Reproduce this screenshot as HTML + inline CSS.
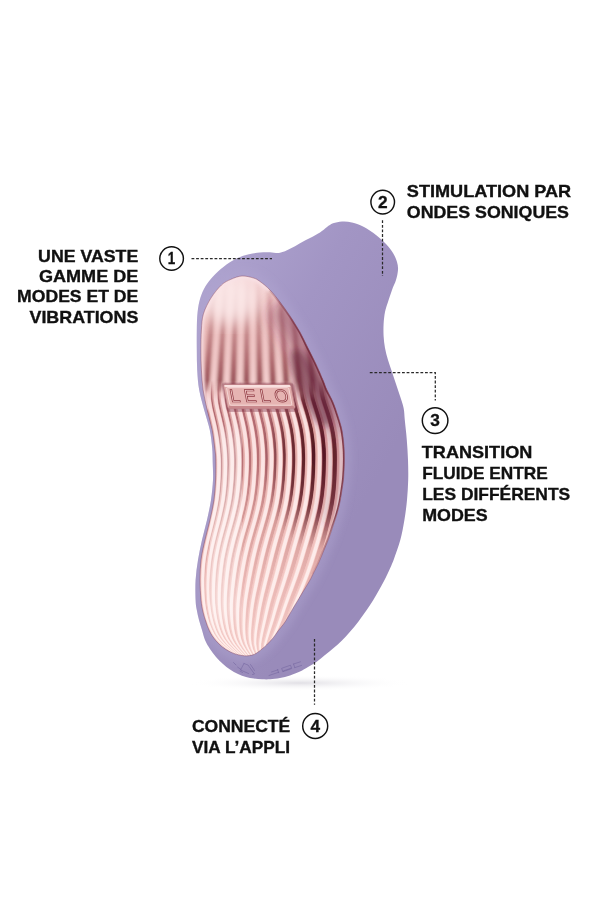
<!DOCTYPE html>
<html><head><meta charset="utf-8"><title>infographic</title>
<style>
html,body{margin:0;padding:0;background:#fff;}
body{width:600px;height:900px;overflow:hidden;font-family:"Liberation Sans",sans-serif;}
svg{display:block;will-change:transform}
svg text{font-family:"Liberation Sans",sans-serif;font-weight:bold;fill:#111;}
</style></head><body>
<svg width="600" height="900" viewBox="0 0 600 900">
<defs>
<linearGradient id="pg" x1="195" y1="300" x2="410" y2="420" gradientUnits="userSpaceOnUse">
<stop offset="0" stop-color="#ada2ce"/><stop offset="0.4" stop-color="#a295c4"/><stop offset="1" stop-color="#998bba"/>
</linearGradient>
<linearGradient id="pinkv" x1="0" y1="277" x2="0" y2="656" gradientUnits="userSpaceOnUse">
<stop offset="0" stop-color="#f5d6d8"/><stop offset="0.06" stop-color="#eec0be"/><stop offset="0.25" stop-color="#e1acaa"/><stop offset="0.45" stop-color="#edbcb8"/><stop offset="0.7" stop-color="#f6cec9"/><stop offset="1" stop-color="#fadcd7"/>
</linearGradient>
<linearGradient id="gdark" x1="0" y1="277" x2="0" y2="656" gradientUnits="userSpaceOnUse">
<stop offset="0.02" stop-color="#b97f92" stop-opacity="0"/><stop offset="0.1" stop-color="#a05a74" stop-opacity="0.8"/><stop offset="0.3" stop-color="#a85c66" stop-opacity="0.9"/><stop offset="0.5" stop-color="#b46a70" stop-opacity="0.9"/><stop offset="0.66" stop-color="#d29492" stop-opacity="0.8"/><stop offset="0.82" stop-color="#e4acaa" stop-opacity="0.7"/><stop offset="1" stop-color="#eebfbc" stop-opacity="0.6"/>
</linearGradient>
<linearGradient id="gmid" x1="0" y1="277" x2="0" y2="656" gradientUnits="userSpaceOnUse">
<stop offset="0" stop-color="#c58fa0" stop-opacity="0"/><stop offset="0.15" stop-color="#c58a9a" stop-opacity="0.5"/><stop offset="0.4" stop-color="#d69694" stop-opacity="0.6"/><stop offset="0.7" stop-color="#eebab8" stop-opacity="0.7"/><stop offset="1" stop-color="#f4cac8" stop-opacity="0.6"/>
</linearGradient>
<linearGradient id="glite" x1="0" y1="277" x2="0" y2="656" gradientUnits="userSpaceOnUse">
<stop offset="0" stop-color="#f6dde2" stop-opacity="0.2"/><stop offset="0.2" stop-color="#f2ccd2" stop-opacity="0.6"/><stop offset="0.36" stop-color="#fbe2e2" stop-opacity="0.95"/><stop offset="0.7" stop-color="#fdebea" stop-opacity="1"/><stop offset="1" stop-color="#fff0ee" stop-opacity="1"/>
</linearGradient>
<radialGradient id="dkov" cx="0.5" cy="0.5" r="0.5"><stop offset="0" stop-color="#6e2a40" stop-opacity="0.42"/><stop offset="0.5" stop-color="#6e2a40" stop-opacity="0.2"/><stop offset="1" stop-color="#6e2a40" stop-opacity="0"/></radialGradient>
<radialGradient id="ltov" cx="0.5" cy="0.5" r="0.5"><stop offset="0" stop-color="#fff" stop-opacity="0.35"/><stop offset="1" stop-color="#fff" stop-opacity="0"/></radialGradient>
<radialGradient id="gdeep" gradientUnits="userSpaceOnUse" cx="318" cy="455" r="95" gradientTransform="translate(318 455) scale(0.62 1) translate(-318 -455)"><stop offset="0" stop-color="#4a1018" stop-opacity="0.95"/><stop offset="0.55" stop-color="#5a1a22" stop-opacity="0.75"/><stop offset="1" stop-color="#6a2630" stop-opacity="0"/></radialGradient>
<linearGradient id="rimg" x1="0" y1="280" x2="0" y2="570" gradientUnits="userSpaceOnUse"><stop offset="0" stop-color="#6d2436" stop-opacity="0"/><stop offset="0.2" stop-color="#6d2436" stop-opacity="0.8"/><stop offset="0.8" stop-color="#6d2436" stop-opacity="0.8"/><stop offset="1" stop-color="#6d2436" stop-opacity="0.1"/></linearGradient>
<radialGradient id="shadow" cx="0.5" cy="0.5" r="0.5"><stop offset="0" stop-color="#d4d2da" stop-opacity="0.7"/><stop offset="1" stop-color="#ffffff" stop-opacity="0"/></radialGradient>
<g id="rg">
<g fill="url(#gdark)"><path d="M214.1,274.0 L213.7,279.0 L213.3,284.0 L212.9,289.0 L212.5,294.0 L212.1,299.0 L211.7,304.0 L211.3,309.0 L210.9,314.0 L210.5,319.0 L210.1,324.0 L209.7,329.0 L209.3,334.0 L208.9,339.0 L208.5,344.0 L208.1,349.0 L207.7,354.0 L207.3,359.0 L206.9,364.0 L206.5,369.0 L206.2,374.0 L205.8,379.0 L205.4,384.0 L205.0,389.0 L204.8,394.0 L205.0,399.0 L205.6,404.0 L206.6,409.0 L207.7,414.0 L209.0,419.0 L210.1,424.0 L211.2,429.0 L212.2,434.0 L212.9,439.0 L213.6,444.0 L214.2,449.0 L214.7,454.0 L215.0,459.0 L215.2,464.0 L215.2,469.0 L215.1,474.0 L215.0,479.0 L214.7,484.0 L214.4,489.0 L213.9,494.0 L213.3,499.0 L212.6,504.0 L211.7,509.0 L210.7,514.0 L209.6,519.0 L208.5,524.0 L207.2,529.0 L206.0,534.0 L204.9,539.0 L203.7,544.0 L202.7,549.0 L201.8,554.0 L201.0,559.0 L200.4,564.0 L200.1,569.0 L199.9,574.0 L199.8,579.0 L199.8,584.0 L200.0,589.0 L200.3,594.0 L200.7,599.0 L201.3,604.0 L202.2,609.0 L203.3,614.0 L204.8,619.0 L206.5,624.0 L208.6,629.0 L211.4,634.0 L215.1,639.0 L220.0,644.0 L226.3,649.0 L233.1,654.0 L239.5,659.0 L239.7,659.0 L233.3,654.0 L226.6,649.0 L220.4,644.0 L215.4,639.0 L211.8,634.0 L209.1,629.0 L207.0,624.0 L205.3,619.0 L203.9,614.0 L202.7,609.0 L201.9,604.0 L201.3,599.0 L200.8,594.0 L200.6,589.0 L200.4,584.0 L200.4,579.0 L200.5,574.0 L200.7,569.0 L201.1,564.0 L201.7,559.0 L202.4,554.0 L203.4,549.0 L204.4,544.0 L205.5,539.0 L206.7,534.0 L207.9,529.0 L209.2,524.0 L210.3,519.0 L211.4,514.0 L212.4,509.0 L213.3,504.0 L214.1,499.0 L214.7,494.0 L215.1,489.0 L215.5,484.0 L215.7,479.0 L215.9,474.0 L216.0,469.0 L216.0,464.0 L215.8,459.0 L215.5,454.0 L215.0,449.0 L214.4,444.0 L213.8,439.0 L213.0,434.0 L212.1,429.0 L211.0,424.0 L209.8,419.0 L208.6,414.0 L207.4,409.0 L206.5,404.0 L205.8,399.0 L205.7,394.0 L205.8,389.0 L206.2,384.0 L206.6,379.0 L206.9,374.0 L207.3,369.0 L207.7,364.0 L208.1,359.0 L208.5,354.0 L208.9,349.0 L209.3,344.0 L209.7,339.0 L210.1,334.0 L210.5,329.0 L210.9,324.0 L211.2,319.0 L211.6,314.0 L212.0,309.0 L212.4,304.0 L212.8,299.0 L213.2,294.0 L213.6,289.0 L214.0,284.0 L214.4,279.0 L214.8,274.0Z"/>
<path d="M218.9,274.0 L218.6,279.0 L218.2,284.0 L217.9,289.0 L217.5,294.0 L217.2,299.0 L216.9,304.0 L216.5,309.0 L216.2,314.0 L215.8,319.0 L215.5,324.0 L215.1,329.0 L214.8,334.0 L214.4,339.0 L214.1,344.0 L213.7,349.0 L213.4,354.0 L213.0,359.0 L212.7,364.0 L212.3,369.0 L212.0,374.0 L211.6,379.0 L211.3,384.0 L211.0,389.0 L210.9,394.0 L211.1,399.0 L211.8,404.0 L212.7,409.0 L213.9,414.0 L215.1,419.0 L216.3,424.0 L217.3,429.0 L218.2,434.0 L219.0,439.0 L219.6,444.0 L220.2,449.0 L220.6,454.0 L220.9,459.0 L221.0,464.0 L220.9,469.0 L220.8,474.0 L220.6,479.0 L220.3,484.0 L219.9,489.0 L219.5,494.0 L218.8,499.0 L218.0,504.0 L217.1,509.0 L216.0,514.0 L214.9,519.0 L213.7,524.0 L212.4,529.0 L211.1,534.0 L209.9,539.0 L208.8,544.0 L207.7,549.0 L206.8,554.0 L205.9,559.0 L205.3,564.0 L204.9,569.0 L204.6,574.0 L204.4,579.0 L204.4,584.0 L204.5,589.0 L204.6,594.0 L205.0,599.0 L205.5,604.0 L206.2,609.0 L207.2,614.0 L208.5,619.0 L210.0,624.0 L212.0,629.0 L214.5,634.0 L217.9,639.0 L222.5,644.0 L228.4,649.0 L234.8,654.0 L240.9,659.0 L241.3,659.0 L235.2,654.0 L228.9,649.0 L223.1,644.0 L218.5,639.0 L215.2,634.0 L212.8,629.0 L210.9,624.0 L209.4,619.0 L208.1,614.0 L207.2,609.0 L206.4,604.0 L205.9,599.0 L205.7,594.0 L205.5,589.0 L205.4,584.0 L205.5,579.0 L205.7,574.0 L206.0,569.0 L206.5,564.0 L207.1,559.0 L207.9,554.0 L208.9,549.0 L209.9,544.0 L211.1,539.0 L212.3,534.0 L213.6,529.0 L214.9,524.0 L216.1,519.0 L217.2,514.0 L218.3,509.0 L219.3,504.0 L220.1,499.0 L220.7,494.0 L221.2,489.0 L221.6,484.0 L221.9,479.0 L222.1,474.0 L222.3,469.0 L222.3,464.0 L222.2,459.0 L221.9,454.0 L221.5,449.0 L221.0,444.0 L220.3,439.0 L219.6,434.0 L218.7,429.0 L217.6,424.0 L216.5,419.0 L215.3,414.0 L214.1,409.0 L213.1,404.0 L212.5,399.0 L212.2,394.0 L212.4,389.0 L212.6,384.0 L213.0,379.0 L213.3,374.0 L213.6,369.0 L214.0,364.0 L214.3,359.0 L214.6,354.0 L215.0,349.0 L215.3,344.0 L215.7,339.0 L216.0,334.0 L216.3,329.0 L216.7,324.0 L217.0,319.0 L217.3,314.0 L217.7,309.0 L218.0,304.0 L218.3,299.0 L218.7,294.0 L219.0,289.0 L219.4,284.0 L219.7,279.0 L220.0,274.0Z"/>
<path d="M224.3,274.0 L224.0,279.0 L223.7,284.0 L223.4,289.0 L223.1,294.0 L222.8,299.0 L222.5,304.0 L222.2,309.0 L222.0,314.0 L221.7,319.0 L221.4,324.0 L221.1,329.0 L220.8,334.0 L220.5,339.0 L220.2,344.0 L219.9,349.0 L219.6,354.0 L219.3,359.0 L219.0,364.0 L218.8,369.0 L218.5,374.0 L218.2,379.0 L217.9,384.0 L217.6,389.0 L217.6,394.0 L217.9,399.0 L218.5,404.0 L219.5,409.0 L220.7,414.0 L221.9,419.0 L223.0,424.0 L224.1,429.0 L225.0,434.0 L225.7,439.0 L226.3,444.0 L226.8,449.0 L227.2,454.0 L227.4,459.0 L227.5,464.0 L227.4,469.0 L227.3,474.0 L227.0,479.0 L226.7,484.0 L226.3,489.0 L225.7,494.0 L225.1,499.0 L224.2,504.0 L223.2,509.0 L222.1,514.0 L220.9,519.0 L219.7,524.0 L218.3,529.0 L217.0,534.0 L215.8,539.0 L214.6,544.0 L213.5,549.0 L212.5,554.0 L211.6,559.0 L211.0,564.0 L210.5,569.0 L210.1,574.0 L209.8,579.0 L209.7,584.0 L209.6,589.0 L209.7,594.0 L209.9,599.0 L210.3,604.0 L210.9,609.0 L211.7,614.0 L212.8,619.0 L214.1,624.0 L215.9,629.0 L218.1,634.0 L221.2,639.0 L225.4,644.0 L230.8,649.0 L236.8,654.0 L242.6,659.0 L242.9,659.0 L237.3,654.0 L231.4,649.0 L226.0,644.0 L221.9,639.0 L218.9,634.0 L216.8,629.0 L215.1,624.0 L213.8,619.0 L212.8,614.0 L212.0,609.0 L211.4,604.0 L211.0,599.0 L210.9,594.0 L210.9,589.0 L210.9,584.0 L211.1,579.0 L211.4,574.0 L211.8,569.0 L212.3,564.0 L213.0,559.0 L213.8,554.0 L214.8,549.0 L215.9,544.0 L217.1,539.0 L218.4,534.0 L219.7,529.0 L221.1,524.0 L222.3,519.0 L223.5,514.0 L224.6,509.0 L225.6,504.0 L226.5,499.0 L227.2,494.0 L227.7,489.0 L228.2,484.0 L228.5,479.0 L228.7,474.0 L228.9,469.0 L229.0,464.0 L228.9,459.0 L228.7,454.0 L228.3,449.0 L227.8,444.0 L227.2,439.0 L226.5,434.0 L225.6,429.0 L224.6,424.0 L223.5,419.0 L222.3,414.0 L221.1,409.0 L220.1,404.0 L219.4,399.0 L219.1,394.0 L219.2,389.0 L219.4,384.0 L219.7,379.0 L219.9,374.0 L220.2,369.0 L220.5,364.0 L220.8,359.0 L221.1,354.0 L221.3,349.0 L221.6,344.0 L221.9,339.0 L222.2,334.0 L222.5,329.0 L222.7,324.0 L223.0,319.0 L223.3,314.0 L223.6,309.0 L223.8,304.0 L224.1,299.0 L224.4,294.0 L224.7,289.0 L225.0,284.0 L225.2,279.0 L225.5,274.0Z"/>
<path d="M229.9,274.0 L229.6,279.0 L229.4,284.0 L229.2,289.0 L228.9,294.0 L228.7,299.0 L228.5,304.0 L228.2,309.0 L228.0,314.0 L227.8,319.0 L227.5,324.0 L227.3,329.0 L227.1,334.0 L226.8,339.0 L226.6,344.0 L226.4,349.0 L226.1,354.0 L225.9,359.0 L225.7,364.0 L225.4,369.0 L225.2,374.0 L225.0,379.0 L224.7,384.0 L224.6,389.0 L224.6,394.0 L224.9,399.0 L225.6,404.0 L226.6,409.0 L227.8,414.0 L229.0,419.0 L230.2,424.0 L231.2,429.0 L232.0,434.0 L232.7,439.0 L233.3,444.0 L233.8,449.0 L234.1,454.0 L234.3,459.0 L234.3,464.0 L234.2,469.0 L234.0,474.0 L233.8,479.0 L233.4,484.0 L232.9,489.0 L232.4,494.0 L231.7,499.0 L230.8,504.0 L229.8,509.0 L228.6,514.0 L227.4,519.0 L226.1,524.0 L224.7,529.0 L223.3,534.0 L222.0,539.0 L220.8,544.0 L219.7,549.0 L218.7,554.0 L217.8,559.0 L217.0,564.0 L216.5,569.0 L216.0,574.0 L215.6,579.0 L215.4,584.0 L215.2,589.0 L215.2,594.0 L215.2,599.0 L215.4,604.0 L215.9,609.0 L216.5,614.0 L217.4,619.0 L218.6,624.0 L220.0,629.0 L222.0,634.0 L224.7,639.0 L228.5,644.0 L233.4,649.0 L238.9,654.0 L244.3,659.0 L244.8,659.0 L239.5,654.0 L234.1,649.0 L229.2,644.0 L225.6,639.0 L222.9,634.0 L221.1,629.0 L219.7,624.0 L218.6,619.0 L217.8,614.0 L217.1,609.0 L216.7,604.0 L216.5,599.0 L216.5,594.0 L216.6,589.0 L216.8,584.0 L217.1,579.0 L217.5,574.0 L218.0,569.0 L218.6,564.0 L219.3,559.0 L220.2,554.0 L221.2,549.0 L222.4,544.0 L223.6,539.0 L224.9,534.0 L226.3,529.0 L227.7,524.0 L229.0,519.0 L230.2,514.0 L231.4,509.0 L232.4,504.0 L233.3,499.0 L234.0,494.0 L234.6,489.0 L235.1,484.0 L235.5,479.0 L235.7,474.0 L235.9,469.0 L236.0,464.0 L236.0,459.0 L235.8,454.0 L235.5,449.0 L235.0,444.0 L234.5,439.0 L233.8,434.0 L232.9,429.0 L231.9,424.0 L230.8,419.0 L229.6,414.0 L228.4,409.0 L227.4,404.0 L226.6,399.0 L226.3,394.0 L226.3,389.0 L226.4,384.0 L226.6,379.0 L226.9,374.0 L227.1,369.0 L227.3,364.0 L227.5,359.0 L227.7,354.0 L228.0,349.0 L228.2,344.0 L228.4,339.0 L228.6,334.0 L228.8,329.0 L229.0,324.0 L229.3,319.0 L229.5,314.0 L229.7,309.0 L229.9,304.0 L230.1,299.0 L230.4,294.0 L230.6,289.0 L230.8,284.0 L231.0,279.0 L231.2,274.0Z"/>
<path d="M235.7,274.0 L235.5,279.0 L235.3,284.0 L235.1,289.0 L235.0,294.0 L234.8,299.0 L234.6,304.0 L234.5,309.0 L234.3,314.0 L234.1,319.0 L233.9,324.0 L233.8,329.0 L233.6,334.0 L233.4,339.0 L233.3,344.0 L233.1,349.0 L232.9,354.0 L232.7,359.0 L232.6,364.0 L232.4,369.0 L232.2,374.0 L232.1,379.0 L231.9,384.0 L231.8,389.0 L231.8,394.0 L232.2,399.0 L233.0,404.0 L234.0,409.0 L235.2,414.0 L236.4,419.0 L237.6,424.0 L238.6,429.0 L239.4,434.0 L240.1,439.0 L240.6,444.0 L241.1,449.0 L241.4,454.0 L241.5,459.0 L241.5,464.0 L241.4,469.0 L241.2,474.0 L240.9,479.0 L240.5,484.0 L240.0,489.0 L239.4,494.0 L238.7,499.0 L237.8,504.0 L236.7,509.0 L235.5,514.0 L234.3,519.0 L232.9,524.0 L231.5,529.0 L230.1,534.0 L228.8,539.0 L227.5,544.0 L226.4,549.0 L225.3,554.0 L224.3,559.0 L223.6,564.0 L222.9,569.0 L222.4,574.0 L221.9,579.0 L221.5,584.0 L221.2,589.0 L221.0,594.0 L220.9,599.0 L221.0,604.0 L221.2,609.0 L221.7,614.0 L222.4,619.0 L223.3,624.0 L224.5,629.0 L226.1,634.0 L228.5,639.0 L231.8,644.0 L236.2,649.0 L241.3,654.0 L246.2,659.0 L246.7,659.0 L241.9,654.0 L237.0,649.0 L232.7,644.0 L229.5,639.0 L227.2,634.0 L225.7,629.0 L224.6,624.0 L223.7,619.0 L223.1,614.0 L222.7,609.0 L222.4,604.0 L222.4,599.0 L222.6,594.0 L222.8,589.0 L223.1,584.0 L223.5,579.0 L224.1,574.0 L224.6,569.0 L225.3,564.0 L226.1,559.0 L227.1,554.0 L228.1,549.0 L229.3,544.0 L230.6,539.0 L231.9,534.0 L233.3,529.0 L234.7,524.0 L236.1,519.0 L237.4,514.0 L238.5,509.0 L239.6,504.0 L240.5,499.0 L241.3,494.0 L241.9,489.0 L242.4,484.0 L242.8,479.0 L243.1,474.0 L243.3,469.0 L243.4,464.0 L243.4,459.0 L243.3,454.0 L243.0,449.0 L242.6,444.0 L242.0,439.0 L241.4,434.0 L240.5,429.0 L239.5,424.0 L238.4,419.0 L237.2,414.0 L236.0,409.0 L234.9,404.0 L234.1,399.0 L233.7,394.0 L233.7,389.0 L233.8,384.0 L233.9,379.0 L234.1,374.0 L234.2,369.0 L234.4,364.0 L234.5,359.0 L234.7,354.0 L234.8,349.0 L235.0,344.0 L235.2,339.0 L235.3,334.0 L235.5,329.0 L235.6,324.0 L235.8,319.0 L235.9,314.0 L236.1,309.0 L236.2,304.0 L236.4,299.0 L236.6,294.0 L236.7,289.0 L236.9,284.0 L237.0,279.0 L237.2,274.0Z"/>
<path d="M241.7,274.0 L241.6,279.0 L241.5,284.0 L241.4,289.0 L241.2,294.0 L241.1,299.0 L241.0,304.0 L240.9,309.0 L240.8,314.0 L240.7,319.0 L240.6,324.0 L240.5,329.0 L240.4,334.0 L240.3,339.0 L240.2,344.0 L240.0,349.0 L239.9,354.0 L239.8,359.0 L239.7,364.0 L239.6,369.0 L239.5,374.0 L239.4,379.0 L239.3,384.0 L239.2,389.0 L239.3,394.0 L239.8,399.0 L240.6,404.0 L241.7,409.0 L242.9,414.0 L244.1,419.0 L245.3,424.0 L246.3,429.0 L247.1,434.0 L247.8,439.0 L248.3,444.0 L248.7,449.0 L249.0,454.0 L249.1,459.0 L249.1,464.0 L248.9,469.0 L248.7,474.0 L248.4,479.0 L248.0,484.0 L247.4,489.0 L246.8,494.0 L246.1,499.0 L245.1,504.0 L244.1,509.0 L242.8,514.0 L241.5,519.0 L240.2,524.0 L238.8,529.0 L237.3,534.0 L235.9,539.0 L234.7,544.0 L233.5,549.0 L232.4,554.0 L231.4,559.0 L230.5,564.0 L229.8,569.0 L229.1,574.0 L228.5,579.0 L228.0,584.0 L227.6,589.0 L227.2,594.0 L227.0,599.0 L226.9,604.0 L227.0,609.0 L227.3,614.0 L227.7,619.0 L228.4,624.0 L229.3,629.0 L230.6,634.0 L232.5,639.0 L235.3,644.0 L239.2,649.0 L243.7,654.0 L248.3,659.0 L248.8,659.0 L244.4,654.0 L240.1,649.0 L236.3,644.0 L233.6,639.0 L231.8,634.0 L230.6,629.0 L229.8,624.0 L229.2,619.0 L228.8,614.0 L228.6,609.0 L228.6,604.0 L228.7,599.0 L229.0,594.0 L229.4,589.0 L229.9,584.0 L230.4,579.0 L231.1,574.0 L231.7,569.0 L232.5,564.0 L233.4,559.0 L234.4,554.0 L235.5,549.0 L236.7,544.0 L238.0,539.0 L239.4,534.0 L240.8,529.0 L242.2,524.0 L243.6,519.0 L244.9,514.0 L246.1,509.0 L247.2,504.0 L248.2,499.0 L248.9,494.0 L249.5,489.0 L250.1,484.0 L250.5,479.0 L250.8,474.0 L251.0,469.0 L251.2,464.0 L251.2,459.0 L251.1,454.0 L250.8,449.0 L250.4,444.0 L249.9,439.0 L249.3,434.0 L248.5,429.0 L247.5,424.0 L246.3,419.0 L245.1,414.0 L243.9,409.0 L242.8,404.0 L241.9,399.0 L241.5,394.0 L241.3,389.0 L241.4,384.0 L241.5,379.0 L241.5,374.0 L241.6,369.0 L241.7,364.0 L241.8,359.0 L241.9,354.0 L242.0,349.0 L242.1,344.0 L242.2,339.0 L242.3,334.0 L242.4,329.0 L242.5,324.0 L242.5,319.0 L242.6,314.0 L242.7,309.0 L242.8,304.0 L242.9,299.0 L243.0,294.0 L243.1,289.0 L243.2,284.0 L243.3,279.0 L243.4,274.0Z"/>
<path d="M247.9,274.0 L247.9,279.0 L247.8,284.0 L247.8,289.0 L247.7,294.0 L247.7,299.0 L247.7,304.0 L247.6,309.0 L247.6,314.0 L247.5,319.0 L247.5,324.0 L247.4,329.0 L247.4,334.0 L247.4,339.0 L247.3,344.0 L247.3,349.0 L247.2,354.0 L247.2,359.0 L247.1,364.0 L247.1,369.0 L247.1,374.0 L247.0,379.0 L247.0,384.0 L247.0,389.0 L247.2,394.0 L247.7,399.0 L248.6,404.0 L249.7,409.0 L250.9,414.0 L252.2,419.0 L253.3,424.0 L254.3,429.0 L255.1,434.0 L255.8,439.0 L256.3,444.0 L256.7,449.0 L256.9,454.0 L257.0,459.0 L257.0,464.0 L256.8,469.0 L256.5,474.0 L256.2,479.0 L255.8,484.0 L255.3,489.0 L254.6,494.0 L253.9,499.0 L252.9,504.0 L251.8,509.0 L250.6,514.0 L249.3,519.0 L247.9,524.0 L246.4,529.0 L245.0,534.0 L243.6,539.0 L242.3,544.0 L241.0,549.0 L239.9,554.0 L238.9,559.0 L237.9,564.0 L237.1,569.0 L236.3,574.0 L235.6,579.0 L235.0,584.0 L234.4,589.0 L233.9,594.0 L233.5,599.0 L233.2,604.0 L233.1,609.0 L233.2,614.0 L233.4,619.0 L233.8,624.0 L234.3,629.0 L235.3,634.0 L236.8,639.0 L239.1,644.0 L242.4,649.0 L246.3,654.0 L250.4,659.0 L251.1,659.0 L247.1,654.0 L243.4,649.0 L240.2,644.0 L238.1,639.0 L236.7,634.0 L235.9,629.0 L235.4,624.0 L235.1,619.0 L234.9,614.0 L234.9,609.0 L235.1,604.0 L235.4,599.0 L235.9,594.0 L236.5,589.0 L237.1,584.0 L237.8,579.0 L238.5,574.0 L239.3,569.0 L240.2,564.0 L241.1,559.0 L242.2,554.0 L243.3,549.0 L244.6,544.0 L245.9,539.0 L247.3,534.0 L248.7,529.0 L250.2,524.0 L251.6,519.0 L252.9,514.0 L254.1,509.0 L255.2,504.0 L256.2,499.0 L257.0,494.0 L257.6,489.0 L258.1,484.0 L258.6,479.0 L258.9,474.0 L259.1,469.0 L259.3,464.0 L259.4,459.0 L259.3,454.0 L259.0,449.0 L258.7,444.0 L258.2,439.0 L257.5,434.0 L256.7,429.0 L255.7,424.0 L254.6,419.0 L253.3,414.0 L252.1,409.0 L250.9,404.0 L250.0,399.0 L249.5,394.0 L249.3,389.0 L249.3,384.0 L249.3,379.0 L249.3,374.0 L249.3,369.0 L249.4,364.0 L249.4,359.0 L249.4,354.0 L249.4,349.0 L249.4,344.0 L249.5,339.0 L249.5,334.0 L249.5,329.0 L249.5,324.0 L249.6,319.0 L249.6,314.0 L249.6,309.0 L249.6,304.0 L249.7,299.0 L249.7,294.0 L249.7,289.0 L249.7,284.0 L249.7,279.0 L249.8,274.0Z"/>
<path d="M254.4,274.0 L254.4,279.0 L254.4,284.0 L254.5,289.0 L254.5,294.0 L254.5,299.0 L254.5,304.0 L254.6,309.0 L254.6,314.0 L254.6,319.0 L254.6,324.0 L254.7,329.0 L254.7,334.0 L254.7,339.0 L254.7,344.0 L254.8,349.0 L254.8,354.0 L254.8,359.0 L254.8,364.0 L254.9,369.0 L254.9,374.0 L254.9,379.0 L254.9,384.0 L255.0,389.0 L255.3,394.0 L255.9,399.0 L256.8,404.0 L258.0,409.0 L259.3,414.0 L260.5,419.0 L261.7,424.0 L262.7,429.0 L263.5,434.0 L264.1,439.0 L264.6,444.0 L265.0,449.0 L265.2,454.0 L265.3,459.0 L265.2,464.0 L265.0,469.0 L264.8,474.0 L264.4,479.0 L264.0,484.0 L263.5,489.0 L262.8,494.0 L262.0,499.0 L261.1,504.0 L260.0,509.0 L258.7,514.0 L257.4,519.0 L256.0,524.0 L254.5,529.0 L253.1,534.0 L251.7,539.0 L250.3,544.0 L249.1,549.0 L247.9,554.0 L246.8,559.0 L245.8,564.0 L244.9,569.0 L244.0,574.0 L243.1,579.0 L242.4,584.0 L241.6,589.0 L240.9,594.0 L240.3,599.0 L239.9,604.0 L239.5,609.0 L239.4,614.0 L239.4,619.0 L239.5,624.0 L239.7,629.0 L240.3,634.0 L241.3,639.0 L243.1,644.0 L245.8,649.0 L249.1,654.0 L252.7,659.0 L253.4,659.0 L250.0,654.0 L246.8,649.0 L244.4,644.0 L242.8,639.0 L241.9,634.0 L241.4,629.0 L241.3,624.0 L241.3,619.0 L241.4,614.0 L241.6,609.0 L242.0,604.0 L242.5,599.0 L243.2,594.0 L243.9,589.0 L244.7,584.0 L245.5,579.0 L246.4,574.0 L247.3,569.0 L248.3,564.0 L249.3,559.0 L250.4,554.0 L251.6,549.0 L252.9,544.0 L254.2,539.0 L255.7,534.0 L257.1,529.0 L258.6,524.0 L260.0,519.0 L261.3,514.0 L262.5,509.0 L263.7,504.0 L264.6,499.0 L265.4,494.0 L266.0,489.0 L266.6,484.0 L267.0,479.0 L267.4,474.0 L267.6,469.0 L267.8,464.0 L267.9,459.0 L267.8,454.0 L267.6,449.0 L267.2,444.0 L266.7,439.0 L266.1,434.0 L265.3,429.0 L264.3,424.0 L263.1,419.0 L261.9,414.0 L260.6,409.0 L259.4,404.0 L258.4,399.0 L257.8,394.0 L257.5,389.0 L257.4,384.0 L257.4,379.0 L257.3,374.0 L257.3,369.0 L257.3,364.0 L257.2,359.0 L257.2,354.0 L257.1,349.0 L257.1,344.0 L257.0,339.0 L257.0,334.0 L256.9,329.0 L256.9,324.0 L256.8,319.0 L256.8,314.0 L256.7,309.0 L256.7,304.0 L256.6,299.0 L256.6,294.0 L256.6,289.0 L256.5,284.0 L256.5,279.0 L256.4,274.0Z"/>
<path d="M261.1,274.0 L261.2,279.0 L261.3,284.0 L261.4,289.0 L261.5,294.0 L261.6,299.0 L261.7,304.0 L261.7,309.0 L261.8,314.0 L261.9,319.0 L262.0,324.0 L262.1,329.0 L262.2,334.0 L262.3,339.0 L262.4,344.0 L262.5,349.0 L262.6,354.0 L262.7,359.0 L262.8,364.0 L262.9,369.0 L263.0,374.0 L263.1,379.0 L263.2,384.0 L263.3,389.0 L263.6,394.0 L264.3,399.0 L265.3,404.0 L266.6,409.0 L267.9,414.0 L269.1,419.0 L270.3,424.0 L271.3,429.0 L272.1,434.0 L272.8,439.0 L273.2,444.0 L273.6,449.0 L273.8,454.0 L273.9,459.0 L273.8,464.0 L273.6,469.0 L273.3,474.0 L273.0,479.0 L272.6,484.0 L272.0,489.0 L271.4,494.0 L270.6,499.0 L269.6,504.0 L268.5,509.0 L267.3,514.0 L266.0,519.0 L264.5,524.0 L263.1,529.0 L261.6,534.0 L260.2,539.0 L258.8,544.0 L257.6,549.0 L256.3,554.0 L255.2,559.0 L254.1,564.0 L253.1,569.0 L252.1,574.0 L251.1,579.0 L250.2,584.0 L249.2,589.0 L248.4,594.0 L247.6,599.0 L246.9,604.0 L246.4,609.0 L246.0,614.0 L245.7,619.0 L245.5,624.0 L245.4,629.0 L245.6,634.0 L246.1,639.0 L247.3,644.0 L249.3,649.0 L252.1,654.0 L255.1,659.0 L255.9,659.0 L253.1,654.0 L250.5,649.0 L248.7,644.0 L247.8,639.0 L247.4,634.0 L247.3,629.0 L247.5,624.0 L247.8,619.0 L248.2,614.0 L248.7,609.0 L249.3,604.0 L250.0,599.0 L250.9,594.0 L251.8,589.0 L252.8,584.0 L253.7,579.0 L254.8,574.0 L255.8,569.0 L256.9,564.0 L258.0,559.0 L259.1,554.0 L260.4,549.0 L261.7,544.0 L263.1,539.0 L264.5,534.0 L266.0,529.0 L267.4,524.0 L268.8,519.0 L270.1,514.0 L271.4,509.0 L272.5,504.0 L273.4,499.0 L274.2,494.0 L274.9,489.0 L275.4,484.0 L275.9,479.0 L276.2,474.0 L276.4,469.0 L276.6,464.0 L276.7,459.0 L276.7,454.0 L276.5,449.0 L276.1,444.0 L275.6,439.0 L275.0,434.0 L274.2,429.0 L273.2,424.0 L272.0,419.0 L270.7,414.0 L269.4,409.0 L268.1,404.0 L267.1,399.0 L266.4,394.0 L266.1,389.0 L265.9,384.0 L265.8,379.0 L265.7,374.0 L265.5,369.0 L265.4,364.0 L265.3,359.0 L265.2,354.0 L265.1,349.0 L264.9,344.0 L264.8,339.0 L264.7,334.0 L264.6,329.0 L264.5,324.0 L264.4,319.0 L264.2,314.0 L264.1,309.0 L264.0,304.0 L263.9,299.0 L263.8,294.0 L263.6,289.0 L263.5,284.0 L263.4,279.0 L263.3,274.0Z"/>
<path d="M268.0,274.0 L268.2,279.0 L268.3,284.0 L268.5,289.0 L268.7,294.0 L268.8,299.0 L269.0,304.0 L269.2,309.0 L269.3,314.0 L269.5,319.0 L269.7,324.0 L269.8,329.0 L270.0,334.0 L270.2,339.0 L270.3,344.0 L270.5,349.0 L270.7,354.0 L270.8,359.0 L271.0,364.0 L271.2,369.0 L271.4,374.0 L271.5,379.0 L271.7,384.0 L271.9,389.0 L272.3,394.0 L273.0,399.0 L274.1,404.0 L275.4,409.0 L276.8,414.0 L278.1,419.0 L279.3,424.0 L280.3,429.0 L281.1,434.0 L281.7,439.0 L282.2,444.0 L282.5,449.0 L282.7,454.0 L282.8,459.0 L282.7,464.0 L282.5,469.0 L282.3,474.0 L281.9,479.0 L281.5,484.0 L281.0,489.0 L280.3,494.0 L279.5,499.0 L278.6,504.0 L277.5,509.0 L276.3,514.0 L274.9,519.0 L273.5,524.0 L272.1,529.0 L270.6,534.0 L269.2,539.0 L267.8,544.0 L266.5,549.0 L265.2,554.0 L264.0,559.0 L262.8,564.0 L261.7,569.0 L260.6,574.0 L259.5,579.0 L258.4,584.0 L257.3,589.0 L256.2,594.0 L255.2,599.0 L254.3,604.0 L253.6,609.0 L252.9,614.0 L252.4,619.0 L251.9,624.0 L251.4,629.0 L251.2,634.0 L251.2,639.0 L251.8,644.0 L253.1,649.0 L255.2,654.0 L257.7,659.0 L258.5,659.0 L256.3,654.0 L254.4,649.0 L253.3,644.0 L253.0,639.0 L253.1,634.0 L253.5,629.0 L254.1,624.0 L254.7,619.0 L255.4,614.0 L256.1,609.0 L256.9,604.0 L257.9,599.0 L259.0,594.0 L260.1,589.0 L261.2,584.0 L262.4,579.0 L263.6,574.0 L264.7,569.0 L265.9,564.0 L267.1,559.0 L268.3,554.0 L269.6,549.0 L271.0,544.0 L272.4,539.0 L273.8,534.0 L275.2,529.0 L276.7,524.0 L278.1,519.0 L279.4,514.0 L280.6,509.0 L281.7,504.0 L282.7,499.0 L283.4,494.0 L284.1,489.0 L284.6,484.0 L285.1,479.0 L285.4,474.0 L285.6,469.0 L285.8,464.0 L285.9,459.0 L285.9,454.0 L285.7,449.0 L285.3,444.0 L284.9,439.0 L284.2,434.0 L283.4,429.0 L282.4,424.0 L281.2,419.0 L279.9,414.0 L278.5,409.0 L277.2,404.0 L276.1,399.0 L275.3,394.0 L274.9,389.0 L274.7,384.0 L274.5,379.0 L274.3,374.0 L274.1,369.0 L273.9,364.0 L273.7,359.0 L273.5,354.0 L273.3,349.0 L273.1,344.0 L272.9,339.0 L272.7,334.0 L272.5,329.0 L272.3,324.0 L272.1,319.0 L271.9,314.0 L271.7,309.0 L271.6,304.0 L271.4,299.0 L271.2,294.0 L271.0,289.0 L270.8,284.0 L270.6,279.0 L270.4,274.0Z"/>
<path d="M275.1,274.0 L275.4,279.0 L275.6,284.0 L275.9,289.0 L276.1,294.0 L276.3,299.0 L276.6,304.0 L276.8,309.0 L277.1,314.0 L277.3,319.0 L277.6,324.0 L277.8,329.0 L278.0,334.0 L278.3,339.0 L278.5,344.0 L278.8,349.0 L279.0,354.0 L279.3,359.0 L279.5,364.0 L279.7,369.0 L280.0,374.0 L280.2,379.0 L280.5,384.0 L280.8,389.0 L281.3,394.0 L282.1,399.0 L283.2,404.0 L284.6,409.0 L286.0,414.0 L287.3,419.0 L288.5,424.0 L289.6,429.0 L290.4,434.0 L291.0,439.0 L291.5,444.0 L291.8,449.0 L292.0,454.0 L292.1,459.0 L292.0,464.0 L291.8,469.0 L291.5,474.0 L291.2,479.0 L290.8,484.0 L290.3,489.0 L289.6,494.0 L288.9,499.0 L288.0,504.0 L286.9,509.0 L285.6,514.0 L284.3,519.0 L282.9,524.0 L281.5,529.0 L280.1,534.0 L278.6,539.0 L277.2,544.0 L275.9,549.0 L274.5,554.0 L273.3,559.0 L272.0,564.0 L270.8,569.0 L269.5,574.0 L268.2,579.0 L267.0,584.0 L265.7,589.0 L264.4,594.0 L263.2,599.0 L262.1,604.0 L261.1,609.0 L260.2,614.0 L259.4,619.0 L258.5,624.0 L257.7,629.0 L257.0,634.0 L256.5,639.0 L256.4,644.0 L257.0,649.0 L258.4,654.0 L260.3,659.0 L261.3,659.0 L259.6,654.0 L258.5,649.0 L258.1,644.0 L258.5,639.0 L259.2,634.0 L260.0,629.0 L261.0,624.0 L262.0,619.0 L262.9,614.0 L263.9,609.0 L265.0,604.0 L266.2,599.0 L267.5,594.0 L268.8,589.0 L270.2,584.0 L271.5,579.0 L272.8,574.0 L274.1,569.0 L275.4,564.0 L276.7,559.0 L278.0,554.0 L279.3,549.0 L280.7,544.0 L282.1,539.0 L283.5,534.0 L285.0,529.0 L286.4,524.0 L287.8,519.0 L289.1,514.0 L290.3,509.0 L291.4,504.0 L292.3,499.0 L293.1,494.0 L293.7,489.0 L294.2,484.0 L294.6,479.0 L294.9,474.0 L295.2,469.0 L295.4,464.0 L295.5,459.0 L295.4,454.0 L295.2,449.0 L294.9,444.0 L294.4,439.0 L293.8,434.0 L293.0,429.0 L291.9,424.0 L290.7,419.0 L289.3,414.0 L287.9,409.0 L286.5,404.0 L285.3,399.0 L284.5,394.0 L284.0,389.0 L283.7,384.0 L283.4,379.0 L283.1,374.0 L282.9,369.0 L282.6,364.0 L282.3,359.0 L282.1,354.0 L281.8,349.0 L281.5,344.0 L281.2,339.0 L281.0,334.0 L280.7,329.0 L280.4,324.0 L280.2,319.0 L279.9,314.0 L279.6,309.0 L279.4,304.0 L279.1,299.0 L278.8,294.0 L278.5,289.0 L278.3,284.0 L278.0,279.0 L277.7,274.0Z"/>
<path d="M282.5,274.0 L282.8,279.0 L283.1,284.0 L283.5,289.0 L283.8,294.0 L284.1,299.0 L284.4,304.0 L284.7,309.0 L285.1,314.0 L285.4,319.0 L285.7,324.0 L286.0,329.0 L286.3,334.0 L286.7,339.0 L287.0,344.0 L287.3,349.0 L287.6,354.0 L287.9,359.0 L288.3,364.0 L288.6,369.0 L288.9,374.0 L289.2,379.0 L289.5,384.0 L289.9,389.0 L290.5,394.0 L291.4,399.0 L292.6,404.0 L294.0,409.0 L295.5,414.0 L296.9,419.0 L298.1,424.0 L299.2,429.0 L300.0,434.0 L300.7,439.0 L301.1,444.0 L301.5,449.0 L301.6,454.0 L301.7,459.0 L301.6,464.0 L301.4,469.0 L301.2,474.0 L300.9,479.0 L300.5,484.0 L300.0,489.0 L299.4,494.0 L298.6,499.0 L297.7,504.0 L296.7,509.0 L295.4,514.0 L294.1,519.0 L292.8,524.0 L291.4,529.0 L290.0,534.0 L288.5,539.0 L287.1,544.0 L285.7,549.0 L284.3,554.0 L283.0,559.0 L281.6,564.0 L280.3,569.0 L278.9,574.0 L277.5,579.0 L276.0,584.0 L274.5,589.0 L273.1,594.0 L271.7,599.0 L270.3,604.0 L269.1,609.0 L267.9,614.0 L266.7,619.0 L265.5,624.0 L264.3,629.0 L263.2,634.0 L262.1,639.0 L261.3,644.0 L261.1,649.0 L261.8,654.0 L263.1,659.0 L264.2,659.0 L263.1,654.0 L262.7,649.0 L263.2,644.0 L264.3,639.0 L265.5,634.0 L266.9,629.0 L268.2,624.0 L269.6,619.0 L270.8,614.0 L272.1,609.0 L273.5,604.0 L274.9,599.0 L276.4,594.0 L278.0,589.0 L279.5,584.0 L281.0,579.0 L282.5,574.0 L283.9,569.0 L285.3,564.0 L286.7,559.0 L288.1,554.0 L289.5,549.0 L290.9,544.0 L292.3,539.0 L293.8,534.0 L295.2,529.0 L296.5,524.0 L297.9,519.0 L299.2,514.0 L300.4,509.0 L301.5,504.0 L302.3,499.0 L303.1,494.0 L303.7,489.0 L304.2,484.0 L304.6,479.0 L304.9,474.0 L305.1,469.0 L305.3,464.0 L305.4,459.0 L305.3,454.0 L305.1,449.0 L304.8,444.0 L304.3,439.0 L303.7,434.0 L302.9,429.0 L301.8,424.0 L300.5,419.0 L299.1,414.0 L297.6,409.0 L296.2,404.0 L294.9,399.0 L294.0,394.0 L293.4,389.0 L293.0,384.0 L292.6,379.0 L292.3,374.0 L291.9,369.0 L291.6,364.0 L291.2,359.0 L290.9,354.0 L290.5,349.0 L290.2,344.0 L289.8,339.0 L289.5,334.0 L289.1,329.0 L288.8,324.0 L288.4,319.0 L288.1,314.0 L287.7,309.0 L287.4,304.0 L287.0,299.0 L286.7,294.0 L286.3,289.0 L286.0,284.0 L285.6,279.0 L285.3,274.0Z"/>
<path d="M290.1,274.0 L290.5,279.0 L290.9,284.0 L291.3,289.0 L291.7,294.0 L292.1,299.0 L292.5,304.0 L292.9,309.0 L293.3,314.0 L293.7,319.0 L294.1,324.0 L294.5,329.0 L294.9,334.0 L295.3,339.0 L295.7,344.0 L296.1,349.0 L296.5,354.0 L296.9,359.0 L297.3,364.0 L297.7,369.0 L298.1,374.0 L298.5,379.0 L298.9,384.0 L299.3,389.0 L300.0,394.0 L300.9,399.0 L302.3,404.0 L303.8,409.0 L305.3,414.0 L306.7,419.0 L308.0,424.0 L309.1,429.0 L310.0,434.0 L310.6,439.0 L311.1,444.0 L311.4,449.0 L311.6,454.0 L311.6,459.0 L311.6,464.0 L311.4,469.0 L311.2,474.0 L310.9,479.0 L310.5,484.0 L310.0,489.0 L309.4,494.0 L308.7,499.0 L307.9,504.0 L306.8,509.0 L305.7,514.0 L304.4,519.0 L303.0,524.0 L301.7,529.0 L300.3,534.0 L298.9,539.0 L297.4,544.0 L296.0,549.0 L294.6,554.0 L293.1,559.0 L291.7,564.0 L290.2,569.0 L288.7,574.0 L287.1,579.0 L285.5,584.0 L283.8,589.0 L282.1,594.0 L280.5,599.0 L278.9,604.0 L277.4,609.0 L275.9,614.0 L274.4,619.0 L272.9,624.0 L271.2,629.0 L269.6,634.0 L268.0,639.0 L266.4,644.0 L265.5,649.0 L265.4,654.0 L266.1,659.0 L267.2,659.0 L266.8,654.0 L267.2,649.0 L268.5,644.0 L270.3,639.0 L272.2,634.0 L274.0,629.0 L275.8,624.0 L277.5,619.0 L279.1,614.0 L280.7,609.0 L282.3,604.0 L284.0,599.0 L285.7,594.0 L287.5,589.0 L289.3,584.0 L291.0,579.0 L292.6,574.0 L294.2,569.0 L295.7,564.0 L297.2,559.0 L298.7,554.0 L300.1,549.0 L301.6,544.0 L303.0,539.0 L304.4,534.0 L305.8,529.0 L307.1,524.0 L308.5,519.0 L309.8,514.0 L310.9,509.0 L311.9,504.0 L312.8,499.0 L313.5,494.0 L314.1,489.0 L314.6,484.0 L314.9,479.0 L315.2,474.0 L315.4,469.0 L315.5,464.0 L315.6,459.0 L315.6,454.0 L315.4,449.0 L315.1,444.0 L314.6,439.0 L313.9,434.0 L313.1,429.0 L311.9,424.0 L310.6,419.0 L309.2,414.0 L307.7,409.0 L306.1,404.0 L304.8,399.0 L303.8,394.0 L303.1,389.0 L302.6,384.0 L302.2,379.0 L301.7,374.0 L301.3,369.0 L300.9,364.0 L300.4,359.0 L300.0,354.0 L299.6,349.0 L299.1,344.0 L298.7,339.0 L298.3,334.0 L297.8,329.0 L297.4,324.0 L297.0,319.0 L296.5,314.0 L296.1,309.0 L295.7,304.0 L295.3,299.0 L294.8,294.0 L294.4,289.0 L294.0,284.0 L293.5,279.0 L293.1,274.0Z"/>
<path d="M297.9,274.0 L298.4,279.0 L298.8,284.0 L299.3,289.0 L299.8,294.0 L300.3,299.0 L300.8,304.0 L301.3,309.0 L301.7,314.0 L302.2,319.0 L302.7,324.0 L303.2,329.0 L303.7,334.0 L304.1,339.0 L304.6,344.0 L305.1,349.0 L305.6,354.0 L306.1,359.0 L306.6,364.0 L307.0,369.0 L307.5,374.0 L308.0,379.0 L308.5,384.0 L309.0,389.0 L309.8,394.0 L310.8,399.0 L312.2,404.0 L313.8,409.0 L315.4,414.0 L316.9,419.0 L318.2,424.0 L319.3,429.0 L320.2,434.0 L320.9,439.0 L321.4,444.0 L321.7,449.0 L321.9,454.0 L321.9,459.0 L321.9,464.0 L321.7,469.0 L321.5,474.0 L321.3,479.0 L321.0,484.0 L320.5,489.0 L319.9,494.0 L319.2,499.0 L318.4,504.0 L317.4,509.0 L316.3,514.0 L315.0,519.0 L313.7,524.0 L312.4,529.0 L311.1,534.0 L309.7,539.0 L308.2,544.0 L306.7,549.0 L305.3,554.0 L303.8,559.0 L302.2,564.0 L300.6,569.0 L298.9,574.0 L297.2,579.0 L295.3,584.0 L293.5,589.0 L291.5,594.0 L289.7,599.0 L287.8,604.0 L286.0,609.0 L284.3,614.0 L282.4,619.0 L280.5,624.0 L278.4,629.0 L276.3,634.0 L274.1,639.0 L271.8,644.0 L270.0,649.0 L269.1,654.0 L269.1,659.0 L270.4,659.0 L270.7,654.0 L271.9,649.0 L274.0,644.0 L276.6,639.0 L279.1,634.0 L281.5,629.0 L283.7,624.0 L285.8,619.0 L287.8,614.0 L289.6,609.0 L291.6,604.0 L293.5,599.0 L295.5,594.0 L297.5,589.0 L299.5,584.0 L301.4,579.0 L303.2,574.0 L304.9,569.0 L306.6,564.0 L308.2,559.0 L309.7,554.0 L311.2,549.0 L312.7,544.0 L314.2,539.0 L315.6,534.0 L316.9,529.0 L318.2,524.0 L319.5,519.0 L320.7,514.0 L321.8,509.0 L322.8,504.0 L323.6,499.0 L324.3,494.0 L324.8,489.0 L325.3,484.0 L325.6,479.0 L325.9,474.0 L326.0,469.0 L326.2,464.0 L326.2,459.0 L326.2,454.0 L326.0,449.0 L325.6,444.0 L325.1,439.0 L324.5,434.0 L323.6,429.0 L322.4,424.0 L321.1,419.0 L319.6,414.0 L318.0,409.0 L316.4,404.0 L314.9,399.0 L313.8,394.0 L313.1,389.0 L312.5,384.0 L312.0,379.0 L311.4,374.0 L310.9,369.0 L310.4,364.0 L309.9,359.0 L309.4,354.0 L308.9,349.0 L308.3,344.0 L307.8,339.0 L307.3,334.0 L306.8,329.0 L306.3,324.0 L305.8,319.0 L305.3,314.0 L304.7,309.0 L304.2,304.0 L303.7,299.0 L303.2,294.0 L302.7,289.0 L302.2,284.0 L301.6,279.0 L301.1,274.0Z"/>
<path d="M305.9,274.0 L306.5,279.0 L307.0,284.0 L307.6,289.0 L308.2,294.0 L308.7,299.0 L309.3,304.0 L309.9,309.0 L310.4,314.0 L311.0,319.0 L311.6,324.0 L312.1,329.0 L312.7,334.0 L313.3,339.0 L313.8,344.0 L314.4,349.0 L315.0,354.0 L315.5,359.0 L316.1,364.0 L316.7,369.0 L317.2,374.0 L317.8,379.0 L318.4,384.0 L319.0,389.0 L319.8,394.0 L321.0,399.0 L322.5,404.0 L324.2,409.0 L325.8,414.0 L327.3,419.0 L328.7,424.0 L329.9,429.0 L330.8,434.0 L331.5,439.0 L332.0,444.0 L332.3,449.0 L332.5,454.0 L332.6,459.0 L332.5,464.0 L332.4,469.0 L332.3,474.0 L332.1,479.0 L331.7,484.0 L331.3,489.0 L330.8,494.0 L330.1,499.0 L329.4,504.0 L328.4,509.0 L327.3,514.0 L326.1,519.0 L324.8,524.0 L323.6,529.0 L322.3,534.0 L320.9,539.0 L319.5,544.0 L317.9,549.0 L316.4,554.0 L314.8,559.0 L313.2,564.0 L311.4,569.0 L309.6,574.0 L307.7,579.0 L305.6,584.0 L303.5,589.0 L301.4,594.0 L299.2,599.0 L297.1,604.0 L295.0,609.0 L293.0,614.0 L290.8,619.0 L288.5,624.0 L286.0,629.0 L283.3,634.0 L280.4,639.0 L277.4,644.0 L274.7,649.0 L273.0,654.0 L272.3,659.0 L273.7,659.0 L274.7,654.0 L276.7,649.0 L279.8,644.0 L283.2,639.0 L286.3,634.0 L289.2,629.0 L291.9,624.0 L294.5,619.0 L296.8,614.0 L299.0,609.0 L301.2,604.0 L303.4,599.0 L305.7,594.0 L307.9,589.0 L310.1,584.0 L312.2,579.0 L314.2,574.0 L316.1,569.0 L317.9,564.0 L319.6,559.0 L321.3,554.0 L322.8,549.0 L324.3,544.0 L325.8,539.0 L327.2,534.0 L328.4,529.0 L329.7,524.0 L330.9,519.0 L332.1,514.0 L333.2,509.0 L334.1,504.0 L334.9,499.0 L335.5,494.0 L336.0,489.0 L336.4,484.0 L336.7,479.0 L336.9,474.0 L337.0,469.0 L337.1,464.0 L337.2,459.0 L337.1,454.0 L336.9,449.0 L336.6,444.0 L336.1,439.0 L335.4,434.0 L334.4,429.0 L333.2,424.0 L331.9,419.0 L330.3,414.0 L328.6,409.0 L326.9,404.0 L325.4,399.0 L324.2,394.0 L323.3,389.0 L322.6,384.0 L322.0,379.0 L321.4,374.0 L320.8,369.0 L320.2,364.0 L319.6,359.0 L319.0,354.0 L318.4,349.0 L317.8,344.0 L317.2,339.0 L316.6,334.0 L316.0,329.0 L315.4,324.0 L314.8,319.0 L314.2,314.0 L313.6,309.0 L313.0,304.0 L312.4,299.0 L311.8,294.0 L311.2,289.0 L310.6,284.0 L310.0,279.0 L309.4,274.0Z"/></g>
<g fill="url(#gdeep)"><path d="M214.1,274.0 L213.7,279.0 L213.3,284.0 L212.9,289.0 L212.5,294.0 L212.1,299.0 L211.7,304.0 L211.3,309.0 L210.9,314.0 L210.5,319.0 L210.1,324.0 L209.7,329.0 L209.3,334.0 L208.9,339.0 L208.5,344.0 L208.1,349.0 L207.7,354.0 L207.3,359.0 L206.9,364.0 L206.5,369.0 L206.2,374.0 L205.8,379.0 L205.4,384.0 L205.0,389.0 L204.8,394.0 L205.0,399.0 L205.6,404.0 L206.6,409.0 L207.7,414.0 L209.0,419.0 L210.1,424.0 L211.2,429.0 L212.2,434.0 L212.9,439.0 L213.6,444.0 L214.2,449.0 L214.7,454.0 L215.0,459.0 L215.2,464.0 L215.2,469.0 L215.1,474.0 L215.0,479.0 L214.7,484.0 L214.4,489.0 L213.9,494.0 L213.3,499.0 L212.6,504.0 L211.7,509.0 L210.7,514.0 L209.6,519.0 L208.5,524.0 L207.2,529.0 L206.0,534.0 L204.9,539.0 L203.7,544.0 L202.7,549.0 L201.8,554.0 L201.0,559.0 L200.4,564.0 L200.1,569.0 L199.9,574.0 L199.8,579.0 L199.8,584.0 L200.0,589.0 L200.3,594.0 L200.7,599.0 L201.3,604.0 L202.2,609.0 L203.3,614.0 L204.8,619.0 L206.5,624.0 L208.6,629.0 L211.4,634.0 L215.1,639.0 L220.0,644.0 L226.3,649.0 L233.1,654.0 L239.5,659.0 L239.6,659.0 L233.2,654.0 L226.5,649.0 L220.3,644.0 L215.3,639.0 L211.7,634.0 L209.0,629.0 L206.9,624.0 L205.1,619.0 L203.7,614.0 L202.6,609.0 L201.7,604.0 L201.1,599.0 L200.7,594.0 L200.4,589.0 L200.3,584.0 L200.2,579.0 L200.3,574.0 L200.6,569.0 L200.9,564.0 L201.5,559.0 L202.3,554.0 L203.2,549.0 L204.3,544.0 L205.4,539.0 L206.6,534.0 L207.8,529.0 L209.0,524.0 L210.1,519.0 L211.2,514.0 L212.2,509.0 L213.1,504.0 L213.9,499.0 L214.5,494.0 L214.9,489.0 L215.3,484.0 L215.6,479.0 L215.7,474.0 L215.8,469.0 L215.8,464.0 L215.6,459.0 L215.3,454.0 L214.9,449.0 L214.2,444.0 L213.6,439.0 L212.8,434.0 L211.9,429.0 L210.8,424.0 L209.6,419.0 L208.4,414.0 L207.2,409.0 L206.3,404.0 L205.7,399.0 L205.5,394.0 L205.6,389.0 L206.0,384.0 L206.4,379.0 L206.8,374.0 L207.2,369.0 L207.5,364.0 L207.9,359.0 L208.3,354.0 L208.7,349.0 L209.1,344.0 L209.5,339.0 L209.9,334.0 L210.3,329.0 L210.7,324.0 L211.1,319.0 L211.5,314.0 L211.9,309.0 L212.3,304.0 L212.7,299.0 L213.0,294.0 L213.4,289.0 L213.8,284.0 L214.2,279.0 L214.6,274.0Z"/>
<path d="M219.1,274.0 L218.8,279.0 L218.5,284.0 L218.1,289.0 L217.8,294.0 L217.4,299.0 L217.1,304.0 L216.7,309.0 L216.4,314.0 L216.0,319.0 L215.7,324.0 L215.3,329.0 L215.0,334.0 L214.7,339.0 L214.3,344.0 L214.0,349.0 L213.6,354.0 L213.3,359.0 L212.9,364.0 L212.6,369.0 L212.2,374.0 L211.9,379.0 L211.6,384.0 L211.3,389.0 L211.1,394.0 L211.4,399.0 L212.0,404.0 L213.0,409.0 L214.1,414.0 L215.3,419.0 L216.5,424.0 L217.6,429.0 L218.5,434.0 L219.2,439.0 L219.9,444.0 L220.4,449.0 L220.9,454.0 L221.1,459.0 L221.2,464.0 L221.2,469.0 L221.1,474.0 L220.9,479.0 L220.6,484.0 L220.2,489.0 L219.7,494.0 L219.1,499.0 L218.3,504.0 L217.3,509.0 L216.3,514.0 L215.1,519.0 L213.9,524.0 L212.6,529.0 L211.4,534.0 L210.1,539.0 L209.0,544.0 L207.9,549.0 L207.0,554.0 L206.2,559.0 L205.6,564.0 L205.1,569.0 L204.8,574.0 L204.6,579.0 L204.6,584.0 L204.7,589.0 L204.8,594.0 L205.2,599.0 L205.7,604.0 L206.4,609.0 L207.4,614.0 L208.7,619.0 L210.2,624.0 L212.1,629.0 L214.6,634.0 L218.0,639.0 L222.6,644.0 L228.5,649.0 L234.9,654.0 L241.0,659.0 L241.2,659.0 L235.1,654.0 L228.8,649.0 L223.0,644.0 L218.4,639.0 L215.1,634.0 L212.6,629.0 L210.7,624.0 L209.2,619.0 L208.0,614.0 L207.0,609.0 L206.3,604.0 L205.8,599.0 L205.5,594.0 L205.4,589.0 L205.3,584.0 L205.4,579.0 L205.6,574.0 L205.9,569.0 L206.3,564.0 L206.9,559.0 L207.7,554.0 L208.7,549.0 L209.8,544.0 L210.9,539.0 L212.2,534.0 L213.4,529.0 L214.7,524.0 L215.9,519.0 L217.1,514.0 L218.1,509.0 L219.1,504.0 L219.9,499.0 L220.5,494.0 L221.0,489.0 L221.4,484.0 L221.7,479.0 L221.9,474.0 L222.1,469.0 L222.1,464.0 L222.0,459.0 L221.7,454.0 L221.3,449.0 L220.8,444.0 L220.1,439.0 L219.4,434.0 L218.5,429.0 L217.4,424.0 L216.3,419.0 L215.1,414.0 L213.9,409.0 L212.9,404.0 L212.3,399.0 L212.0,394.0 L212.2,389.0 L212.4,384.0 L212.8,379.0 L213.1,374.0 L213.5,369.0 L213.8,364.0 L214.1,359.0 L214.5,354.0 L214.8,349.0 L215.1,344.0 L215.5,339.0 L215.8,334.0 L216.2,329.0 L216.5,324.0 L216.8,319.0 L217.2,314.0 L217.5,309.0 L217.8,304.0 L218.2,299.0 L218.5,294.0 L218.9,289.0 L219.2,284.0 L219.5,279.0 L219.9,274.0Z"/>
<path d="M224.5,274.0 L224.2,279.0 L223.9,284.0 L223.6,289.0 L223.3,294.0 L223.1,299.0 L222.8,304.0 L222.5,309.0 L222.2,314.0 L221.9,319.0 L221.6,324.0 L221.3,329.0 L221.0,334.0 L220.7,339.0 L220.5,344.0 L220.2,349.0 L219.9,354.0 L219.6,359.0 L219.3,364.0 L219.0,369.0 L218.7,374.0 L218.4,379.0 L218.2,384.0 L217.9,389.0 L217.8,394.0 L218.1,399.0 L218.8,404.0 L219.8,409.0 L221.0,414.0 L222.2,419.0 L223.3,424.0 L224.4,429.0 L225.2,434.0 L225.9,439.0 L226.6,444.0 L227.1,449.0 L227.5,454.0 L227.7,459.0 L227.7,464.0 L227.7,469.0 L227.5,474.0 L227.3,479.0 L227.0,484.0 L226.5,489.0 L226.0,494.0 L225.3,499.0 L224.5,504.0 L223.5,509.0 L222.4,514.0 L221.2,519.0 L219.9,524.0 L218.6,529.0 L217.3,534.0 L216.0,539.0 L214.8,544.0 L213.7,549.0 L212.7,554.0 L211.9,559.0 L211.2,564.0 L210.7,569.0 L210.3,574.0 L210.0,579.0 L209.9,584.0 L209.9,589.0 L209.9,594.0 L210.1,599.0 L210.5,604.0 L211.1,609.0 L211.9,614.0 L213.0,619.0 L214.3,624.0 L216.0,629.0 L218.2,634.0 L221.3,639.0 L225.5,644.0 L230.9,649.0 L236.9,654.0 L242.6,659.0 L242.9,659.0 L237.2,654.0 L231.3,649.0 L226.0,644.0 L221.8,639.0 L218.8,634.0 L216.6,629.0 L215.0,624.0 L213.7,619.0 L212.6,614.0 L211.8,609.0 L211.2,604.0 L210.9,599.0 L210.7,594.0 L210.7,589.0 L210.7,584.0 L210.9,579.0 L211.2,574.0 L211.6,569.0 L212.1,564.0 L212.8,559.0 L213.6,554.0 L214.6,549.0 L215.7,544.0 L216.9,539.0 L218.2,534.0 L219.5,529.0 L220.9,524.0 L222.1,519.0 L223.3,514.0 L224.4,509.0 L225.5,504.0 L226.3,499.0 L227.0,494.0 L227.5,489.0 L228.0,484.0 L228.3,479.0 L228.5,474.0 L228.7,469.0 L228.8,464.0 L228.7,459.0 L228.5,454.0 L228.1,449.0 L227.6,444.0 L227.0,439.0 L226.3,434.0 L225.4,429.0 L224.4,424.0 L223.2,419.0 L222.0,414.0 L220.9,409.0 L219.9,404.0 L219.2,399.0 L218.9,394.0 L219.0,389.0 L219.2,384.0 L219.5,379.0 L219.7,374.0 L220.0,369.0 L220.3,364.0 L220.6,359.0 L220.9,354.0 L221.1,349.0 L221.4,344.0 L221.7,339.0 L222.0,334.0 L222.3,329.0 L222.5,324.0 L222.8,319.0 L223.1,314.0 L223.4,309.0 L223.7,304.0 L223.9,299.0 L224.2,294.0 L224.5,289.0 L224.8,284.0 L225.1,279.0 L225.3,274.0Z"/>
<path d="M230.1,274.0 L229.9,279.0 L229.6,284.0 L229.4,289.0 L229.2,294.0 L228.9,299.0 L228.7,304.0 L228.5,309.0 L228.2,314.0 L228.0,319.0 L227.8,324.0 L227.6,329.0 L227.3,334.0 L227.1,339.0 L226.9,344.0 L226.6,349.0 L226.4,354.0 L226.2,359.0 L225.9,364.0 L225.7,369.0 L225.5,374.0 L225.3,379.0 L225.0,384.0 L224.8,389.0 L224.8,394.0 L225.2,399.0 L225.9,404.0 L226.9,409.0 L228.1,414.0 L229.3,419.0 L230.4,424.0 L231.5,429.0 L232.3,434.0 L233.0,439.0 L233.6,444.0 L234.1,449.0 L234.4,454.0 L234.6,459.0 L234.6,464.0 L234.5,469.0 L234.3,474.0 L234.1,479.0 L233.7,484.0 L233.2,489.0 L232.7,494.0 L231.9,499.0 L231.1,504.0 L230.0,509.0 L228.9,514.0 L227.6,519.0 L226.3,524.0 L225.0,529.0 L223.6,534.0 L222.3,539.0 L221.1,544.0 L219.9,549.0 L218.9,554.0 L218.0,559.0 L217.3,564.0 L216.7,569.0 L216.3,574.0 L215.9,579.0 L215.6,584.0 L215.5,589.0 L215.4,594.0 L215.4,599.0 L215.6,604.0 L216.1,609.0 L216.7,614.0 L217.6,619.0 L218.7,624.0 L220.2,629.0 L222.1,634.0 L224.8,639.0 L228.6,644.0 L233.5,649.0 L239.0,654.0 L244.4,659.0 L244.7,659.0 L239.4,654.0 L234.0,649.0 L229.1,644.0 L225.4,639.0 L222.8,634.0 L220.9,629.0 L219.5,624.0 L218.5,619.0 L217.6,614.0 L217.0,609.0 L216.6,604.0 L216.4,599.0 L216.3,594.0 L216.4,589.0 L216.6,584.0 L216.9,579.0 L217.3,574.0 L217.8,569.0 L218.4,564.0 L219.1,559.0 L220.0,554.0 L221.1,549.0 L222.2,544.0 L223.4,539.0 L224.7,534.0 L226.1,529.0 L227.5,524.0 L228.8,519.0 L230.0,514.0 L231.2,509.0 L232.2,504.0 L233.1,499.0 L233.8,494.0 L234.4,489.0 L234.9,484.0 L235.3,479.0 L235.5,474.0 L235.7,469.0 L235.8,464.0 L235.8,459.0 L235.6,454.0 L235.3,449.0 L234.8,444.0 L234.2,439.0 L233.6,434.0 L232.7,429.0 L231.7,424.0 L230.5,419.0 L229.3,414.0 L228.2,409.0 L227.1,404.0 L226.4,399.0 L226.1,394.0 L226.1,389.0 L226.2,384.0 L226.4,379.0 L226.7,374.0 L226.9,369.0 L227.1,364.0 L227.3,359.0 L227.5,354.0 L227.8,349.0 L228.0,344.0 L228.2,339.0 L228.4,334.0 L228.6,329.0 L228.9,324.0 L229.1,319.0 L229.3,314.0 L229.5,309.0 L229.7,304.0 L230.0,299.0 L230.2,294.0 L230.4,289.0 L230.6,284.0 L230.8,279.0 L231.1,274.0Z"/>
<path d="M235.9,274.0 L235.7,279.0 L235.6,284.0 L235.4,289.0 L235.2,294.0 L235.0,299.0 L234.9,304.0 L234.7,309.0 L234.5,314.0 L234.4,319.0 L234.2,324.0 L234.0,329.0 L233.9,334.0 L233.7,339.0 L233.5,344.0 L233.4,349.0 L233.2,354.0 L233.0,359.0 L232.8,364.0 L232.7,369.0 L232.5,374.0 L232.3,379.0 L232.2,384.0 L232.1,389.0 L232.1,394.0 L232.5,399.0 L233.3,404.0 L234.3,409.0 L235.5,414.0 L236.7,419.0 L237.9,424.0 L238.9,429.0 L239.7,434.0 L240.4,439.0 L240.9,444.0 L241.4,449.0 L241.7,454.0 L241.8,459.0 L241.8,464.0 L241.7,469.0 L241.5,474.0 L241.2,479.0 L240.8,484.0 L240.3,489.0 L239.7,494.0 L239.0,499.0 L238.1,504.0 L237.0,509.0 L235.8,514.0 L234.5,519.0 L233.2,524.0 L231.8,529.0 L230.4,534.0 L229.0,539.0 L227.8,544.0 L226.6,549.0 L225.6,554.0 L224.6,559.0 L223.8,564.0 L223.2,569.0 L222.6,574.0 L222.1,579.0 L221.8,584.0 L221.5,589.0 L221.2,594.0 L221.1,599.0 L221.2,604.0 L221.5,609.0 L221.9,614.0 L222.6,619.0 L223.5,624.0 L224.7,629.0 L226.3,634.0 L228.6,639.0 L231.9,644.0 L236.3,649.0 L241.3,654.0 L246.3,659.0 L246.7,659.0 L241.8,654.0 L236.9,649.0 L232.6,644.0 L229.3,639.0 L227.1,634.0 L225.5,629.0 L224.4,624.0 L223.6,619.0 L222.9,614.0 L222.5,609.0 L222.3,604.0 L222.2,599.0 L222.4,594.0 L222.6,589.0 L222.9,584.0 L223.4,579.0 L223.9,574.0 L224.4,569.0 L225.1,564.0 L225.9,559.0 L226.9,554.0 L227.9,549.0 L229.1,544.0 L230.4,539.0 L231.7,534.0 L233.1,529.0 L234.5,524.0 L235.9,519.0 L237.1,514.0 L238.3,509.0 L239.4,504.0 L240.3,499.0 L241.1,494.0 L241.7,489.0 L242.2,484.0 L242.6,479.0 L242.9,474.0 L243.1,469.0 L243.2,464.0 L243.2,459.0 L243.1,454.0 L242.8,449.0 L242.3,444.0 L241.8,439.0 L241.1,434.0 L240.3,429.0 L239.3,424.0 L238.1,419.0 L236.9,414.0 L235.8,409.0 L234.7,404.0 L233.9,399.0 L233.5,394.0 L233.4,389.0 L233.5,384.0 L233.7,379.0 L233.8,374.0 L234.0,369.0 L234.2,364.0 L234.3,359.0 L234.5,354.0 L234.6,349.0 L234.8,344.0 L235.0,339.0 L235.1,334.0 L235.3,329.0 L235.4,324.0 L235.6,319.0 L235.7,314.0 L235.9,309.0 L236.1,304.0 L236.2,299.0 L236.4,294.0 L236.5,289.0 L236.7,284.0 L236.8,279.0 L237.0,274.0Z"/>
<path d="M241.9,274.0 L241.8,279.0 L241.7,284.0 L241.6,289.0 L241.5,294.0 L241.4,299.0 L241.3,304.0 L241.2,309.0 L241.1,314.0 L241.0,319.0 L240.9,324.0 L240.8,329.0 L240.7,334.0 L240.5,339.0 L240.4,344.0 L240.3,349.0 L240.2,354.0 L240.1,359.0 L240.0,364.0 L239.9,369.0 L239.8,374.0 L239.7,379.0 L239.6,384.0 L239.5,389.0 L239.7,394.0 L240.1,399.0 L240.9,404.0 L242.0,409.0 L243.3,414.0 L244.5,419.0 L245.6,424.0 L246.6,429.0 L247.4,434.0 L248.1,439.0 L248.6,444.0 L249.0,449.0 L249.3,454.0 L249.4,459.0 L249.4,464.0 L249.2,469.0 L249.0,474.0 L248.7,479.0 L248.3,484.0 L247.8,489.0 L247.1,494.0 L246.4,499.0 L245.4,504.0 L244.4,509.0 L243.1,514.0 L241.8,519.0 L240.5,524.0 L239.1,529.0 L237.6,534.0 L236.2,539.0 L235.0,544.0 L233.8,549.0 L232.7,554.0 L231.7,559.0 L230.8,564.0 L230.1,569.0 L229.4,574.0 L228.8,579.0 L228.3,584.0 L227.9,589.0 L227.5,594.0 L227.2,599.0 L227.1,604.0 L227.2,609.0 L227.5,614.0 L227.9,619.0 L228.6,624.0 L229.5,629.0 L230.8,634.0 L232.7,639.0 L235.5,644.0 L239.3,649.0 L243.8,654.0 L248.3,659.0 L248.8,659.0 L244.3,654.0 L240.0,649.0 L236.2,644.0 L233.5,639.0 L231.7,634.0 L230.5,629.0 L229.7,624.0 L229.1,619.0 L228.7,614.0 L228.4,609.0 L228.4,604.0 L228.5,599.0 L228.8,594.0 L229.2,589.0 L229.7,584.0 L230.2,579.0 L230.8,574.0 L231.5,569.0 L232.3,564.0 L233.2,559.0 L234.2,554.0 L235.3,549.0 L236.5,544.0 L237.8,539.0 L239.1,534.0 L240.6,529.0 L242.0,524.0 L243.4,519.0 L244.7,514.0 L245.9,509.0 L247.0,504.0 L247.9,499.0 L248.7,494.0 L249.3,489.0 L249.8,484.0 L250.3,479.0 L250.6,474.0 L250.8,469.0 L251.0,464.0 L251.0,459.0 L250.9,454.0 L250.6,449.0 L250.2,444.0 L249.7,439.0 L249.0,434.0 L248.2,429.0 L247.2,424.0 L246.1,419.0 L244.9,414.0 L243.7,409.0 L242.5,404.0 L241.7,399.0 L241.2,394.0 L241.1,389.0 L241.1,384.0 L241.2,379.0 L241.3,374.0 L241.4,369.0 L241.5,364.0 L241.6,359.0 L241.7,354.0 L241.8,349.0 L241.9,344.0 L242.0,339.0 L242.1,334.0 L242.2,329.0 L242.2,324.0 L242.3,319.0 L242.4,314.0 L242.5,309.0 L242.6,304.0 L242.7,299.0 L242.8,294.0 L242.9,289.0 L243.0,284.0 L243.1,279.0 L243.2,274.0Z"/>
<path d="M248.2,274.0 L248.1,279.0 L248.1,284.0 L248.1,289.0 L248.0,294.0 L248.0,299.0 L247.9,304.0 L247.9,309.0 L247.9,314.0 L247.8,319.0 L247.8,324.0 L247.7,329.0 L247.7,334.0 L247.7,339.0 L247.6,344.0 L247.6,349.0 L247.5,354.0 L247.5,359.0 L247.5,364.0 L247.4,369.0 L247.4,374.0 L247.3,379.0 L247.3,384.0 L247.3,389.0 L247.5,394.0 L248.0,399.0 L248.9,404.0 L250.0,409.0 L251.3,414.0 L252.5,419.0 L253.7,424.0 L254.7,429.0 L255.5,434.0 L256.1,439.0 L256.6,444.0 L257.0,449.0 L257.2,454.0 L257.3,459.0 L257.3,464.0 L257.1,469.0 L256.9,474.0 L256.5,479.0 L256.1,484.0 L255.6,489.0 L254.9,494.0 L254.2,499.0 L253.2,504.0 L252.1,509.0 L250.9,514.0 L249.6,519.0 L248.2,524.0 L246.7,529.0 L245.3,534.0 L243.9,539.0 L242.6,544.0 L241.4,549.0 L240.2,554.0 L239.2,559.0 L238.2,564.0 L237.4,569.0 L236.6,574.0 L235.9,579.0 L235.3,584.0 L234.7,589.0 L234.2,594.0 L233.7,599.0 L233.4,604.0 L233.3,609.0 L233.4,614.0 L233.6,619.0 L234.0,624.0 L234.6,629.0 L235.5,634.0 L237.0,639.0 L239.3,644.0 L242.5,649.0 L246.5,654.0 L250.5,659.0 L251.0,659.0 L247.1,654.0 L243.3,649.0 L240.1,644.0 L237.9,639.0 L236.6,634.0 L235.7,629.0 L235.2,624.0 L234.9,619.0 L234.7,614.0 L234.7,609.0 L234.9,604.0 L235.2,599.0 L235.7,594.0 L236.2,589.0 L236.9,584.0 L237.5,579.0 L238.3,574.0 L239.1,569.0 L239.9,564.0 L240.9,559.0 L241.9,554.0 L243.1,549.0 L244.3,544.0 L245.6,539.0 L247.0,534.0 L248.5,529.0 L249.9,524.0 L251.3,519.0 L252.7,514.0 L253.9,509.0 L255.0,504.0 L255.9,499.0 L256.7,494.0 L257.4,489.0 L257.9,484.0 L258.3,479.0 L258.6,474.0 L258.9,469.0 L259.1,464.0 L259.1,459.0 L259.0,454.0 L258.8,449.0 L258.4,444.0 L257.9,439.0 L257.3,434.0 L256.5,429.0 L255.5,424.0 L254.3,419.0 L253.1,414.0 L251.8,409.0 L250.7,404.0 L249.8,399.0 L249.2,394.0 L249.1,389.0 L249.0,384.0 L249.0,379.0 L249.1,374.0 L249.1,369.0 L249.1,364.0 L249.1,359.0 L249.2,354.0 L249.2,349.0 L249.2,344.0 L249.2,339.0 L249.3,334.0 L249.3,329.0 L249.3,324.0 L249.4,319.0 L249.4,314.0 L249.4,309.0 L249.4,304.0 L249.5,299.0 L249.5,294.0 L249.5,289.0 L249.5,284.0 L249.6,279.0 L249.6,274.0Z"/>
<path d="M254.7,274.0 L254.7,279.0 L254.7,284.0 L254.7,289.0 L254.8,294.0 L254.8,299.0 L254.8,304.0 L254.8,309.0 L254.9,314.0 L254.9,319.0 L254.9,324.0 L255.0,329.0 L255.0,334.0 L255.0,339.0 L255.0,344.0 L255.1,349.0 L255.1,354.0 L255.1,359.0 L255.2,364.0 L255.2,369.0 L255.2,374.0 L255.2,379.0 L255.3,384.0 L255.3,389.0 L255.6,394.0 L256.2,399.0 L257.1,404.0 L258.3,409.0 L259.6,414.0 L260.8,419.0 L262.0,424.0 L263.0,429.0 L263.8,434.0 L264.4,439.0 L264.9,444.0 L265.3,449.0 L265.5,454.0 L265.6,459.0 L265.5,464.0 L265.3,469.0 L265.1,474.0 L264.8,479.0 L264.3,484.0 L263.8,489.0 L263.1,494.0 L262.4,499.0 L261.4,504.0 L260.3,509.0 L259.1,514.0 L257.7,519.0 L256.3,524.0 L254.9,529.0 L253.4,534.0 L252.0,539.0 L250.7,544.0 L249.4,549.0 L248.2,554.0 L247.1,559.0 L246.1,564.0 L245.2,569.0 L244.3,574.0 L243.5,579.0 L242.7,584.0 L241.9,589.0 L241.2,594.0 L240.6,599.0 L240.1,604.0 L239.8,609.0 L239.7,614.0 L239.6,619.0 L239.7,624.0 L240.0,629.0 L240.5,634.0 L241.5,639.0 L243.3,644.0 L245.9,649.0 L249.2,654.0 L252.8,659.0 L253.4,659.0 L249.9,654.0 L246.7,649.0 L244.2,644.0 L242.6,639.0 L241.7,634.0 L241.3,629.0 L241.1,624.0 L241.1,619.0 L241.2,614.0 L241.4,609.0 L241.8,604.0 L242.3,599.0 L243.0,594.0 L243.7,589.0 L244.5,584.0 L245.3,579.0 L246.2,574.0 L247.1,569.0 L248.0,564.0 L249.1,559.0 L250.2,554.0 L251.4,549.0 L252.6,544.0 L254.0,539.0 L255.4,534.0 L256.9,529.0 L258.3,524.0 L259.7,519.0 L261.1,514.0 L262.3,509.0 L263.4,504.0 L264.4,499.0 L265.1,494.0 L265.8,489.0 L266.3,484.0 L266.8,479.0 L267.1,474.0 L267.3,469.0 L267.5,464.0 L267.6,459.0 L267.5,454.0 L267.3,449.0 L267.0,444.0 L266.5,439.0 L265.8,434.0 L265.0,429.0 L264.0,424.0 L262.9,419.0 L261.6,414.0 L260.3,409.0 L259.1,404.0 L258.2,399.0 L257.6,394.0 L257.3,389.0 L257.2,384.0 L257.1,379.0 L257.1,374.0 L257.1,369.0 L257.0,364.0 L257.0,359.0 L256.9,354.0 L256.9,349.0 L256.8,344.0 L256.8,339.0 L256.7,334.0 L256.7,329.0 L256.7,324.0 L256.6,319.0 L256.6,314.0 L256.5,309.0 L256.5,304.0 L256.4,299.0 L256.4,294.0 L256.3,289.0 L256.3,284.0 L256.3,279.0 L256.2,274.0Z"/>
<path d="M261.4,274.0 L261.4,279.0 L261.5,284.0 L261.6,289.0 L261.7,294.0 L261.8,299.0 L261.9,304.0 L262.0,309.0 L262.1,314.0 L262.2,319.0 L262.3,324.0 L262.4,329.0 L262.5,334.0 L262.6,339.0 L262.7,344.0 L262.8,349.0 L262.9,354.0 L263.0,359.0 L263.1,364.0 L263.2,369.0 L263.3,374.0 L263.4,379.0 L263.5,384.0 L263.7,389.0 L264.0,394.0 L264.6,399.0 L265.7,404.0 L266.9,409.0 L268.2,414.0 L269.5,419.0 L270.7,424.0 L271.7,429.0 L272.5,434.0 L273.1,439.0 L273.6,444.0 L273.9,449.0 L274.2,454.0 L274.2,459.0 L274.1,464.0 L273.9,469.0 L273.7,474.0 L273.4,479.0 L272.9,484.0 L272.4,489.0 L271.7,494.0 L270.9,499.0 L270.0,504.0 L268.9,509.0 L267.6,514.0 L266.3,519.0 L264.9,524.0 L263.4,529.0 L262.0,534.0 L260.6,539.0 L259.2,544.0 L257.9,549.0 L256.7,554.0 L255.5,559.0 L254.4,564.0 L253.4,569.0 L252.4,574.0 L251.4,579.0 L250.5,584.0 L249.6,589.0 L248.7,594.0 L247.9,599.0 L247.2,604.0 L246.7,609.0 L246.3,614.0 L246.0,619.0 L245.7,624.0 L245.7,629.0 L245.8,634.0 L246.3,639.0 L247.5,644.0 L249.5,649.0 L252.2,654.0 L255.2,659.0 L255.8,659.0 L253.0,654.0 L250.4,649.0 L248.6,644.0 L247.6,639.0 L247.2,634.0 L247.2,629.0 L247.3,624.0 L247.6,619.0 L248.0,614.0 L248.4,609.0 L249.0,604.0 L249.8,599.0 L250.6,594.0 L251.6,589.0 L252.5,584.0 L253.5,579.0 L254.5,574.0 L255.5,569.0 L256.6,564.0 L257.7,559.0 L258.9,554.0 L260.1,549.0 L261.4,544.0 L262.8,539.0 L264.2,534.0 L265.7,529.0 L267.1,524.0 L268.5,519.0 L269.9,514.0 L271.1,509.0 L272.2,504.0 L273.2,499.0 L274.0,494.0 L274.6,489.0 L275.1,484.0 L275.6,479.0 L275.9,474.0 L276.2,469.0 L276.4,464.0 L276.4,459.0 L276.4,454.0 L276.2,449.0 L275.8,444.0 L275.4,439.0 L274.7,434.0 L273.9,429.0 L272.9,424.0 L271.7,419.0 L270.5,414.0 L269.1,409.0 L267.9,404.0 L266.8,399.0 L266.2,394.0 L265.8,389.0 L265.6,384.0 L265.5,379.0 L265.4,374.0 L265.3,369.0 L265.2,364.0 L265.1,359.0 L264.9,354.0 L264.8,349.0 L264.7,344.0 L264.6,339.0 L264.5,334.0 L264.4,329.0 L264.2,324.0 L264.1,319.0 L264.0,314.0 L263.9,309.0 L263.8,304.0 L263.7,299.0 L263.5,294.0 L263.4,289.0 L263.3,284.0 L263.2,279.0 L263.1,274.0Z"/>
<path d="M268.3,274.0 L268.4,279.0 L268.6,284.0 L268.8,289.0 L269.0,294.0 L269.1,299.0 L269.3,304.0 L269.5,309.0 L269.6,314.0 L269.8,319.0 L270.0,324.0 L270.2,329.0 L270.3,334.0 L270.5,339.0 L270.7,344.0 L270.8,349.0 L271.0,354.0 L271.2,359.0 L271.4,364.0 L271.5,369.0 L271.7,374.0 L271.9,379.0 L272.0,384.0 L272.3,389.0 L272.7,394.0 L273.4,399.0 L274.5,404.0 L275.8,409.0 L277.1,414.0 L278.4,419.0 L279.6,424.0 L280.7,429.0 L281.5,434.0 L282.1,439.0 L282.6,444.0 L282.9,449.0 L283.1,454.0 L283.2,459.0 L283.1,464.0 L282.9,469.0 L282.6,474.0 L282.3,479.0 L281.9,484.0 L281.3,489.0 L280.7,494.0 L279.9,499.0 L279.0,504.0 L277.9,509.0 L276.6,514.0 L275.3,519.0 L273.9,524.0 L272.4,529.0 L271.0,534.0 L269.6,539.0 L268.2,544.0 L266.9,549.0 L265.6,554.0 L264.3,559.0 L263.2,564.0 L262.0,569.0 L260.9,574.0 L259.8,579.0 L258.7,584.0 L257.6,589.0 L256.5,594.0 L255.5,599.0 L254.6,604.0 L253.9,609.0 L253.2,614.0 L252.7,619.0 L252.1,624.0 L251.7,629.0 L251.4,634.0 L251.4,639.0 L251.9,644.0 L253.2,649.0 L255.3,654.0 L257.8,659.0 L258.5,659.0 L256.2,654.0 L254.3,649.0 L253.2,644.0 L252.8,639.0 L253.0,634.0 L253.3,629.0 L253.9,624.0 L254.5,619.0 L255.2,614.0 L255.9,609.0 L256.7,604.0 L257.7,599.0 L258.7,594.0 L259.8,589.0 L261.0,584.0 L262.1,579.0 L263.3,574.0 L264.4,569.0 L265.6,564.0 L266.8,559.0 L268.1,554.0 L269.3,549.0 L270.7,544.0 L272.1,539.0 L273.5,534.0 L275.0,529.0 L276.4,524.0 L277.8,519.0 L279.1,514.0 L280.4,509.0 L281.5,504.0 L282.4,499.0 L283.2,494.0 L283.8,489.0 L284.3,484.0 L284.8,479.0 L285.1,474.0 L285.3,469.0 L285.5,464.0 L285.6,459.0 L285.6,454.0 L285.4,449.0 L285.1,444.0 L284.6,439.0 L284.0,434.0 L283.2,429.0 L282.1,424.0 L280.9,419.0 L279.6,414.0 L278.2,409.0 L276.9,404.0 L275.8,399.0 L275.1,394.0 L274.6,389.0 L274.4,384.0 L274.2,379.0 L274.0,374.0 L273.8,369.0 L273.6,364.0 L273.4,359.0 L273.2,354.0 L273.0,349.0 L272.9,344.0 L272.7,339.0 L272.5,334.0 L272.3,329.0 L272.1,324.0 L271.9,319.0 L271.7,314.0 L271.5,309.0 L271.3,304.0 L271.1,299.0 L270.9,294.0 L270.8,289.0 L270.6,284.0 L270.4,279.0 L270.2,274.0Z"/>
<path d="M275.4,274.0 L275.7,279.0 L275.9,284.0 L276.2,289.0 L276.4,294.0 L276.7,299.0 L276.9,304.0 L277.1,309.0 L277.4,314.0 L277.6,319.0 L277.9,324.0 L278.1,329.0 L278.4,334.0 L278.6,339.0 L278.9,344.0 L279.1,349.0 L279.4,354.0 L279.6,359.0 L279.8,364.0 L280.1,369.0 L280.3,374.0 L280.6,379.0 L280.8,384.0 L281.1,389.0 L281.6,394.0 L282.4,399.0 L283.6,404.0 L285.0,409.0 L286.4,414.0 L287.7,419.0 L288.9,424.0 L290.0,429.0 L290.8,434.0 L291.4,439.0 L291.9,444.0 L292.2,449.0 L292.4,454.0 L292.4,459.0 L292.4,464.0 L292.2,469.0 L291.9,474.0 L291.6,479.0 L291.2,484.0 L290.7,489.0 L290.0,494.0 L289.3,499.0 L288.3,504.0 L287.3,509.0 L286.0,514.0 L284.7,519.0 L283.3,524.0 L281.9,529.0 L280.5,534.0 L279.0,539.0 L277.6,544.0 L276.3,549.0 L274.9,554.0 L273.6,559.0 L272.4,564.0 L271.1,569.0 L269.9,574.0 L268.6,579.0 L267.3,584.0 L266.0,589.0 L264.8,594.0 L263.6,599.0 L262.5,604.0 L261.4,609.0 L260.5,614.0 L259.7,619.0 L258.8,624.0 L258.0,629.0 L257.3,634.0 L256.8,639.0 L256.6,644.0 L257.2,649.0 L258.6,654.0 L260.4,659.0 L261.2,659.0 L259.5,654.0 L258.3,649.0 L258.0,644.0 L258.3,639.0 L259.0,634.0 L259.8,629.0 L260.8,624.0 L261.8,619.0 L262.7,614.0 L263.7,609.0 L264.8,604.0 L266.0,599.0 L267.2,594.0 L268.5,589.0 L269.9,584.0 L271.2,579.0 L272.5,574.0 L273.8,569.0 L275.1,564.0 L276.4,559.0 L277.7,554.0 L279.0,549.0 L280.4,544.0 L281.8,539.0 L283.2,534.0 L284.7,529.0 L286.1,524.0 L287.5,519.0 L288.8,514.0 L290.0,509.0 L291.1,504.0 L292.0,499.0 L292.8,494.0 L293.4,489.0 L293.9,484.0 L294.4,479.0 L294.7,474.0 L294.9,469.0 L295.1,464.0 L295.2,459.0 L295.1,454.0 L294.9,449.0 L294.6,444.0 L294.1,439.0 L293.5,434.0 L292.7,429.0 L291.6,424.0 L290.4,419.0 L289.1,414.0 L287.6,409.0 L286.3,404.0 L285.1,399.0 L284.2,394.0 L283.7,389.0 L283.4,384.0 L283.1,379.0 L282.9,374.0 L282.6,369.0 L282.3,364.0 L282.1,359.0 L281.8,354.0 L281.5,349.0 L281.3,344.0 L281.0,339.0 L280.7,334.0 L280.5,329.0 L280.2,324.0 L279.9,319.0 L279.7,314.0 L279.4,309.0 L279.1,304.0 L278.9,299.0 L278.6,294.0 L278.3,289.0 L278.0,284.0 L277.8,279.0 L277.5,274.0Z"/>
<path d="M282.8,274.0 L283.1,279.0 L283.4,284.0 L283.8,289.0 L284.1,294.0 L284.4,299.0 L284.7,304.0 L285.1,309.0 L285.4,314.0 L285.7,319.0 L286.0,324.0 L286.3,329.0 L286.7,334.0 L287.0,339.0 L287.3,344.0 L287.6,349.0 L288.0,354.0 L288.3,359.0 L288.6,364.0 L288.9,369.0 L289.3,374.0 L289.6,379.0 L289.9,384.0 L290.3,389.0 L290.8,394.0 L291.7,399.0 L293.0,404.0 L294.4,409.0 L295.9,414.0 L297.3,419.0 L298.5,424.0 L299.6,429.0 L300.4,434.0 L301.1,439.0 L301.5,444.0 L301.9,449.0 L302.0,454.0 L302.1,459.0 L302.0,464.0 L301.8,469.0 L301.6,474.0 L301.3,479.0 L300.9,484.0 L300.4,489.0 L299.8,494.0 L299.0,499.0 L298.1,504.0 L297.1,509.0 L295.8,514.0 L294.5,519.0 L293.2,524.0 L291.8,529.0 L290.4,534.0 L288.9,539.0 L287.5,544.0 L286.1,549.0 L284.7,554.0 L283.4,559.0 L282.0,564.0 L280.6,569.0 L279.3,574.0 L277.8,579.0 L276.4,584.0 L274.9,589.0 L273.4,594.0 L272.0,599.0 L270.7,604.0 L269.4,609.0 L268.2,614.0 L267.0,619.0 L265.8,624.0 L264.6,629.0 L263.4,634.0 L262.3,639.0 L261.5,644.0 L261.3,649.0 L262.0,654.0 L263.2,659.0 L264.1,659.0 L263.0,654.0 L262.6,649.0 L263.1,644.0 L264.1,639.0 L265.3,634.0 L266.7,629.0 L268.0,624.0 L269.3,619.0 L270.6,614.0 L271.9,609.0 L273.2,604.0 L274.6,599.0 L276.1,594.0 L277.7,589.0 L279.2,584.0 L280.7,579.0 L282.2,574.0 L283.6,569.0 L285.0,564.0 L286.4,559.0 L287.8,554.0 L289.2,549.0 L290.6,544.0 L292.0,539.0 L293.4,534.0 L294.9,529.0 L296.2,524.0 L297.6,519.0 L298.9,514.0 L300.1,509.0 L301.2,504.0 L302.0,499.0 L302.8,494.0 L303.4,489.0 L303.9,484.0 L304.3,479.0 L304.6,474.0 L304.8,469.0 L305.0,464.0 L305.1,459.0 L305.0,454.0 L304.8,449.0 L304.5,444.0 L304.0,439.0 L303.4,434.0 L302.6,429.0 L301.5,424.0 L300.2,419.0 L298.8,414.0 L297.4,409.0 L295.9,404.0 L294.6,399.0 L293.7,394.0 L293.1,389.0 L292.7,384.0 L292.4,379.0 L292.0,374.0 L291.7,369.0 L291.3,364.0 L291.0,359.0 L290.6,354.0 L290.3,349.0 L289.9,344.0 L289.6,339.0 L289.2,334.0 L288.9,329.0 L288.5,324.0 L288.2,319.0 L287.8,314.0 L287.5,309.0 L287.2,304.0 L286.8,299.0 L286.5,294.0 L286.1,289.0 L285.8,284.0 L285.4,279.0 L285.1,274.0Z"/>
<path d="M290.4,274.0 L290.8,279.0 L291.2,284.0 L291.6,289.0 L292.0,294.0 L292.4,299.0 L292.8,304.0 L293.2,309.0 L293.6,314.0 L294.0,319.0 L294.4,324.0 L294.8,329.0 L295.2,334.0 L295.6,339.0 L296.0,344.0 L296.4,349.0 L296.8,354.0 L297.2,359.0 L297.6,364.0 L298.0,369.0 L298.4,374.0 L298.9,379.0 L299.3,384.0 L299.7,389.0 L300.4,394.0 L301.3,399.0 L302.7,404.0 L304.2,409.0 L305.7,414.0 L307.1,419.0 L308.4,424.0 L309.5,429.0 L310.4,434.0 L311.0,439.0 L311.5,444.0 L311.8,449.0 L312.0,454.0 L312.0,459.0 L312.0,464.0 L311.8,469.0 L311.6,474.0 L311.3,479.0 L310.9,484.0 L310.5,489.0 L309.9,494.0 L309.1,499.0 L308.3,504.0 L307.2,509.0 L306.1,514.0 L304.8,519.0 L303.4,524.0 L302.1,529.0 L300.7,534.0 L299.3,539.0 L297.9,544.0 L296.4,549.0 L295.0,554.0 L293.6,559.0 L292.1,564.0 L290.6,569.0 L289.1,574.0 L287.5,579.0 L285.9,584.0 L284.2,589.0 L282.5,594.0 L280.8,599.0 L279.2,604.0 L277.7,609.0 L276.2,614.0 L274.7,619.0 L273.2,624.0 L271.5,629.0 L269.9,634.0 L268.2,639.0 L266.7,644.0 L265.6,649.0 L265.5,654.0 L266.2,659.0 L267.1,659.0 L266.7,654.0 L267.1,649.0 L268.3,644.0 L270.1,639.0 L272.0,634.0 L273.8,629.0 L275.6,624.0 L277.3,619.0 L278.9,614.0 L280.4,609.0 L282.0,604.0 L283.7,599.0 L285.5,594.0 L287.2,589.0 L289.0,584.0 L290.7,579.0 L292.3,574.0 L293.9,569.0 L295.4,564.0 L296.9,559.0 L298.4,554.0 L299.8,549.0 L301.3,544.0 L302.7,539.0 L304.1,534.0 L305.5,529.0 L306.8,524.0 L308.2,519.0 L309.4,514.0 L310.6,509.0 L311.6,504.0 L312.5,499.0 L313.2,494.0 L313.8,489.0 L314.2,484.0 L314.6,479.0 L314.9,474.0 L315.1,469.0 L315.2,464.0 L315.3,459.0 L315.3,454.0 L315.1,449.0 L314.8,444.0 L314.3,439.0 L313.6,434.0 L312.8,429.0 L311.6,424.0 L310.3,419.0 L308.9,414.0 L307.4,409.0 L305.8,404.0 L304.5,399.0 L303.5,394.0 L302.8,389.0 L302.3,384.0 L301.9,379.0 L301.4,374.0 L301.0,369.0 L300.6,364.0 L300.2,359.0 L299.7,354.0 L299.3,349.0 L298.9,344.0 L298.4,339.0 L298.0,334.0 L297.6,329.0 L297.2,324.0 L296.7,319.0 L296.3,314.0 L295.9,309.0 L295.4,304.0 L295.0,299.0 L294.6,294.0 L294.1,289.0 L293.7,284.0 L293.3,279.0 L292.9,274.0Z"/>
<path d="M298.2,274.0 L298.7,279.0 L299.2,284.0 L299.7,289.0 L300.1,294.0 L300.6,299.0 L301.1,304.0 L301.6,309.0 L302.1,314.0 L302.6,319.0 L303.1,324.0 L303.5,329.0 L304.0,334.0 L304.5,339.0 L305.0,344.0 L305.5,349.0 L306.0,354.0 L306.5,359.0 L306.9,364.0 L307.4,369.0 L307.9,374.0 L308.4,379.0 L308.9,384.0 L309.4,389.0 L310.2,394.0 L311.2,399.0 L312.6,404.0 L314.2,409.0 L315.8,414.0 L317.3,419.0 L318.6,424.0 L319.7,429.0 L320.6,434.0 L321.3,439.0 L321.8,444.0 L322.1,449.0 L322.3,454.0 L322.4,459.0 L322.3,464.0 L322.2,469.0 L322.0,474.0 L321.7,479.0 L321.4,484.0 L320.9,489.0 L320.4,494.0 L319.7,499.0 L318.8,504.0 L317.9,509.0 L316.7,514.0 L315.5,519.0 L314.2,524.0 L312.8,529.0 L311.5,534.0 L310.1,539.0 L308.7,544.0 L307.2,549.0 L305.7,554.0 L304.2,559.0 L302.6,564.0 L301.0,569.0 L299.3,574.0 L297.6,579.0 L295.7,584.0 L293.8,589.0 L291.9,594.0 L290.0,599.0 L288.2,604.0 L286.4,609.0 L284.6,614.0 L282.8,619.0 L280.8,624.0 L278.7,629.0 L276.6,634.0 L274.3,639.0 L272.0,644.0 L270.2,649.0 L269.3,654.0 L269.2,659.0 L270.3,659.0 L270.6,654.0 L271.7,649.0 L273.9,644.0 L276.4,639.0 L278.9,634.0 L281.2,629.0 L283.5,624.0 L285.6,619.0 L287.5,614.0 L289.4,609.0 L291.3,604.0 L293.2,599.0 L295.2,594.0 L297.2,589.0 L299.2,584.0 L301.1,579.0 L302.9,574.0 L304.6,569.0 L306.3,564.0 L307.9,559.0 L309.4,554.0 L310.9,549.0 L312.4,544.0 L313.8,539.0 L315.2,534.0 L316.6,529.0 L317.9,524.0 L319.2,519.0 L320.4,514.0 L321.5,509.0 L322.5,504.0 L323.3,499.0 L324.0,494.0 L324.5,489.0 L325.0,484.0 L325.3,479.0 L325.5,474.0 L325.7,469.0 L325.8,464.0 L325.9,459.0 L325.9,454.0 L325.7,449.0 L325.3,444.0 L324.8,439.0 L324.2,434.0 L323.3,429.0 L322.1,424.0 L320.8,419.0 L319.3,414.0 L317.7,409.0 L316.1,404.0 L314.6,399.0 L313.5,394.0 L312.8,389.0 L312.2,384.0 L311.7,379.0 L311.2,374.0 L310.6,369.0 L310.1,364.0 L309.6,359.0 L309.1,354.0 L308.6,349.0 L308.1,344.0 L307.6,339.0 L307.0,334.0 L306.5,329.0 L306.0,324.0 L305.5,319.0 L305.0,314.0 L304.5,309.0 L304.0,304.0 L303.5,299.0 L302.9,294.0 L302.4,289.0 L301.9,284.0 L301.4,279.0 L300.9,274.0Z"/>
<path d="M306.2,274.0 L306.8,279.0 L307.4,284.0 L308.0,289.0 L308.5,294.0 L309.1,299.0 L309.7,304.0 L310.2,309.0 L310.8,314.0 L311.4,319.0 L311.9,324.0 L312.5,329.0 L313.1,334.0 L313.6,339.0 L314.2,344.0 L314.8,349.0 L315.4,354.0 L315.9,359.0 L316.5,364.0 L317.1,369.0 L317.6,374.0 L318.2,379.0 L318.8,384.0 L319.4,389.0 L320.2,394.0 L321.4,399.0 L322.9,404.0 L324.6,409.0 L326.2,414.0 L327.8,419.0 L329.1,424.0 L330.3,429.0 L331.2,434.0 L331.9,439.0 L332.4,444.0 L332.8,449.0 L332.9,454.0 L333.0,459.0 L333.0,464.0 L332.8,469.0 L332.7,474.0 L332.5,479.0 L332.2,484.0 L331.8,489.0 L331.2,494.0 L330.6,499.0 L329.8,504.0 L328.9,509.0 L327.8,514.0 L326.6,519.0 L325.3,524.0 L324.0,529.0 L322.7,534.0 L321.4,539.0 L319.9,544.0 L318.4,549.0 L316.9,554.0 L315.3,559.0 L313.6,564.0 L311.9,569.0 L310.0,574.0 L308.1,579.0 L306.0,584.0 L303.9,589.0 L301.8,594.0 L299.6,599.0 L297.5,604.0 L295.4,609.0 L293.3,614.0 L291.2,619.0 L288.8,624.0 L286.3,629.0 L283.6,634.0 L280.7,639.0 L277.6,644.0 L274.9,649.0 L273.2,654.0 L272.4,659.0 L273.6,659.0 L274.6,654.0 L276.6,649.0 L279.6,644.0 L283.0,639.0 L286.1,634.0 L289.0,629.0 L291.7,624.0 L294.2,619.0 L296.5,614.0 L298.7,609.0 L300.9,604.0 L303.1,599.0 L305.4,594.0 L307.6,589.0 L309.8,584.0 L311.9,579.0 L313.9,574.0 L315.8,569.0 L317.6,564.0 L319.3,559.0 L320.9,554.0 L322.5,549.0 L324.0,544.0 L325.5,539.0 L326.8,534.0 L328.1,529.0 L329.3,524.0 L330.6,519.0 L331.8,514.0 L332.8,509.0 L333.8,504.0 L334.5,499.0 L335.2,494.0 L335.7,489.0 L336.1,484.0 L336.4,479.0 L336.6,474.0 L336.7,469.0 L336.8,464.0 L336.9,459.0 L336.8,454.0 L336.6,449.0 L336.2,444.0 L335.7,439.0 L335.0,434.0 L334.1,429.0 L332.9,424.0 L331.5,419.0 L330.0,414.0 L328.3,409.0 L326.6,404.0 L325.0,399.0 L323.9,394.0 L323.0,389.0 L322.3,384.0 L321.7,379.0 L321.1,374.0 L320.5,369.0 L319.9,364.0 L319.3,359.0 L318.7,354.0 L318.1,349.0 L317.5,344.0 L316.9,339.0 L316.3,334.0 L315.7,329.0 L315.1,324.0 L314.5,319.0 L313.9,314.0 L313.3,309.0 L312.7,304.0 L312.1,299.0 L311.5,294.0 L310.9,289.0 L310.3,284.0 L309.7,279.0 L309.1,274.0Z"/></g>
<g fill="url(#gmid)"><path d="M214.8,274.0 L214.4,279.0 L214.0,284.0 L213.6,289.0 L213.2,294.0 L212.8,299.0 L212.4,304.0 L212.0,309.0 L211.6,314.0 L211.2,319.0 L210.9,324.0 L210.5,329.0 L210.1,334.0 L209.7,339.0 L209.3,344.0 L208.9,349.0 L208.5,354.0 L208.1,359.0 L207.7,364.0 L207.3,369.0 L206.9,374.0 L206.6,379.0 L206.2,384.0 L205.8,389.0 L205.7,394.0 L205.8,399.0 L206.5,404.0 L207.4,409.0 L208.6,414.0 L209.8,419.0 L211.0,424.0 L212.1,429.0 L213.0,434.0 L213.8,439.0 L214.4,444.0 L215.0,449.0 L215.5,454.0 L215.8,459.0 L216.0,464.0 L216.0,469.0 L215.9,474.0 L215.7,479.0 L215.5,484.0 L215.1,489.0 L214.7,494.0 L214.1,499.0 L213.3,504.0 L212.4,509.0 L211.4,514.0 L210.3,519.0 L209.2,524.0 L207.9,529.0 L206.7,534.0 L205.5,539.0 L204.4,544.0 L203.4,549.0 L202.4,554.0 L201.7,559.0 L201.1,564.0 L200.7,569.0 L200.5,574.0 L200.4,579.0 L200.4,584.0 L200.6,589.0 L200.8,594.0 L201.3,599.0 L201.9,604.0 L202.7,609.0 L203.9,614.0 L205.3,619.0 L207.0,624.0 L209.1,629.0 L211.8,634.0 L215.4,639.0 L220.4,644.0 L226.6,649.0 L233.3,654.0 L239.7,659.0 L239.9,659.0 L233.5,654.0 L226.9,649.0 L220.7,644.0 L215.8,639.0 L212.3,634.0 L209.6,629.0 L207.5,624.0 L205.8,619.0 L204.4,614.0 L203.3,609.0 L202.5,604.0 L201.9,599.0 L201.5,594.0 L201.2,589.0 L201.1,584.0 L201.1,579.0 L201.2,574.0 L201.4,569.0 L201.8,564.0 L202.4,559.0 L203.2,554.0 L204.1,549.0 L205.2,544.0 L206.3,539.0 L207.5,534.0 L208.7,529.0 L209.9,524.0 L211.1,519.0 L212.2,514.0 L213.2,509.0 L214.1,504.0 L214.9,499.0 L215.5,494.0 L215.9,489.0 L216.3,484.0 L216.6,479.0 L216.7,474.0 L216.8,469.0 L216.8,464.0 L216.7,459.0 L216.4,454.0 L215.9,449.0 L215.3,444.0 L214.6,439.0 L213.9,434.0 L212.9,429.0 L211.9,424.0 L210.7,419.0 L209.5,414.0 L208.3,409.0 L207.4,404.0 L206.7,399.0 L206.5,394.0 L206.7,389.0 L207.0,384.0 L207.4,379.0 L207.8,374.0 L208.2,369.0 L208.6,364.0 L209.0,359.0 L209.3,354.0 L209.7,349.0 L210.1,344.0 L210.5,339.0 L210.9,334.0 L211.3,329.0 L211.6,324.0 L212.0,319.0 L212.4,314.0 L212.8,309.0 L213.2,304.0 L213.6,299.0 L213.9,294.0 L214.3,289.0 L214.7,284.0 L215.1,279.0 L215.5,274.0Z"/>
<path d="M220.0,274.0 L219.7,279.0 L219.4,284.0 L219.0,289.0 L218.7,294.0 L218.3,299.0 L218.0,304.0 L217.7,309.0 L217.3,314.0 L217.0,319.0 L216.7,324.0 L216.3,329.0 L216.0,334.0 L215.7,339.0 L215.3,344.0 L215.0,349.0 L214.6,354.0 L214.3,359.0 L214.0,364.0 L213.6,369.0 L213.3,374.0 L213.0,379.0 L212.6,384.0 L212.4,389.0 L212.2,394.0 L212.5,399.0 L213.1,404.0 L214.1,409.0 L215.3,414.0 L216.5,419.0 L217.6,424.0 L218.7,429.0 L219.6,434.0 L220.3,439.0 L221.0,444.0 L221.5,449.0 L221.9,454.0 L222.2,459.0 L222.3,464.0 L222.3,469.0 L222.1,474.0 L221.9,479.0 L221.6,484.0 L221.2,489.0 L220.7,494.0 L220.1,499.0 L219.3,504.0 L218.3,509.0 L217.2,514.0 L216.1,519.0 L214.9,524.0 L213.6,529.0 L212.3,534.0 L211.1,539.0 L209.9,544.0 L208.9,549.0 L207.9,554.0 L207.1,559.0 L206.5,564.0 L206.0,569.0 L205.7,574.0 L205.5,579.0 L205.4,584.0 L205.5,589.0 L205.7,594.0 L205.9,599.0 L206.4,604.0 L207.2,609.0 L208.1,614.0 L209.4,619.0 L210.9,624.0 L212.8,629.0 L215.2,634.0 L218.5,639.0 L223.1,644.0 L228.9,649.0 L235.2,654.0 L241.3,659.0 L241.5,659.0 L235.5,654.0 L229.2,649.0 L223.5,644.0 L219.0,639.0 L215.7,634.0 L213.3,629.0 L211.4,624.0 L209.9,619.0 L208.7,614.0 L207.8,609.0 L207.1,604.0 L206.6,599.0 L206.4,594.0 L206.2,589.0 L206.2,584.0 L206.3,579.0 L206.5,574.0 L206.8,569.0 L207.2,564.0 L207.9,559.0 L208.7,554.0 L209.7,549.0 L210.7,544.0 L211.9,539.0 L213.1,534.0 L214.4,529.0 L215.7,524.0 L216.9,519.0 L218.1,514.0 L219.2,509.0 L220.1,504.0 L220.9,499.0 L221.6,494.0 L222.1,489.0 L222.5,484.0 L222.8,479.0 L223.0,474.0 L223.1,469.0 L223.2,464.0 L223.1,459.0 L222.9,454.0 L222.4,449.0 L221.9,444.0 L221.2,439.0 L220.5,434.0 L219.6,429.0 L218.6,424.0 L217.4,419.0 L216.2,414.0 L215.1,409.0 L214.1,404.0 L213.4,399.0 L213.2,394.0 L213.3,389.0 L213.6,384.0 L213.9,379.0 L214.2,374.0 L214.5,369.0 L214.9,364.0 L215.2,359.0 L215.5,354.0 L215.8,349.0 L216.2,344.0 L216.5,339.0 L216.8,334.0 L217.2,329.0 L217.5,324.0 L217.8,319.0 L218.1,314.0 L218.5,309.0 L218.8,304.0 L219.1,299.0 L219.5,294.0 L219.8,289.0 L220.1,284.0 L220.4,279.0 L220.8,274.0Z"/>
<path d="M225.5,274.0 L225.2,279.0 L225.0,284.0 L224.7,289.0 L224.4,294.0 L224.1,299.0 L223.8,304.0 L223.6,309.0 L223.3,314.0 L223.0,319.0 L222.7,324.0 L222.5,329.0 L222.2,334.0 L221.9,339.0 L221.6,344.0 L221.3,349.0 L221.1,354.0 L220.8,359.0 L220.5,364.0 L220.2,369.0 L219.9,374.0 L219.7,379.0 L219.4,384.0 L219.2,389.0 L219.1,394.0 L219.4,399.0 L220.1,404.0 L221.1,409.0 L222.3,414.0 L223.5,419.0 L224.6,424.0 L225.6,429.0 L226.5,434.0 L227.2,439.0 L227.8,444.0 L228.3,449.0 L228.7,454.0 L228.9,459.0 L229.0,464.0 L228.9,469.0 L228.7,474.0 L228.5,479.0 L228.2,484.0 L227.7,489.0 L227.2,494.0 L226.5,499.0 L225.6,504.0 L224.6,509.0 L223.5,514.0 L222.3,519.0 L221.1,524.0 L219.7,529.0 L218.4,534.0 L217.1,539.0 L215.9,544.0 L214.8,549.0 L213.8,554.0 L213.0,559.0 L212.3,564.0 L211.8,569.0 L211.4,574.0 L211.1,579.0 L210.9,584.0 L210.9,589.0 L210.9,594.0 L211.0,599.0 L211.4,604.0 L212.0,609.0 L212.8,614.0 L213.8,619.0 L215.1,624.0 L216.8,629.0 L218.9,634.0 L221.9,639.0 L226.0,644.0 L231.4,649.0 L237.3,654.0 L242.9,659.0 L243.2,659.0 L237.6,654.0 L231.8,649.0 L226.5,644.0 L222.4,639.0 L219.5,634.0 L217.3,629.0 L215.7,624.0 L214.4,619.0 L213.4,614.0 L212.6,609.0 L212.1,604.0 L211.8,599.0 L211.6,594.0 L211.6,589.0 L211.7,584.0 L211.9,579.0 L212.2,574.0 L212.6,569.0 L213.1,564.0 L213.8,559.0 L214.7,554.0 L215.7,549.0 L216.8,544.0 L218.0,539.0 L219.3,534.0 L220.6,529.0 L221.9,524.0 L223.2,519.0 L224.4,514.0 L225.5,509.0 L226.6,504.0 L227.4,499.0 L228.1,494.0 L228.6,489.0 L229.1,484.0 L229.4,479.0 L229.7,474.0 L229.8,469.0 L229.9,464.0 L229.9,459.0 L229.7,454.0 L229.3,449.0 L228.8,444.0 L228.2,439.0 L227.5,434.0 L226.6,429.0 L225.6,424.0 L224.4,419.0 L223.2,414.0 L222.1,409.0 L221.1,404.0 L220.4,399.0 L220.1,394.0 L220.1,389.0 L220.3,384.0 L220.6,379.0 L220.9,374.0 L221.2,369.0 L221.4,364.0 L221.7,359.0 L222.0,354.0 L222.2,349.0 L222.5,344.0 L222.8,339.0 L223.0,334.0 L223.3,329.0 L223.6,324.0 L223.9,319.0 L224.1,314.0 L224.4,309.0 L224.7,304.0 L224.9,299.0 L225.2,294.0 L225.5,289.0 L225.7,284.0 L226.0,279.0 L226.3,274.0Z"/>
<path d="M231.2,274.0 L231.0,279.0 L230.8,284.0 L230.6,289.0 L230.4,294.0 L230.1,299.0 L229.9,304.0 L229.7,309.0 L229.5,314.0 L229.3,319.0 L229.0,324.0 L228.8,329.0 L228.6,334.0 L228.4,339.0 L228.2,344.0 L228.0,349.0 L227.7,354.0 L227.5,359.0 L227.3,364.0 L227.1,369.0 L226.9,374.0 L226.6,379.0 L226.4,384.0 L226.3,389.0 L226.3,394.0 L226.6,399.0 L227.4,404.0 L228.4,409.0 L229.6,414.0 L230.8,419.0 L231.9,424.0 L232.9,429.0 L233.8,434.0 L234.5,439.0 L235.0,444.0 L235.5,449.0 L235.8,454.0 L236.0,459.0 L236.0,464.0 L235.9,469.0 L235.7,474.0 L235.5,479.0 L235.1,484.0 L234.6,489.0 L234.0,494.0 L233.3,499.0 L232.4,504.0 L231.4,509.0 L230.2,514.0 L229.0,519.0 L227.7,524.0 L226.3,529.0 L224.9,534.0 L223.6,539.0 L222.4,544.0 L221.2,549.0 L220.2,554.0 L219.3,559.0 L218.6,564.0 L218.0,569.0 L217.5,574.0 L217.1,579.0 L216.8,584.0 L216.6,589.0 L216.5,594.0 L216.5,599.0 L216.7,604.0 L217.1,609.0 L217.8,614.0 L218.6,619.0 L219.7,624.0 L221.1,629.0 L222.9,634.0 L225.6,639.0 L229.2,644.0 L234.1,649.0 L239.5,654.0 L244.8,659.0 L245.0,659.0 L239.8,654.0 L234.5,649.0 L229.7,644.0 L226.1,639.0 L223.5,634.0 L221.7,629.0 L220.3,624.0 L219.3,619.0 L218.5,614.0 L217.9,609.0 L217.5,604.0 L217.3,599.0 L217.3,594.0 L217.4,589.0 L217.7,584.0 L218.0,579.0 L218.4,574.0 L218.9,569.0 L219.5,564.0 L220.2,559.0 L221.1,554.0 L222.2,549.0 L223.3,544.0 L224.5,539.0 L225.9,534.0 L227.2,529.0 L228.6,524.0 L229.9,519.0 L231.2,514.0 L232.3,509.0 L233.4,504.0 L234.3,499.0 L235.0,494.0 L235.6,489.0 L236.1,484.0 L236.4,479.0 L236.7,474.0 L236.9,469.0 L237.0,464.0 L237.0,459.0 L236.8,454.0 L236.5,449.0 L236.0,444.0 L235.5,439.0 L234.8,434.0 L234.0,429.0 L232.9,424.0 L231.8,419.0 L230.6,414.0 L229.4,409.0 L228.4,404.0 L227.6,399.0 L227.3,394.0 L227.3,389.0 L227.4,384.0 L227.6,379.0 L227.8,374.0 L228.1,369.0 L228.3,364.0 L228.5,359.0 L228.7,354.0 L228.9,349.0 L229.1,344.0 L229.3,339.0 L229.5,334.0 L229.7,329.0 L229.9,324.0 L230.1,319.0 L230.4,314.0 L230.6,309.0 L230.8,304.0 L231.0,299.0 L231.2,294.0 L231.4,289.0 L231.6,284.0 L231.8,279.0 L232.0,274.0Z"/>
<path d="M237.2,274.0 L237.0,279.0 L236.9,284.0 L236.7,289.0 L236.6,294.0 L236.4,299.0 L236.2,304.0 L236.1,309.0 L235.9,314.0 L235.8,319.0 L235.6,324.0 L235.5,329.0 L235.3,334.0 L235.2,339.0 L235.0,344.0 L234.8,349.0 L234.7,354.0 L234.5,359.0 L234.4,364.0 L234.2,369.0 L234.1,374.0 L233.9,379.0 L233.8,384.0 L233.7,389.0 L233.7,394.0 L234.1,399.0 L234.9,404.0 L236.0,409.0 L237.2,414.0 L238.4,419.0 L239.5,424.0 L240.5,429.0 L241.4,434.0 L242.0,439.0 L242.6,444.0 L243.0,449.0 L243.3,454.0 L243.4,459.0 L243.4,464.0 L243.3,469.0 L243.1,474.0 L242.8,479.0 L242.4,484.0 L241.9,489.0 L241.3,494.0 L240.5,499.0 L239.6,504.0 L238.5,509.0 L237.4,514.0 L236.1,519.0 L234.7,524.0 L233.3,529.0 L231.9,534.0 L230.6,539.0 L229.3,544.0 L228.1,549.0 L227.1,554.0 L226.1,559.0 L225.3,564.0 L224.6,569.0 L224.1,574.0 L223.5,579.0 L223.1,584.0 L222.8,589.0 L222.6,594.0 L222.4,599.0 L222.4,604.0 L222.7,609.0 L223.1,614.0 L223.7,619.0 L224.6,624.0 L225.7,629.0 L227.2,634.0 L229.5,639.0 L232.7,644.0 L237.0,649.0 L241.9,654.0 L246.7,659.0 L247.0,659.0 L242.2,654.0 L237.4,649.0 L233.2,644.0 L230.0,639.0 L227.9,634.0 L226.3,629.0 L225.3,624.0 L224.5,619.0 L223.9,614.0 L223.5,609.0 L223.3,604.0 L223.3,599.0 L223.4,594.0 L223.7,589.0 L224.0,584.0 L224.5,579.0 L225.0,574.0 L225.6,569.0 L226.3,564.0 L227.1,559.0 L228.0,554.0 L229.1,549.0 L230.3,544.0 L231.6,539.0 L232.9,534.0 L234.3,529.0 L235.7,524.0 L237.1,519.0 L238.4,514.0 L239.6,509.0 L240.6,504.0 L241.6,499.0 L242.3,494.0 L242.9,489.0 L243.4,484.0 L243.8,479.0 L244.1,474.0 L244.3,469.0 L244.5,464.0 L244.5,459.0 L244.4,454.0 L244.1,449.0 L243.6,444.0 L243.1,439.0 L242.4,434.0 L241.6,429.0 L240.6,424.0 L239.4,419.0 L238.2,414.0 L237.1,409.0 L236.0,404.0 L235.2,399.0 L234.8,394.0 L234.7,389.0 L234.8,384.0 L234.9,379.0 L235.1,374.0 L235.2,369.0 L235.4,364.0 L235.5,359.0 L235.7,354.0 L235.8,349.0 L236.0,344.0 L236.1,339.0 L236.3,334.0 L236.4,329.0 L236.5,324.0 L236.7,319.0 L236.8,314.0 L237.0,309.0 L237.1,304.0 L237.3,299.0 L237.4,294.0 L237.6,289.0 L237.7,284.0 L237.9,279.0 L238.0,274.0Z"/>
<path d="M243.4,274.0 L243.3,279.0 L243.2,284.0 L243.1,289.0 L243.0,294.0 L242.9,299.0 L242.8,304.0 L242.7,309.0 L242.6,314.0 L242.5,319.0 L242.5,324.0 L242.4,329.0 L242.3,334.0 L242.2,339.0 L242.1,344.0 L242.0,349.0 L241.9,354.0 L241.8,359.0 L241.7,364.0 L241.6,369.0 L241.5,374.0 L241.5,379.0 L241.4,384.0 L241.3,389.0 L241.5,394.0 L241.9,399.0 L242.8,404.0 L243.9,409.0 L245.1,414.0 L246.3,419.0 L247.5,424.0 L248.5,429.0 L249.3,434.0 L249.9,439.0 L250.4,444.0 L250.8,449.0 L251.1,454.0 L251.2,459.0 L251.2,464.0 L251.0,469.0 L250.8,474.0 L250.5,479.0 L250.1,484.0 L249.5,489.0 L248.9,494.0 L248.2,499.0 L247.2,504.0 L246.1,509.0 L244.9,514.0 L243.6,519.0 L242.2,524.0 L240.8,529.0 L239.4,534.0 L238.0,539.0 L236.7,544.0 L235.5,549.0 L234.4,554.0 L233.4,559.0 L232.5,564.0 L231.7,569.0 L231.1,574.0 L230.4,579.0 L229.9,584.0 L229.4,589.0 L229.0,594.0 L228.7,599.0 L228.6,604.0 L228.6,609.0 L228.8,614.0 L229.2,619.0 L229.8,624.0 L230.6,629.0 L231.8,634.0 L233.6,639.0 L236.3,644.0 L240.1,649.0 L244.4,654.0 L248.8,659.0 L249.1,659.0 L244.8,654.0 L240.5,649.0 L236.9,644.0 L234.2,639.0 L232.5,634.0 L231.3,629.0 L230.6,624.0 L230.0,619.0 L229.7,614.0 L229.5,609.0 L229.4,604.0 L229.6,599.0 L229.9,594.0 L230.4,589.0 L230.9,584.0 L231.4,579.0 L232.1,574.0 L232.8,569.0 L233.5,564.0 L234.4,559.0 L235.4,554.0 L236.5,549.0 L237.8,544.0 L239.1,539.0 L240.4,534.0 L241.9,529.0 L243.3,524.0 L244.7,519.0 L246.0,514.0 L247.2,509.0 L248.3,504.0 L249.2,499.0 L250.0,494.0 L250.6,489.0 L251.2,484.0 L251.6,479.0 L251.9,474.0 L252.1,469.0 L252.3,464.0 L252.3,459.0 L252.2,454.0 L252.0,449.0 L251.6,444.0 L251.0,439.0 L250.4,434.0 L249.6,429.0 L248.6,424.0 L247.4,419.0 L246.2,414.0 L245.0,409.0 L243.9,404.0 L243.0,399.0 L242.5,394.0 L242.4,389.0 L242.4,384.0 L242.5,379.0 L242.6,374.0 L242.7,369.0 L242.8,364.0 L242.8,359.0 L242.9,354.0 L243.0,349.0 L243.1,344.0 L243.2,339.0 L243.3,334.0 L243.3,329.0 L243.4,324.0 L243.5,319.0 L243.6,314.0 L243.7,309.0 L243.7,304.0 L243.8,299.0 L243.9,294.0 L244.0,289.0 L244.1,284.0 L244.1,279.0 L244.2,274.0Z"/>
<path d="M249.8,274.0 L249.7,279.0 L249.7,284.0 L249.7,289.0 L249.7,294.0 L249.7,299.0 L249.6,304.0 L249.6,309.0 L249.6,314.0 L249.6,319.0 L249.5,324.0 L249.5,329.0 L249.5,334.0 L249.5,339.0 L249.4,344.0 L249.4,349.0 L249.4,354.0 L249.4,359.0 L249.4,364.0 L249.3,369.0 L249.3,374.0 L249.3,379.0 L249.3,384.0 L249.3,389.0 L249.5,394.0 L250.0,399.0 L250.9,404.0 L252.1,409.0 L253.3,414.0 L254.6,419.0 L255.7,424.0 L256.7,429.0 L257.5,434.0 L258.2,439.0 L258.7,444.0 L259.0,449.0 L259.3,454.0 L259.4,459.0 L259.3,464.0 L259.1,469.0 L258.9,474.0 L258.6,479.0 L258.1,484.0 L257.6,489.0 L257.0,494.0 L256.2,499.0 L255.2,504.0 L254.1,509.0 L252.9,514.0 L251.6,519.0 L250.2,524.0 L248.7,529.0 L247.3,534.0 L245.9,539.0 L244.6,544.0 L243.3,549.0 L242.2,554.0 L241.1,559.0 L240.2,564.0 L239.3,569.0 L238.5,574.0 L237.8,579.0 L237.1,584.0 L236.5,589.0 L235.9,594.0 L235.4,599.0 L235.1,604.0 L234.9,609.0 L234.9,614.0 L235.1,619.0 L235.4,624.0 L235.9,629.0 L236.7,634.0 L238.1,639.0 L240.2,644.0 L243.4,649.0 L247.1,654.0 L251.1,659.0 L251.4,659.0 L247.5,654.0 L243.8,649.0 L240.8,644.0 L238.7,639.0 L237.4,634.0 L236.6,629.0 L236.2,624.0 L235.9,619.0 L235.8,614.0 L235.8,609.0 L236.0,604.0 L236.4,599.0 L236.9,594.0 L237.5,589.0 L238.1,584.0 L238.8,579.0 L239.6,574.0 L240.4,569.0 L241.3,564.0 L242.2,559.0 L243.3,554.0 L244.4,549.0 L245.7,544.0 L247.0,539.0 L248.4,534.0 L249.9,529.0 L251.3,524.0 L252.7,519.0 L254.0,514.0 L255.3,509.0 L256.4,504.0 L257.3,499.0 L258.1,494.0 L258.7,489.0 L259.3,484.0 L259.7,479.0 L260.0,474.0 L260.3,469.0 L260.5,464.0 L260.5,459.0 L260.4,454.0 L260.2,449.0 L259.8,444.0 L259.3,439.0 L258.7,434.0 L257.9,429.0 L256.9,424.0 L255.7,419.0 L254.5,414.0 L253.2,409.0 L252.1,404.0 L251.2,399.0 L250.6,394.0 L250.4,389.0 L250.4,384.0 L250.4,379.0 L250.4,374.0 L250.4,369.0 L250.4,364.0 L250.4,359.0 L250.5,354.0 L250.5,349.0 L250.5,344.0 L250.5,339.0 L250.5,334.0 L250.5,329.0 L250.5,324.0 L250.5,319.0 L250.6,314.0 L250.6,309.0 L250.6,304.0 L250.6,299.0 L250.6,294.0 L250.6,289.0 L250.6,284.0 L250.7,279.0 L250.7,274.0Z"/>
<path d="M256.4,274.0 L256.5,279.0 L256.5,284.0 L256.6,289.0 L256.6,294.0 L256.6,299.0 L256.7,304.0 L256.7,309.0 L256.8,314.0 L256.8,319.0 L256.9,324.0 L256.9,329.0 L257.0,334.0 L257.0,339.0 L257.1,344.0 L257.1,349.0 L257.2,354.0 L257.2,359.0 L257.3,364.0 L257.3,369.0 L257.3,374.0 L257.4,379.0 L257.4,384.0 L257.5,389.0 L257.8,394.0 L258.4,399.0 L259.4,404.0 L260.6,409.0 L261.9,414.0 L263.1,419.0 L264.3,424.0 L265.3,429.0 L266.1,434.0 L266.7,439.0 L267.2,444.0 L267.6,449.0 L267.8,454.0 L267.9,459.0 L267.8,464.0 L267.6,469.0 L267.4,474.0 L267.0,479.0 L266.6,484.0 L266.0,489.0 L265.4,494.0 L264.6,499.0 L263.7,504.0 L262.5,509.0 L261.3,514.0 L260.0,519.0 L258.6,524.0 L257.1,529.0 L255.7,534.0 L254.2,539.0 L252.9,544.0 L251.6,549.0 L250.4,554.0 L249.3,559.0 L248.3,564.0 L247.3,569.0 L246.4,574.0 L245.5,579.0 L244.7,584.0 L243.9,589.0 L243.2,594.0 L242.5,599.0 L242.0,604.0 L241.6,609.0 L241.4,614.0 L241.3,619.0 L241.3,624.0 L241.4,629.0 L241.9,634.0 L242.8,639.0 L244.4,644.0 L246.8,649.0 L250.0,654.0 L253.4,659.0 L253.8,659.0 L250.4,654.0 L247.3,649.0 L244.9,644.0 L243.5,639.0 L242.6,634.0 L242.2,629.0 L242.1,624.0 L242.2,619.0 L242.3,614.0 L242.5,609.0 L243.0,604.0 L243.5,599.0 L244.2,594.0 L245.0,589.0 L245.8,584.0 L246.6,579.0 L247.5,574.0 L248.5,569.0 L249.4,564.0 L250.5,559.0 L251.6,554.0 L252.8,549.0 L254.1,544.0 L255.4,539.0 L256.9,534.0 L258.3,529.0 L259.8,524.0 L261.2,519.0 L262.5,514.0 L263.7,509.0 L264.9,504.0 L265.8,499.0 L266.6,494.0 L267.2,489.0 L267.8,484.0 L268.2,479.0 L268.5,474.0 L268.8,469.0 L269.0,464.0 L269.1,459.0 L269.0,454.0 L268.8,449.0 L268.4,444.0 L267.9,439.0 L267.3,434.0 L266.5,429.0 L265.5,424.0 L264.3,419.0 L263.1,414.0 L261.8,409.0 L260.6,404.0 L259.6,399.0 L259.0,394.0 L258.7,389.0 L258.6,384.0 L258.5,379.0 L258.5,374.0 L258.4,369.0 L258.4,364.0 L258.3,359.0 L258.2,354.0 L258.2,349.0 L258.1,344.0 L258.1,339.0 L258.0,334.0 L258.0,329.0 L257.9,324.0 L257.9,319.0 L257.8,314.0 L257.7,309.0 L257.7,304.0 L257.6,299.0 L257.6,294.0 L257.5,289.0 L257.5,284.0 L257.4,279.0 L257.3,274.0Z"/>
<path d="M263.3,274.0 L263.4,279.0 L263.5,284.0 L263.6,289.0 L263.8,294.0 L263.9,299.0 L264.0,304.0 L264.1,309.0 L264.2,314.0 L264.4,319.0 L264.5,324.0 L264.6,329.0 L264.7,334.0 L264.8,339.0 L264.9,344.0 L265.1,349.0 L265.2,354.0 L265.3,359.0 L265.4,364.0 L265.5,369.0 L265.7,374.0 L265.8,379.0 L265.9,384.0 L266.1,389.0 L266.4,394.0 L267.1,399.0 L268.1,404.0 L269.4,409.0 L270.7,414.0 L272.0,419.0 L273.2,424.0 L274.2,429.0 L275.0,434.0 L275.6,439.0 L276.1,444.0 L276.5,449.0 L276.7,454.0 L276.7,459.0 L276.6,464.0 L276.4,469.0 L276.2,474.0 L275.9,479.0 L275.4,484.0 L274.9,489.0 L274.2,494.0 L273.4,499.0 L272.5,504.0 L271.4,509.0 L270.1,514.0 L268.8,519.0 L267.4,524.0 L266.0,529.0 L264.5,534.0 L263.1,539.0 L261.7,544.0 L260.4,549.0 L259.1,554.0 L258.0,559.0 L256.9,564.0 L255.8,569.0 L254.8,574.0 L253.7,579.0 L252.8,584.0 L251.8,589.0 L250.9,594.0 L250.0,599.0 L249.3,604.0 L248.7,609.0 L248.2,614.0 L247.8,619.0 L247.5,624.0 L247.3,629.0 L247.4,634.0 L247.8,639.0 L248.7,644.0 L250.5,649.0 L253.1,654.0 L255.9,659.0 L256.3,659.0 L253.5,654.0 L251.0,649.0 L249.3,644.0 L248.5,639.0 L248.1,634.0 L248.2,629.0 L248.4,624.0 L248.8,619.0 L249.2,614.0 L249.7,609.0 L250.3,604.0 L251.1,599.0 L252.0,594.0 L252.9,589.0 L253.9,584.0 L254.9,579.0 L255.9,574.0 L257.0,569.0 L258.1,564.0 L259.2,559.0 L260.4,554.0 L261.6,549.0 L262.9,544.0 L264.3,539.0 L265.7,534.0 L267.2,529.0 L268.7,524.0 L270.1,519.0 L271.4,514.0 L272.6,509.0 L273.7,504.0 L274.7,499.0 L275.5,494.0 L276.1,489.0 L276.7,484.0 L277.1,479.0 L277.4,474.0 L277.7,469.0 L277.9,464.0 L278.0,459.0 L277.9,454.0 L277.7,449.0 L277.4,444.0 L276.9,439.0 L276.3,434.0 L275.5,429.0 L274.4,424.0 L273.2,419.0 L272.0,414.0 L270.6,409.0 L269.4,404.0 L268.3,399.0 L267.6,394.0 L267.3,389.0 L267.1,384.0 L267.0,379.0 L266.8,374.0 L266.7,369.0 L266.6,364.0 L266.4,359.0 L266.3,354.0 L266.2,349.0 L266.1,344.0 L265.9,339.0 L265.8,334.0 L265.7,329.0 L265.5,324.0 L265.4,319.0 L265.3,314.0 L265.2,309.0 L265.0,304.0 L264.9,299.0 L264.8,294.0 L264.6,289.0 L264.5,284.0 L264.4,279.0 L264.3,274.0Z"/>
<path d="M270.4,274.0 L270.6,279.0 L270.8,284.0 L271.0,289.0 L271.2,294.0 L271.4,299.0 L271.6,304.0 L271.7,309.0 L271.9,314.0 L272.1,319.0 L272.3,324.0 L272.5,329.0 L272.7,334.0 L272.9,339.0 L273.1,344.0 L273.3,349.0 L273.5,354.0 L273.7,359.0 L273.9,364.0 L274.1,369.0 L274.3,374.0 L274.5,379.0 L274.7,384.0 L274.9,389.0 L275.3,394.0 L276.1,399.0 L277.2,404.0 L278.5,409.0 L279.9,414.0 L281.2,419.0 L282.4,424.0 L283.4,429.0 L284.2,434.0 L284.9,439.0 L285.3,444.0 L285.7,449.0 L285.9,454.0 L285.9,459.0 L285.8,464.0 L285.6,469.0 L285.4,474.0 L285.1,479.0 L284.6,484.0 L284.1,489.0 L283.4,494.0 L282.7,499.0 L281.7,504.0 L280.6,509.0 L279.4,514.0 L278.1,519.0 L276.7,524.0 L275.2,529.0 L273.8,534.0 L272.4,539.0 L271.0,544.0 L269.6,549.0 L268.3,554.0 L267.1,559.0 L265.9,564.0 L264.7,569.0 L263.6,574.0 L262.4,579.0 L261.2,584.0 L260.1,589.0 L259.0,594.0 L257.9,599.0 L256.9,604.0 L256.1,609.0 L255.4,614.0 L254.7,619.0 L254.1,624.0 L253.5,629.0 L253.1,634.0 L253.0,639.0 L253.3,644.0 L254.4,649.0 L256.3,654.0 L258.5,659.0 L258.9,659.0 L256.7,654.0 L254.9,649.0 L254.0,644.0 L253.7,639.0 L253.9,634.0 L254.4,629.0 L255.0,624.0 L255.7,619.0 L256.4,614.0 L257.2,609.0 L258.0,604.0 L259.0,599.0 L260.1,594.0 L261.3,589.0 L262.4,584.0 L263.6,579.0 L264.8,574.0 L266.0,569.0 L267.2,564.0 L268.4,559.0 L269.6,554.0 L270.9,549.0 L272.3,544.0 L273.7,539.0 L275.1,534.0 L276.6,529.0 L278.0,524.0 L279.4,519.0 L280.7,514.0 L281.9,509.0 L283.0,504.0 L284.0,499.0 L284.7,494.0 L285.4,489.0 L285.9,484.0 L286.4,479.0 L286.7,474.0 L286.9,469.0 L287.1,464.0 L287.2,459.0 L287.2,454.0 L287.0,449.0 L286.6,444.0 L286.2,439.0 L285.5,434.0 L284.7,429.0 L283.7,424.0 L282.5,419.0 L281.2,414.0 L279.8,409.0 L278.5,404.0 L277.3,399.0 L276.6,394.0 L276.1,389.0 L275.9,384.0 L275.7,379.0 L275.5,374.0 L275.3,369.0 L275.1,364.0 L274.9,359.0 L274.6,354.0 L274.4,349.0 L274.2,344.0 L274.0,339.0 L273.8,334.0 L273.6,329.0 L273.4,324.0 L273.2,319.0 L273.0,314.0 L272.8,309.0 L272.6,304.0 L272.4,299.0 L272.2,294.0 L272.0,289.0 L271.8,284.0 L271.6,279.0 L271.4,274.0Z"/>
<path d="M277.7,274.0 L278.0,279.0 L278.3,284.0 L278.5,289.0 L278.8,294.0 L279.1,299.0 L279.4,304.0 L279.6,309.0 L279.9,314.0 L280.2,319.0 L280.4,324.0 L280.7,329.0 L281.0,334.0 L281.2,339.0 L281.5,344.0 L281.8,349.0 L282.1,354.0 L282.3,359.0 L282.6,364.0 L282.9,369.0 L283.1,374.0 L283.4,379.0 L283.7,384.0 L284.0,389.0 L284.5,394.0 L285.3,399.0 L286.5,404.0 L287.9,409.0 L289.3,414.0 L290.7,419.0 L291.9,424.0 L293.0,429.0 L293.8,434.0 L294.4,439.0 L294.9,444.0 L295.2,449.0 L295.4,454.0 L295.5,459.0 L295.4,464.0 L295.2,469.0 L294.9,474.0 L294.6,479.0 L294.2,484.0 L293.7,489.0 L293.1,494.0 L292.3,499.0 L291.4,504.0 L290.3,509.0 L289.1,514.0 L287.8,519.0 L286.4,524.0 L285.0,529.0 L283.5,534.0 L282.1,539.0 L280.7,544.0 L279.3,549.0 L278.0,554.0 L276.7,559.0 L275.4,564.0 L274.1,569.0 L272.8,574.0 L271.5,579.0 L270.2,584.0 L268.8,589.0 L267.5,594.0 L266.2,599.0 L265.0,604.0 L263.9,609.0 L262.9,614.0 L262.0,619.0 L261.0,624.0 L260.0,629.0 L259.2,634.0 L258.5,639.0 L258.1,644.0 L258.5,649.0 L259.6,654.0 L261.3,659.0 L261.7,659.0 L260.1,654.0 L259.0,649.0 L258.8,644.0 L259.3,639.0 L260.0,634.0 L261.0,629.0 L262.0,624.0 L263.0,619.0 L264.0,614.0 L265.0,609.0 L266.2,604.0 L267.4,599.0 L268.7,594.0 L270.0,589.0 L271.4,584.0 L272.8,579.0 L274.1,574.0 L275.4,569.0 L276.7,564.0 L278.0,559.0 L279.3,554.0 L280.7,549.0 L282.1,544.0 L283.5,539.0 L284.9,534.0 L286.3,529.0 L287.8,524.0 L289.1,519.0 L290.5,514.0 L291.7,509.0 L292.8,504.0 L293.7,499.0 L294.4,494.0 L295.0,489.0 L295.6,484.0 L296.0,479.0 L296.3,474.0 L296.5,469.0 L296.7,464.0 L296.8,459.0 L296.8,454.0 L296.6,449.0 L296.2,444.0 L295.8,439.0 L295.2,434.0 L294.3,429.0 L293.3,424.0 L292.0,419.0 L290.7,414.0 L289.2,409.0 L287.8,404.0 L286.6,399.0 L285.8,394.0 L285.3,389.0 L284.9,384.0 L284.7,379.0 L284.4,374.0 L284.1,369.0 L283.8,364.0 L283.5,359.0 L283.3,354.0 L283.0,349.0 L282.7,344.0 L282.4,339.0 L282.1,334.0 L281.9,329.0 L281.6,324.0 L281.3,319.0 L281.0,314.0 L280.7,309.0 L280.4,304.0 L280.2,299.0 L279.9,294.0 L279.6,289.0 L279.3,284.0 L279.0,279.0 L278.8,274.0Z"/>
<path d="M285.3,274.0 L285.6,279.0 L286.0,284.0 L286.3,289.0 L286.7,294.0 L287.0,299.0 L287.4,304.0 L287.7,309.0 L288.1,314.0 L288.4,319.0 L288.8,324.0 L289.1,329.0 L289.5,334.0 L289.8,339.0 L290.2,344.0 L290.5,349.0 L290.9,354.0 L291.2,359.0 L291.6,364.0 L291.9,369.0 L292.3,374.0 L292.6,379.0 L293.0,384.0 L293.4,389.0 L294.0,394.0 L294.9,399.0 L296.2,404.0 L297.6,409.0 L299.1,414.0 L300.5,419.0 L301.8,424.0 L302.9,429.0 L303.7,434.0 L304.3,439.0 L304.8,444.0 L305.1,449.0 L305.3,454.0 L305.4,459.0 L305.3,464.0 L305.1,469.0 L304.9,474.0 L304.6,479.0 L304.2,484.0 L303.7,489.0 L303.1,494.0 L302.3,499.0 L301.5,504.0 L300.4,509.0 L299.2,514.0 L297.9,519.0 L296.5,524.0 L295.2,529.0 L293.8,534.0 L292.3,539.0 L290.9,544.0 L289.5,549.0 L288.1,554.0 L286.7,559.0 L285.3,564.0 L283.9,569.0 L282.5,574.0 L281.0,579.0 L279.5,584.0 L278.0,589.0 L276.4,594.0 L274.9,599.0 L273.5,604.0 L272.1,609.0 L270.8,614.0 L269.6,619.0 L268.2,624.0 L266.9,629.0 L265.5,634.0 L264.3,639.0 L263.2,644.0 L262.7,649.0 L263.1,654.0 L264.2,659.0 L264.6,659.0 L263.6,654.0 L263.3,649.0 L263.9,644.0 L265.1,639.0 L266.4,634.0 L267.8,629.0 L269.3,624.0 L270.6,619.0 L272.0,614.0 L273.3,609.0 L274.7,604.0 L276.1,599.0 L277.7,594.0 L279.2,589.0 L280.8,584.0 L282.4,579.0 L283.9,574.0 L285.3,569.0 L286.7,564.0 L288.1,559.0 L289.5,554.0 L290.9,549.0 L292.4,544.0 L293.8,539.0 L295.2,534.0 L296.6,529.0 L298.0,524.0 L299.3,519.0 L300.6,514.0 L301.8,509.0 L302.9,504.0 L303.8,499.0 L304.5,494.0 L305.1,489.0 L305.6,484.0 L306.0,479.0 L306.3,474.0 L306.5,469.0 L306.7,464.0 L306.8,459.0 L306.7,454.0 L306.5,449.0 L306.2,444.0 L305.7,439.0 L305.1,434.0 L304.2,429.0 L303.2,424.0 L301.9,419.0 L300.5,414.0 L299.0,409.0 L297.5,404.0 L296.2,399.0 L295.3,394.0 L294.7,389.0 L294.3,384.0 L293.9,379.0 L293.6,374.0 L293.2,369.0 L292.9,364.0 L292.5,359.0 L292.1,354.0 L291.8,349.0 L291.4,344.0 L291.0,339.0 L290.7,334.0 L290.3,329.0 L290.0,324.0 L289.6,319.0 L289.2,314.0 L288.9,309.0 L288.5,304.0 L288.2,299.0 L287.8,294.0 L287.4,289.0 L287.1,284.0 L286.7,279.0 L286.4,274.0Z"/>
<path d="M293.1,274.0 L293.5,279.0 L294.0,284.0 L294.4,289.0 L294.8,294.0 L295.3,299.0 L295.7,304.0 L296.1,309.0 L296.5,314.0 L297.0,319.0 L297.4,324.0 L297.8,329.0 L298.3,334.0 L298.7,339.0 L299.1,344.0 L299.6,349.0 L300.0,354.0 L300.4,359.0 L300.9,364.0 L301.3,369.0 L301.7,374.0 L302.2,379.0 L302.6,384.0 L303.1,389.0 L303.8,394.0 L304.8,399.0 L306.1,404.0 L307.7,409.0 L309.2,414.0 L310.6,419.0 L311.9,424.0 L313.1,429.0 L313.9,434.0 L314.6,439.0 L315.1,444.0 L315.4,449.0 L315.6,454.0 L315.6,459.0 L315.5,464.0 L315.4,469.0 L315.2,474.0 L314.9,479.0 L314.6,484.0 L314.1,489.0 L313.5,494.0 L312.8,499.0 L311.9,504.0 L310.9,509.0 L309.8,514.0 L308.5,519.0 L307.1,524.0 L305.8,529.0 L304.4,534.0 L303.0,539.0 L301.6,544.0 L300.1,549.0 L298.7,554.0 L297.2,559.0 L295.7,564.0 L294.2,569.0 L292.6,574.0 L291.0,579.0 L289.3,584.0 L287.5,589.0 L285.7,594.0 L284.0,599.0 L282.3,604.0 L280.7,609.0 L279.1,614.0 L277.5,619.0 L275.8,624.0 L274.0,629.0 L272.2,634.0 L270.3,639.0 L268.5,644.0 L267.2,649.0 L266.8,654.0 L267.2,659.0 L267.7,659.0 L267.4,654.0 L267.8,649.0 L269.3,644.0 L271.2,639.0 L273.1,634.0 L275.0,629.0 L276.9,624.0 L278.6,619.0 L280.3,614.0 L281.9,609.0 L283.6,604.0 L285.3,599.0 L287.1,594.0 L288.9,589.0 L290.6,584.0 L292.4,579.0 L294.0,574.0 L295.7,569.0 L297.2,564.0 L298.7,559.0 L300.2,554.0 L301.6,549.0 L303.1,544.0 L304.5,539.0 L305.9,534.0 L307.3,529.0 L308.6,524.0 L310.0,519.0 L311.2,514.0 L312.4,509.0 L313.4,504.0 L314.3,499.0 L315.0,494.0 L315.5,489.0 L316.0,484.0 L316.4,479.0 L316.6,474.0 L316.8,469.0 L317.0,464.0 L317.1,459.0 L317.0,454.0 L316.8,449.0 L316.5,444.0 L316.0,439.0 L315.4,434.0 L314.5,429.0 L313.4,424.0 L312.1,419.0 L310.6,414.0 L309.1,409.0 L307.5,404.0 L306.1,399.0 L305.1,394.0 L304.4,389.0 L303.9,384.0 L303.5,379.0 L303.0,374.0 L302.6,369.0 L302.2,364.0 L301.7,359.0 L301.3,354.0 L300.8,349.0 L300.4,344.0 L299.9,339.0 L299.5,334.0 L299.1,329.0 L298.6,324.0 L298.2,319.0 L297.7,314.0 L297.3,309.0 L296.8,304.0 L296.4,299.0 L296.0,294.0 L295.5,289.0 L295.1,284.0 L294.6,279.0 L294.2,274.0Z"/>
<path d="M301.1,274.0 L301.6,279.0 L302.2,284.0 L302.7,289.0 L303.2,294.0 L303.7,299.0 L304.2,304.0 L304.7,309.0 L305.3,314.0 L305.8,319.0 L306.3,324.0 L306.8,329.0 L307.3,334.0 L307.8,339.0 L308.3,344.0 L308.9,349.0 L309.4,354.0 L309.9,359.0 L310.4,364.0 L310.9,369.0 L311.4,374.0 L312.0,379.0 L312.5,384.0 L313.1,389.0 L313.8,394.0 L314.9,399.0 L316.4,404.0 L318.0,409.0 L319.6,414.0 L321.1,419.0 L322.4,424.0 L323.6,429.0 L324.5,434.0 L325.1,439.0 L325.6,444.0 L326.0,449.0 L326.2,454.0 L326.2,459.0 L326.2,464.0 L326.0,469.0 L325.9,474.0 L325.6,479.0 L325.3,484.0 L324.8,489.0 L324.3,494.0 L323.6,499.0 L322.8,504.0 L321.8,509.0 L320.7,514.0 L319.5,519.0 L318.2,524.0 L316.9,529.0 L315.6,534.0 L314.2,539.0 L312.7,544.0 L311.2,549.0 L309.7,554.0 L308.2,559.0 L306.6,564.0 L304.9,569.0 L303.2,574.0 L301.4,579.0 L299.5,584.0 L297.5,589.0 L295.5,594.0 L293.5,599.0 L291.6,604.0 L289.6,609.0 L287.8,614.0 L285.8,619.0 L283.7,624.0 L281.5,629.0 L279.1,634.0 L276.6,639.0 L274.0,644.0 L271.9,649.0 L270.7,654.0 L270.4,659.0 L270.8,659.0 L271.2,654.0 L272.5,649.0 L274.8,644.0 L277.5,639.0 L280.1,634.0 L282.5,629.0 L284.8,624.0 L287.0,619.0 L289.0,614.0 L290.9,609.0 L292.9,604.0 L294.8,599.0 L296.9,594.0 L298.9,589.0 L300.9,584.0 L302.8,579.0 L304.7,574.0 L306.5,569.0 L308.1,564.0 L309.8,559.0 L311.3,554.0 L312.8,549.0 L314.3,544.0 L315.8,539.0 L317.1,534.0 L318.5,529.0 L319.7,524.0 L321.0,519.0 L322.3,514.0 L323.4,509.0 L324.3,504.0 L325.2,499.0 L325.8,494.0 L326.4,489.0 L326.8,484.0 L327.1,479.0 L327.4,474.0 L327.5,469.0 L327.7,464.0 L327.7,459.0 L327.7,454.0 L327.5,449.0 L327.1,444.0 L326.6,439.0 L326.0,434.0 L325.1,429.0 L323.9,424.0 L322.6,419.0 L321.1,414.0 L319.4,409.0 L317.8,404.0 L316.3,399.0 L315.2,394.0 L314.4,389.0 L313.9,384.0 L313.3,379.0 L312.8,374.0 L312.3,369.0 L311.7,364.0 L311.2,359.0 L310.7,354.0 L310.2,349.0 L309.6,344.0 L309.1,339.0 L308.6,334.0 L308.1,329.0 L307.5,324.0 L307.0,319.0 L306.5,314.0 L305.9,309.0 L305.4,304.0 L304.9,299.0 L304.4,294.0 L303.8,289.0 L303.3,284.0 L302.8,279.0 L302.2,274.0Z"/>
<path d="M309.4,274.0 L310.0,279.0 L310.6,284.0 L311.2,289.0 L311.8,294.0 L312.4,299.0 L313.0,304.0 L313.6,309.0 L314.2,314.0 L314.8,319.0 L315.4,324.0 L316.0,329.0 L316.6,334.0 L317.2,339.0 L317.8,344.0 L318.4,349.0 L319.0,354.0 L319.6,359.0 L320.2,364.0 L320.8,369.0 L321.4,374.0 L322.0,379.0 L322.6,384.0 L323.3,389.0 L324.2,394.0 L325.4,399.0 L326.9,404.0 L328.6,409.0 L330.3,414.0 L331.9,419.0 L333.2,424.0 L334.4,429.0 L335.4,434.0 L336.1,439.0 L336.6,444.0 L336.9,449.0 L337.1,454.0 L337.2,459.0 L337.1,464.0 L337.0,469.0 L336.9,474.0 L336.7,479.0 L336.4,484.0 L336.0,489.0 L335.5,494.0 L334.9,499.0 L334.1,504.0 L333.2,509.0 L332.1,514.0 L330.9,519.0 L329.7,524.0 L328.4,529.0 L327.2,534.0 L325.8,539.0 L324.3,544.0 L322.8,549.0 L321.3,554.0 L319.6,559.0 L317.9,564.0 L316.1,569.0 L314.2,574.0 L312.2,579.0 L310.1,584.0 L307.9,589.0 L305.7,594.0 L303.4,599.0 L301.2,604.0 L299.0,609.0 L296.8,614.0 L294.5,619.0 L291.9,624.0 L289.2,629.0 L286.3,634.0 L283.2,639.0 L279.8,644.0 L276.7,649.0 L274.7,654.0 L273.7,659.0 L274.2,659.0 L275.3,654.0 L277.4,649.0 L280.6,644.0 L284.1,639.0 L287.3,634.0 L290.3,629.0 L293.1,624.0 L295.7,619.0 L298.0,614.0 L300.3,609.0 L302.5,604.0 L304.8,599.0 L307.1,594.0 L309.4,589.0 L311.6,584.0 L313.7,579.0 L315.8,574.0 L317.7,569.0 L319.5,564.0 L321.3,559.0 L322.9,554.0 L324.5,549.0 L326.0,544.0 L327.4,539.0 L328.8,534.0 L330.1,529.0 L331.3,524.0 L332.5,519.0 L333.7,514.0 L334.8,509.0 L335.7,504.0 L336.5,499.0 L337.1,494.0 L337.6,489.0 L338.0,484.0 L338.3,479.0 L338.5,474.0 L338.6,469.0 L338.7,464.0 L338.7,459.0 L338.7,454.0 L338.5,449.0 L338.1,444.0 L337.6,439.0 L336.9,434.0 L336.0,429.0 L334.8,424.0 L333.4,419.0 L331.8,414.0 L330.1,409.0 L328.4,404.0 L326.8,399.0 L325.6,394.0 L324.7,389.0 L324.1,384.0 L323.5,379.0 L322.8,374.0 L322.2,369.0 L321.6,364.0 L321.0,359.0 L320.4,354.0 L319.8,349.0 L319.1,344.0 L318.5,339.0 L317.9,334.0 L317.3,329.0 L316.7,324.0 L316.1,319.0 L315.5,314.0 L314.8,309.0 L314.2,304.0 L313.6,299.0 L313.0,294.0 L312.4,289.0 L311.8,284.0 L311.2,279.0 L310.5,274.0Z"/></g>
<g fill="url(#glite)"><path d="M215.9,274.0 L215.5,279.0 L215.1,284.0 L214.7,289.0 L214.4,294.0 L214.0,299.0 L213.6,304.0 L213.2,309.0 L212.8,314.0 L212.5,319.0 L212.1,324.0 L211.7,329.0 L211.3,334.0 L211.0,339.0 L210.6,344.0 L210.2,349.0 L209.8,354.0 L209.4,359.0 L209.1,364.0 L208.7,369.0 L208.3,374.0 L207.9,379.0 L207.5,384.0 L207.2,389.0 L207.1,394.0 L207.3,399.0 L207.9,404.0 L208.9,409.0 L210.0,414.0 L211.2,419.0 L212.4,424.0 L213.5,429.0 L214.4,434.0 L215.1,439.0 L215.8,444.0 L216.4,449.0 L216.9,454.0 L217.2,459.0 L217.3,464.0 L217.3,469.0 L217.2,474.0 L217.0,479.0 L216.8,484.0 L216.4,489.0 L215.9,494.0 L215.3,499.0 L214.6,504.0 L213.6,509.0 L212.6,514.0 L211.5,519.0 L210.4,524.0 L209.1,529.0 L207.9,534.0 L206.7,539.0 L205.6,544.0 L204.5,549.0 L203.6,554.0 L202.8,559.0 L202.2,564.0 L201.8,569.0 L201.6,574.0 L201.4,579.0 L201.5,584.0 L201.6,589.0 L201.9,594.0 L202.2,599.0 L202.8,604.0 L203.7,609.0 L204.8,614.0 L206.1,619.0 L207.8,624.0 L209.9,629.0 L212.5,634.0 L216.1,639.0 L220.9,644.0 L227.1,649.0 L233.7,654.0 L240.0,659.0 L240.8,659.0 L234.7,654.0 L228.3,649.0 L222.3,644.0 L217.7,639.0 L214.3,634.0 L211.8,629.0 L209.8,624.0 L208.3,619.0 L207.0,614.0 L206.0,609.0 L205.2,604.0 L204.7,599.0 L204.4,594.0 L204.2,589.0 L204.1,584.0 L204.1,579.0 L204.3,574.0 L204.6,569.0 L205.0,564.0 L205.6,559.0 L206.4,554.0 L207.4,549.0 L208.4,544.0 L209.6,539.0 L210.8,534.0 L212.1,529.0 L213.3,524.0 L214.5,519.0 L215.7,514.0 L216.7,509.0 L217.7,504.0 L218.5,499.0 L219.1,494.0 L219.6,489.0 L220.0,484.0 L220.3,479.0 L220.5,474.0 L220.6,469.0 L220.6,464.0 L220.5,459.0 L220.2,454.0 L219.8,449.0 L219.2,444.0 L218.6,439.0 L217.8,434.0 L216.9,429.0 L215.9,424.0 L214.7,419.0 L213.5,414.0 L212.3,409.0 L211.4,404.0 L210.7,399.0 L210.5,394.0 L210.6,389.0 L210.9,384.0 L211.3,379.0 L211.6,374.0 L212.0,369.0 L212.3,364.0 L212.7,359.0 L213.0,354.0 L213.4,349.0 L213.7,344.0 L214.1,339.0 L214.4,334.0 L214.8,329.0 L215.1,324.0 L215.5,319.0 L215.8,314.0 L216.2,309.0 L216.5,304.0 L216.9,299.0 L217.2,294.0 L217.6,289.0 L217.9,284.0 L218.3,279.0 L218.6,274.0Z"/>
<path d="M221.2,274.0 L220.9,279.0 L220.5,284.0 L220.2,289.0 L219.9,294.0 L219.6,299.0 L219.2,304.0 L218.9,309.0 L218.6,314.0 L218.3,319.0 L218.0,324.0 L217.6,329.0 L217.3,334.0 L217.0,339.0 L216.7,344.0 L216.3,349.0 L216.0,354.0 L215.7,359.0 L215.4,364.0 L215.0,369.0 L214.7,374.0 L214.4,379.0 L214.1,384.0 L213.8,389.0 L213.7,394.0 L213.9,399.0 L214.6,404.0 L215.6,409.0 L216.8,414.0 L217.9,419.0 L219.1,424.0 L220.2,429.0 L221.0,434.0 L221.8,439.0 L222.4,444.0 L223.0,449.0 L223.4,454.0 L223.6,459.0 L223.7,464.0 L223.7,469.0 L223.5,474.0 L223.3,479.0 L223.0,484.0 L222.6,489.0 L222.1,494.0 L221.4,499.0 L220.6,504.0 L219.6,509.0 L218.6,514.0 L217.4,519.0 L216.2,524.0 L214.9,529.0 L213.6,534.0 L212.4,539.0 L211.2,544.0 L210.1,549.0 L209.1,554.0 L208.3,559.0 L207.7,564.0 L207.2,569.0 L206.9,574.0 L206.7,579.0 L206.6,584.0 L206.6,589.0 L206.8,594.0 L207.0,599.0 L207.5,604.0 L208.2,609.0 L209.1,614.0 L210.3,619.0 L211.8,624.0 L213.6,629.0 L216.0,634.0 L219.2,639.0 L223.7,644.0 L229.4,649.0 L235.6,654.0 L241.6,659.0 L242.5,659.0 L236.7,654.0 L230.7,649.0 L225.2,644.0 L220.9,639.0 L217.9,634.0 L215.6,629.0 L213.9,624.0 L212.5,619.0 L211.4,614.0 L210.6,609.0 L210.0,604.0 L209.6,599.0 L209.4,594.0 L209.3,589.0 L209.3,584.0 L209.5,579.0 L209.8,574.0 L210.1,569.0 L210.6,564.0 L211.3,559.0 L212.1,554.0 L213.1,549.0 L214.2,544.0 L215.4,539.0 L216.7,534.0 L218.0,529.0 L219.3,524.0 L220.6,519.0 L221.7,514.0 L222.8,509.0 L223.8,504.0 L224.7,499.0 L225.3,494.0 L225.9,489.0 L226.3,484.0 L226.6,479.0 L226.9,474.0 L227.0,469.0 L227.1,464.0 L227.0,459.0 L226.8,454.0 L226.4,449.0 L225.9,444.0 L225.3,439.0 L224.5,434.0 L223.7,429.0 L222.6,424.0 L221.5,419.0 L220.3,414.0 L219.1,409.0 L218.1,404.0 L217.4,399.0 L217.2,394.0 L217.2,389.0 L217.5,384.0 L217.8,379.0 L218.1,374.0 L218.4,369.0 L218.7,364.0 L219.0,359.0 L219.2,354.0 L219.5,349.0 L219.8,344.0 L220.1,339.0 L220.4,334.0 L220.7,329.0 L221.0,324.0 L221.3,319.0 L221.6,314.0 L221.9,309.0 L222.2,304.0 L222.5,299.0 L222.8,294.0 L223.1,289.0 L223.4,284.0 L223.7,279.0 L224.0,274.0Z"/>
<path d="M226.7,274.0 L226.5,279.0 L226.2,284.0 L225.9,289.0 L225.7,294.0 L225.4,299.0 L225.1,304.0 L224.9,309.0 L224.6,314.0 L224.3,319.0 L224.1,324.0 L223.8,329.0 L223.5,334.0 L223.3,339.0 L223.0,344.0 L222.7,349.0 L222.5,354.0 L222.2,359.0 L222.0,364.0 L221.7,369.0 L221.4,374.0 L221.2,379.0 L220.9,384.0 L220.7,389.0 L220.6,394.0 L220.9,399.0 L221.6,404.0 L222.7,409.0 L223.8,414.0 L225.0,419.0 L226.2,424.0 L227.2,429.0 L228.1,434.0 L228.8,439.0 L229.4,444.0 L229.9,449.0 L230.2,454.0 L230.4,459.0 L230.5,464.0 L230.4,469.0 L230.2,474.0 L230.0,479.0 L229.6,484.0 L229.2,489.0 L228.6,494.0 L227.9,499.0 L227.1,504.0 L226.1,509.0 L224.9,514.0 L223.7,519.0 L222.5,524.0 L221.1,529.0 L219.8,534.0 L218.5,539.0 L217.3,544.0 L216.2,549.0 L215.2,554.0 L214.3,559.0 L213.6,564.0 L213.1,569.0 L212.7,574.0 L212.3,579.0 L212.2,584.0 L212.1,589.0 L212.1,594.0 L212.2,599.0 L212.5,604.0 L213.0,609.0 L213.8,614.0 L214.8,619.0 L216.1,624.0 L217.7,629.0 L219.8,634.0 L222.7,639.0 L226.7,644.0 L232.0,649.0 L237.7,654.0 L243.3,659.0 L244.2,659.0 L238.8,654.0 L233.3,649.0 L228.3,644.0 L224.5,639.0 L221.7,634.0 L219.8,629.0 L218.3,624.0 L217.1,619.0 L216.2,614.0 L215.6,609.0 L215.1,604.0 L214.9,599.0 L214.8,594.0 L214.9,589.0 L215.0,584.0 L215.3,579.0 L215.6,574.0 L216.1,569.0 L216.7,564.0 L217.4,559.0 L218.3,554.0 L219.3,549.0 L220.4,544.0 L221.6,539.0 L223.0,534.0 L224.3,529.0 L225.7,524.0 L227.0,519.0 L228.2,514.0 L229.3,509.0 L230.4,504.0 L231.3,499.0 L232.0,494.0 L232.5,489.0 L233.0,484.0 L233.4,479.0 L233.6,474.0 L233.8,469.0 L233.9,464.0 L233.9,459.0 L233.7,454.0 L233.3,449.0 L232.9,444.0 L232.3,439.0 L231.6,434.0 L230.7,429.0 L229.7,424.0 L228.6,419.0 L227.4,414.0 L226.2,409.0 L225.2,404.0 L224.5,399.0 L224.1,394.0 L224.1,389.0 L224.3,384.0 L224.6,379.0 L224.8,374.0 L225.0,369.0 L225.3,364.0 L225.5,359.0 L225.7,354.0 L226.0,349.0 L226.2,344.0 L226.4,339.0 L226.7,334.0 L226.9,329.0 L227.2,324.0 L227.4,319.0 L227.6,314.0 L227.9,309.0 L228.1,304.0 L228.3,299.0 L228.6,294.0 L228.8,289.0 L229.0,284.0 L229.3,279.0 L229.5,274.0Z"/>
<path d="M232.5,274.0 L232.3,279.0 L232.1,284.0 L231.9,289.0 L231.7,294.0 L231.5,299.0 L231.3,304.0 L231.1,309.0 L230.9,314.0 L230.7,319.0 L230.4,324.0 L230.2,329.0 L230.0,334.0 L229.8,339.0 L229.6,344.0 L229.4,349.0 L229.2,354.0 L229.0,359.0 L228.8,364.0 L228.6,369.0 L228.4,374.0 L228.2,379.0 L228.0,384.0 L227.8,389.0 L227.9,394.0 L228.2,399.0 L229.0,404.0 L230.0,409.0 L231.2,414.0 L232.4,419.0 L233.5,424.0 L234.5,429.0 L235.4,434.0 L236.1,439.0 L236.6,444.0 L237.1,449.0 L237.4,454.0 L237.6,459.0 L237.6,464.0 L237.5,469.0 L237.3,474.0 L237.0,479.0 L236.6,484.0 L236.1,489.0 L235.6,494.0 L234.8,499.0 L234.0,504.0 L232.9,509.0 L231.7,514.0 L230.5,519.0 L229.2,524.0 L227.8,529.0 L226.4,534.0 L225.1,539.0 L223.8,544.0 L222.7,549.0 L221.6,554.0 L220.7,559.0 L220.0,564.0 L219.4,569.0 L218.9,574.0 L218.5,579.0 L218.1,584.0 L217.9,589.0 L217.8,594.0 L217.8,599.0 L217.9,604.0 L218.3,609.0 L218.9,614.0 L219.7,619.0 L220.7,624.0 L222.0,629.0 L223.9,634.0 L226.4,639.0 L230.0,644.0 L234.7,649.0 L240.0,654.0 L245.2,659.0 L246.1,659.0 L241.1,654.0 L236.1,649.0 L231.6,644.0 L228.2,639.0 L225.9,634.0 L224.2,629.0 L223.0,624.0 L222.1,619.0 L221.4,614.0 L220.9,609.0 L220.6,604.0 L220.5,599.0 L220.6,594.0 L220.8,589.0 L221.1,584.0 L221.5,579.0 L222.0,574.0 L222.5,569.0 L223.2,564.0 L223.9,559.0 L224.9,554.0 L225.9,549.0 L227.1,544.0 L228.3,539.0 L229.7,534.0 L231.1,529.0 L232.5,524.0 L233.8,519.0 L235.1,514.0 L236.3,509.0 L237.3,504.0 L238.2,499.0 L239.0,494.0 L239.6,489.0 L240.1,484.0 L240.5,479.0 L240.8,474.0 L241.0,469.0 L241.1,464.0 L241.1,459.0 L240.9,454.0 L240.6,449.0 L240.2,444.0 L239.6,439.0 L239.0,434.0 L238.1,429.0 L237.1,424.0 L236.0,419.0 L234.8,414.0 L233.6,409.0 L232.5,404.0 L231.8,399.0 L231.4,394.0 L231.3,389.0 L231.4,384.0 L231.6,379.0 L231.8,374.0 L232.0,369.0 L232.1,364.0 L232.3,359.0 L232.5,354.0 L232.7,349.0 L232.8,344.0 L233.0,339.0 L233.2,334.0 L233.4,329.0 L233.5,324.0 L233.7,319.0 L233.9,314.0 L234.1,309.0 L234.2,304.0 L234.4,299.0 L234.6,294.0 L234.8,289.0 L235.0,284.0 L235.1,279.0 L235.3,274.0Z"/>
<path d="M238.5,274.0 L238.4,279.0 L238.2,284.0 L238.1,289.0 L237.9,294.0 L237.8,299.0 L237.6,304.0 L237.5,309.0 L237.4,314.0 L237.2,319.0 L237.1,324.0 L236.9,329.0 L236.8,334.0 L236.7,339.0 L236.5,344.0 L236.4,349.0 L236.2,354.0 L236.1,359.0 L235.9,364.0 L235.8,369.0 L235.7,374.0 L235.5,379.0 L235.4,384.0 L235.3,389.0 L235.4,394.0 L235.8,399.0 L236.6,404.0 L237.7,409.0 L238.9,414.0 L240.1,419.0 L241.2,424.0 L242.2,429.0 L243.0,434.0 L243.7,439.0 L244.2,444.0 L244.7,449.0 L245.0,454.0 L245.1,459.0 L245.1,464.0 L244.9,469.0 L244.7,474.0 L244.4,479.0 L244.0,484.0 L243.5,489.0 L242.9,494.0 L242.2,499.0 L241.2,504.0 L240.2,509.0 L239.0,514.0 L237.7,519.0 L236.3,524.0 L234.9,529.0 L233.5,534.0 L232.1,539.0 L230.9,544.0 L229.7,549.0 L228.6,554.0 L227.6,559.0 L226.8,564.0 L226.1,569.0 L225.5,574.0 L225.0,579.0 L224.6,584.0 L224.2,589.0 L223.9,594.0 L223.8,599.0 L223.7,604.0 L223.9,609.0 L224.3,614.0 L224.9,619.0 L225.7,624.0 L226.7,629.0 L228.2,634.0 L230.3,639.0 L233.4,644.0 L237.6,649.0 L242.4,654.0 L247.2,659.0 L248.1,659.0 L243.6,654.0 L239.0,649.0 L235.1,644.0 L232.2,639.0 L230.3,634.0 L229.0,629.0 L228.1,624.0 L227.4,619.0 L226.9,614.0 L226.6,609.0 L226.5,604.0 L226.6,599.0 L226.9,594.0 L227.2,589.0 L227.6,584.0 L228.1,579.0 L228.7,574.0 L229.4,569.0 L230.1,564.0 L230.9,559.0 L231.9,554.0 L233.0,549.0 L234.2,544.0 L235.5,539.0 L236.9,534.0 L238.3,529.0 L239.7,524.0 L241.1,519.0 L242.4,514.0 L243.6,509.0 L244.7,504.0 L245.6,499.0 L246.4,494.0 L247.0,489.0 L247.5,484.0 L247.9,479.0 L248.2,474.0 L248.5,469.0 L248.6,464.0 L248.6,459.0 L248.5,454.0 L248.2,449.0 L247.8,444.0 L247.3,439.0 L246.6,434.0 L245.8,429.0 L244.8,424.0 L243.7,419.0 L242.5,414.0 L241.3,409.0 L240.2,404.0 L239.3,399.0 L238.9,394.0 L238.8,389.0 L238.8,384.0 L239.0,379.0 L239.1,374.0 L239.2,369.0 L239.3,364.0 L239.4,359.0 L239.5,354.0 L239.6,349.0 L239.7,344.0 L239.8,339.0 L240.0,334.0 L240.1,329.0 L240.2,324.0 L240.3,319.0 L240.4,314.0 L240.5,309.0 L240.6,304.0 L240.7,299.0 L240.9,294.0 L241.0,289.0 L241.1,284.0 L241.2,279.0 L241.3,274.0Z"/>
<path d="M244.7,274.0 L244.7,279.0 L244.6,284.0 L244.5,289.0 L244.4,294.0 L244.3,299.0 L244.3,304.0 L244.2,309.0 L244.1,314.0 L244.0,319.0 L244.0,324.0 L243.9,329.0 L243.8,334.0 L243.7,339.0 L243.7,344.0 L243.6,349.0 L243.5,354.0 L243.4,359.0 L243.4,364.0 L243.3,369.0 L243.2,374.0 L243.1,379.0 L243.1,384.0 L243.0,389.0 L243.2,394.0 L243.7,399.0 L244.5,404.0 L245.6,409.0 L246.9,414.0 L248.1,419.0 L249.2,424.0 L250.2,429.0 L251.0,434.0 L251.7,439.0 L252.2,444.0 L252.6,449.0 L252.9,454.0 L253.0,459.0 L252.9,464.0 L252.8,469.0 L252.5,474.0 L252.2,479.0 L251.8,484.0 L251.3,489.0 L250.6,494.0 L249.9,499.0 L248.9,504.0 L247.8,509.0 L246.6,514.0 L245.3,519.0 L243.9,524.0 L242.5,529.0 L241.0,534.0 L239.7,539.0 L238.4,544.0 L237.2,549.0 L236.0,554.0 L235.0,559.0 L234.1,564.0 L233.3,569.0 L232.6,574.0 L232.0,579.0 L231.4,584.0 L230.9,589.0 L230.5,594.0 L230.1,599.0 L229.9,604.0 L229.9,609.0 L230.1,614.0 L230.5,619.0 L231.0,624.0 L231.7,629.0 L232.9,634.0 L234.6,639.0 L237.2,644.0 L240.8,649.0 L245.0,654.0 L249.3,659.0 L250.3,659.0 L246.2,654.0 L242.2,649.0 L238.9,644.0 L236.5,639.0 L235.0,634.0 L234.0,629.0 L233.4,624.0 L233.0,619.0 L232.8,614.0 L232.7,609.0 L232.8,604.0 L233.1,599.0 L233.5,594.0 L234.0,589.0 L234.6,584.0 L235.2,579.0 L235.9,574.0 L236.7,569.0 L237.5,564.0 L238.4,559.0 L239.4,554.0 L240.6,549.0 L241.8,544.0 L243.1,539.0 L244.5,534.0 L246.0,529.0 L247.4,524.0 L248.8,519.0 L250.1,514.0 L251.3,509.0 L252.4,504.0 L253.4,499.0 L254.1,494.0 L254.8,489.0 L255.3,484.0 L255.7,479.0 L256.1,474.0 L256.3,469.0 L256.5,464.0 L256.5,459.0 L256.4,454.0 L256.2,449.0 L255.8,444.0 L255.3,439.0 L254.6,434.0 L253.8,429.0 L252.8,424.0 L251.7,419.0 L250.5,414.0 L249.2,409.0 L248.1,404.0 L247.2,399.0 L246.7,394.0 L246.5,389.0 L246.5,384.0 L246.6,379.0 L246.6,374.0 L246.6,369.0 L246.7,364.0 L246.7,359.0 L246.8,354.0 L246.8,349.0 L246.9,344.0 L246.9,339.0 L247.0,334.0 L247.0,329.0 L247.1,324.0 L247.1,319.0 L247.2,314.0 L247.2,309.0 L247.3,304.0 L247.3,299.0 L247.4,294.0 L247.4,289.0 L247.4,284.0 L247.5,279.0 L247.5,274.0Z"/>
<path d="M251.2,274.0 L251.2,279.0 L251.2,284.0 L251.2,289.0 L251.2,294.0 L251.1,299.0 L251.1,304.0 L251.1,309.0 L251.1,314.0 L251.1,319.0 L251.1,324.0 L251.1,329.0 L251.1,334.0 L251.1,339.0 L251.1,344.0 L251.1,349.0 L251.1,354.0 L251.0,359.0 L251.0,364.0 L251.0,369.0 L251.0,374.0 L251.0,379.0 L251.0,384.0 L251.1,389.0 L251.3,394.0 L251.8,399.0 L252.7,404.0 L253.9,409.0 L255.2,414.0 L256.4,419.0 L257.5,424.0 L258.5,429.0 L259.4,434.0 L260.0,439.0 L260.5,444.0 L260.9,449.0 L261.1,454.0 L261.2,459.0 L261.1,464.0 L260.9,469.0 L260.7,474.0 L260.4,479.0 L259.9,484.0 L259.4,489.0 L258.7,494.0 L258.0,499.0 L257.0,504.0 L255.9,509.0 L254.7,514.0 L253.4,519.0 L252.0,524.0 L250.5,529.0 L249.1,534.0 L247.7,539.0 L246.3,544.0 L245.1,549.0 L243.9,554.0 L242.8,559.0 L241.9,564.0 L241.0,569.0 L240.2,574.0 L239.4,579.0 L238.7,584.0 L238.0,589.0 L237.4,594.0 L236.9,599.0 L236.5,604.0 L236.3,609.0 L236.3,614.0 L236.4,619.0 L236.6,624.0 L237.1,629.0 L237.8,634.0 L239.1,639.0 L241.1,644.0 L244.1,649.0 L247.7,654.0 L251.6,659.0 L252.6,659.0 L249.0,654.0 L245.6,649.0 L242.8,644.0 L241.1,639.0 L240.0,634.0 L239.4,629.0 L239.1,624.0 L239.0,619.0 L239.0,614.0 L239.1,609.0 L239.4,604.0 L239.9,599.0 L240.5,594.0 L241.2,589.0 L241.9,584.0 L242.7,579.0 L243.5,574.0 L244.4,569.0 L245.3,564.0 L246.3,559.0 L247.4,554.0 L248.6,549.0 L249.8,544.0 L251.2,539.0 L252.6,534.0 L254.0,529.0 L255.5,524.0 L256.9,519.0 L258.2,514.0 L259.5,509.0 L260.6,504.0 L261.5,499.0 L262.3,494.0 L262.9,489.0 L263.5,484.0 L263.9,479.0 L264.3,474.0 L264.5,469.0 L264.7,464.0 L264.8,459.0 L264.7,454.0 L264.5,449.0 L264.1,444.0 L263.6,439.0 L263.0,434.0 L262.2,429.0 L261.2,424.0 L260.0,419.0 L258.8,414.0 L257.5,409.0 L256.3,404.0 L255.4,399.0 L254.8,394.0 L254.5,389.0 L254.5,384.0 L254.4,379.0 L254.4,374.0 L254.4,369.0 L254.4,364.0 L254.3,359.0 L254.3,354.0 L254.3,349.0 L254.3,344.0 L254.3,339.0 L254.2,334.0 L254.2,329.0 L254.2,324.0 L254.2,319.0 L254.2,314.0 L254.1,309.0 L254.1,304.0 L254.1,299.0 L254.1,294.0 L254.1,289.0 L254.0,284.0 L254.0,279.0 L254.0,274.0Z"/>
<path d="M257.9,274.0 L257.9,279.0 L258.0,284.0 L258.1,289.0 L258.1,294.0 L258.2,299.0 L258.3,304.0 L258.3,309.0 L258.4,314.0 L258.4,319.0 L258.5,324.0 L258.6,329.0 L258.6,334.0 L258.7,339.0 L258.7,344.0 L258.8,349.0 L258.9,354.0 L258.9,359.0 L259.0,364.0 L259.1,369.0 L259.1,374.0 L259.2,379.0 L259.2,384.0 L259.4,389.0 L259.6,394.0 L260.3,399.0 L261.3,404.0 L262.5,409.0 L263.8,414.0 L265.0,419.0 L266.2,424.0 L267.2,429.0 L268.0,434.0 L268.6,439.0 L269.1,444.0 L269.5,449.0 L269.7,454.0 L269.7,459.0 L269.7,464.0 L269.5,469.0 L269.2,474.0 L268.9,479.0 L268.5,484.0 L267.9,489.0 L267.3,494.0 L266.5,499.0 L265.5,504.0 L264.4,509.0 L263.2,514.0 L261.9,519.0 L260.4,524.0 L259.0,529.0 L257.5,534.0 L256.1,539.0 L254.8,544.0 L253.5,549.0 L252.3,554.0 L251.1,559.0 L250.1,564.0 L249.1,569.0 L248.2,574.0 L247.3,579.0 L246.4,584.0 L245.6,589.0 L244.8,594.0 L244.1,599.0 L243.5,604.0 L243.1,609.0 L242.8,614.0 L242.7,619.0 L242.6,624.0 L242.7,629.0 L243.1,634.0 L243.8,639.0 L245.3,644.0 L247.6,649.0 L250.7,654.0 L254.0,659.0 L255.0,659.0 L251.9,654.0 L249.1,649.0 L247.1,644.0 L245.9,639.0 L245.3,634.0 L245.1,629.0 L245.1,624.0 L245.3,619.0 L245.6,614.0 L246.0,609.0 L246.5,604.0 L247.1,599.0 L247.9,594.0 L248.8,589.0 L249.7,584.0 L250.6,579.0 L251.6,574.0 L252.5,569.0 L253.6,564.0 L254.6,559.0 L255.8,554.0 L257.0,549.0 L258.3,544.0 L259.7,539.0 L261.1,534.0 L262.6,529.0 L264.0,524.0 L265.4,519.0 L266.8,514.0 L268.0,509.0 L269.1,504.0 L270.1,499.0 L270.8,494.0 L271.5,489.0 L272.0,484.0 L272.5,479.0 L272.8,474.0 L273.1,469.0 L273.2,464.0 L273.3,459.0 L273.3,454.0 L273.1,449.0 L272.7,444.0 L272.2,439.0 L271.6,434.0 L270.8,429.0 L269.8,424.0 L268.6,419.0 L267.3,414.0 L266.0,409.0 L264.8,404.0 L263.8,399.0 L263.1,394.0 L262.8,389.0 L262.7,384.0 L262.6,379.0 L262.5,374.0 L262.4,369.0 L262.3,364.0 L262.2,359.0 L262.1,354.0 L262.0,349.0 L261.9,344.0 L261.9,339.0 L261.8,334.0 L261.7,329.0 L261.6,324.0 L261.5,319.0 L261.4,314.0 L261.3,309.0 L261.2,304.0 L261.1,299.0 L261.0,294.0 L260.9,289.0 L260.9,284.0 L260.8,279.0 L260.7,274.0Z"/>
<path d="M264.8,274.0 L264.9,279.0 L265.1,284.0 L265.2,289.0 L265.3,294.0 L265.5,299.0 L265.6,304.0 L265.7,309.0 L265.9,314.0 L266.0,319.0 L266.2,324.0 L266.3,329.0 L266.4,334.0 L266.6,339.0 L266.7,344.0 L266.8,349.0 L267.0,354.0 L267.1,359.0 L267.2,364.0 L267.4,369.0 L267.5,374.0 L267.6,379.0 L267.8,384.0 L268.0,389.0 L268.3,394.0 L269.0,399.0 L270.1,404.0 L271.3,409.0 L272.7,414.0 L274.0,419.0 L275.1,424.0 L276.2,429.0 L277.0,434.0 L277.6,439.0 L278.1,444.0 L278.4,449.0 L278.6,454.0 L278.7,459.0 L278.6,464.0 L278.4,469.0 L278.1,474.0 L277.8,479.0 L277.4,484.0 L276.8,489.0 L276.2,494.0 L275.4,499.0 L274.5,504.0 L273.4,509.0 L272.1,514.0 L270.8,519.0 L269.4,524.0 L267.9,529.0 L266.5,534.0 L265.0,539.0 L263.7,544.0 L262.3,549.0 L261.1,554.0 L259.9,559.0 L258.8,564.0 L257.7,569.0 L256.6,574.0 L255.6,579.0 L254.6,584.0 L253.6,589.0 L252.6,594.0 L251.7,599.0 L250.9,604.0 L250.2,609.0 L249.7,614.0 L249.3,619.0 L248.9,624.0 L248.6,629.0 L248.6,634.0 L248.9,639.0 L249.7,644.0 L251.3,649.0 L253.7,654.0 L256.5,659.0 L257.5,659.0 L255.0,654.0 L252.8,649.0 L251.5,644.0 L250.9,639.0 L250.8,634.0 L251.1,629.0 L251.5,624.0 L252.0,619.0 L252.5,614.0 L253.1,609.0 L253.9,604.0 L254.7,599.0 L255.7,594.0 L256.8,589.0 L257.9,584.0 L258.9,579.0 L260.0,574.0 L261.2,569.0 L262.3,564.0 L263.4,559.0 L264.7,554.0 L265.9,549.0 L267.3,544.0 L268.6,539.0 L270.1,534.0 L271.5,529.0 L273.0,524.0 L274.4,519.0 L275.7,514.0 L276.9,509.0 L278.1,504.0 L279.0,499.0 L279.8,494.0 L280.4,489.0 L281.0,484.0 L281.4,479.0 L281.7,474.0 L282.0,469.0 L282.2,464.0 L282.2,459.0 L282.2,454.0 L282.0,449.0 L281.7,444.0 L281.2,439.0 L280.6,434.0 L279.8,429.0 L278.7,424.0 L277.5,419.0 L276.2,414.0 L274.9,409.0 L273.6,404.0 L272.5,399.0 L271.8,394.0 L271.4,389.0 L271.2,384.0 L271.0,379.0 L270.8,374.0 L270.7,369.0 L270.5,364.0 L270.4,359.0 L270.2,354.0 L270.0,349.0 L269.9,344.0 L269.7,339.0 L269.5,334.0 L269.4,329.0 L269.2,324.0 L269.0,319.0 L268.9,314.0 L268.7,309.0 L268.6,304.0 L268.4,299.0 L268.2,294.0 L268.1,289.0 L267.9,284.0 L267.7,279.0 L267.6,274.0Z"/>
<path d="M272.0,274.0 L272.2,279.0 L272.4,284.0 L272.6,289.0 L272.8,294.0 L273.0,299.0 L273.2,304.0 L273.4,309.0 L273.6,314.0 L273.8,319.0 L274.1,324.0 L274.3,329.0 L274.5,334.0 L274.7,339.0 L274.9,344.0 L275.1,349.0 L275.3,354.0 L275.5,359.0 L275.7,364.0 L275.9,369.0 L276.2,374.0 L276.4,379.0 L276.6,384.0 L276.8,389.0 L277.3,394.0 L278.1,399.0 L279.2,404.0 L280.5,409.0 L281.9,414.0 L283.2,419.0 L284.4,424.0 L285.5,429.0 L286.3,434.0 L286.9,439.0 L287.4,444.0 L287.7,449.0 L287.9,454.0 L287.9,459.0 L287.8,464.0 L287.7,469.0 L287.4,474.0 L287.1,479.0 L286.7,484.0 L286.1,489.0 L285.5,494.0 L284.7,499.0 L283.8,504.0 L282.7,509.0 L281.5,514.0 L280.1,519.0 L278.7,524.0 L277.3,529.0 L275.9,534.0 L274.4,539.0 L273.0,544.0 L271.7,549.0 L270.4,554.0 L269.1,559.0 L267.9,564.0 L266.7,569.0 L265.5,574.0 L264.3,579.0 L263.1,584.0 L261.9,589.0 L260.8,594.0 L259.7,599.0 L258.7,604.0 L257.8,609.0 L257.0,614.0 L256.3,619.0 L255.6,624.0 L254.9,629.0 L254.4,634.0 L254.2,639.0 L254.3,644.0 L255.3,649.0 L257.0,654.0 L259.1,659.0 L260.2,659.0 L258.2,654.0 L256.8,649.0 L256.1,644.0 L256.2,639.0 L256.7,634.0 L257.3,629.0 L258.1,624.0 L259.0,619.0 L259.8,614.0 L260.7,609.0 L261.7,604.0 L262.8,599.0 L263.9,594.0 L265.2,589.0 L266.4,584.0 L267.7,579.0 L269.0,574.0 L270.2,569.0 L271.4,564.0 L272.7,559.0 L274.0,554.0 L275.3,549.0 L276.7,544.0 L278.1,539.0 L279.5,534.0 L280.9,529.0 L282.4,524.0 L283.7,519.0 L285.1,514.0 L286.3,509.0 L287.4,504.0 L288.3,499.0 L289.1,494.0 L289.7,489.0 L290.2,484.0 L290.7,479.0 L291.0,474.0 L291.2,469.0 L291.4,464.0 L291.5,459.0 L291.5,454.0 L291.3,449.0 L290.9,444.0 L290.5,439.0 L289.8,434.0 L289.0,429.0 L288.0,424.0 L286.8,419.0 L285.4,414.0 L284.0,409.0 L282.7,404.0 L281.5,399.0 L280.7,394.0 L280.2,389.0 L279.9,384.0 L279.7,379.0 L279.5,374.0 L279.2,369.0 L279.0,364.0 L278.7,359.0 L278.5,354.0 L278.3,349.0 L278.0,344.0 L277.8,339.0 L277.6,334.0 L277.3,329.0 L277.1,324.0 L276.8,319.0 L276.6,314.0 L276.4,309.0 L276.1,304.0 L275.9,299.0 L275.6,294.0 L275.4,289.0 L275.2,284.0 L274.9,279.0 L274.7,274.0Z"/>
<path d="M279.3,274.0 L279.6,279.0 L279.9,284.0 L280.2,289.0 L280.5,294.0 L280.8,299.0 L281.1,304.0 L281.4,309.0 L281.6,314.0 L281.9,319.0 L282.2,324.0 L282.5,329.0 L282.8,334.0 L283.1,339.0 L283.4,344.0 L283.7,349.0 L283.9,354.0 L284.2,359.0 L284.5,364.0 L284.8,369.0 L285.1,374.0 L285.4,379.0 L285.7,384.0 L286.0,389.0 L286.5,394.0 L287.4,399.0 L288.6,404.0 L290.0,409.0 L291.4,414.0 L292.8,419.0 L294.0,424.0 L295.1,429.0 L295.9,434.0 L296.5,439.0 L297.0,444.0 L297.3,449.0 L297.5,454.0 L297.6,459.0 L297.5,464.0 L297.3,469.0 L297.1,474.0 L296.8,479.0 L296.3,484.0 L295.8,489.0 L295.2,494.0 L294.4,499.0 L293.5,504.0 L292.5,509.0 L291.2,514.0 L289.9,519.0 L288.5,524.0 L287.1,529.0 L285.7,534.0 L284.3,539.0 L282.9,544.0 L281.5,549.0 L280.1,554.0 L278.8,559.0 L277.5,564.0 L276.2,569.0 L274.9,574.0 L273.5,579.0 L272.1,584.0 L270.8,589.0 L269.4,594.0 L268.1,599.0 L266.8,604.0 L265.7,609.0 L264.6,614.0 L263.6,619.0 L262.5,624.0 L261.5,629.0 L260.5,634.0 L259.7,639.0 L259.2,644.0 L259.4,649.0 L260.4,654.0 L261.9,659.0 L263.0,659.0 L261.6,654.0 L260.9,649.0 L261.0,644.0 L261.8,639.0 L262.8,634.0 L263.9,629.0 L265.1,624.0 L266.3,619.0 L267.4,614.0 L268.6,609.0 L269.8,604.0 L271.1,599.0 L272.6,594.0 L274.0,589.0 L275.5,584.0 L276.9,579.0 L278.3,574.0 L279.7,569.0 L281.0,564.0 L282.4,559.0 L283.7,554.0 L285.1,549.0 L286.5,544.0 L287.9,539.0 L289.3,534.0 L290.8,529.0 L292.2,524.0 L293.5,519.0 L294.8,514.0 L296.1,509.0 L297.1,504.0 L298.0,499.0 L298.8,494.0 L299.4,489.0 L299.9,484.0 L300.3,479.0 L300.6,474.0 L300.8,469.0 L301.0,464.0 L301.1,459.0 L301.1,454.0 L300.9,449.0 L300.5,444.0 L300.1,439.0 L299.4,434.0 L298.6,429.0 L297.5,424.0 L296.3,419.0 L294.9,414.0 L293.5,409.0 L292.0,404.0 L290.8,399.0 L289.9,394.0 L289.4,389.0 L289.0,384.0 L288.7,379.0 L288.4,374.0 L288.0,369.0 L287.7,364.0 L287.4,359.0 L287.1,354.0 L286.8,349.0 L286.5,344.0 L286.1,339.0 L285.8,334.0 L285.5,329.0 L285.2,324.0 L284.9,319.0 L284.6,314.0 L284.3,309.0 L283.9,304.0 L283.6,299.0 L283.3,294.0 L283.0,289.0 L282.7,284.0 L282.4,279.0 L282.0,274.0Z"/>
<path d="M287.0,274.0 L287.3,279.0 L287.7,284.0 L288.1,289.0 L288.4,294.0 L288.8,299.0 L289.2,304.0 L289.5,309.0 L289.9,314.0 L290.3,319.0 L290.6,324.0 L291.0,329.0 L291.4,334.0 L291.7,339.0 L292.1,344.0 L292.5,349.0 L292.8,354.0 L293.2,359.0 L293.6,364.0 L293.9,369.0 L294.3,374.0 L294.7,379.0 L295.1,384.0 L295.5,389.0 L296.1,394.0 L297.0,399.0 L298.3,404.0 L299.8,409.0 L301.3,414.0 L302.7,419.0 L304.0,424.0 L305.0,429.0 L305.9,434.0 L306.5,439.0 L307.0,444.0 L307.3,449.0 L307.5,454.0 L307.5,459.0 L307.5,464.0 L307.3,469.0 L307.1,474.0 L306.8,479.0 L306.4,484.0 L305.9,489.0 L305.3,494.0 L304.6,499.0 L303.7,504.0 L302.6,509.0 L301.5,514.0 L300.2,519.0 L298.8,524.0 L297.4,529.0 L296.0,534.0 L294.6,539.0 L293.2,544.0 L291.8,549.0 L290.4,554.0 L289.0,559.0 L287.5,564.0 L286.1,569.0 L284.6,574.0 L283.1,579.0 L281.6,584.0 L280.0,589.0 L278.4,594.0 L276.8,599.0 L275.3,604.0 L273.9,609.0 L272.6,614.0 L271.3,619.0 L269.8,624.0 L268.4,629.0 L266.9,634.0 L265.6,639.0 L264.3,644.0 L263.7,649.0 L263.9,654.0 L264.9,659.0 L265.9,659.0 L265.2,654.0 L265.2,649.0 L266.1,644.0 L267.6,639.0 L269.2,634.0 L270.8,629.0 L272.4,624.0 L274.0,619.0 L275.4,614.0 L276.9,609.0 L278.4,604.0 L279.9,599.0 L281.6,594.0 L283.2,589.0 L284.9,584.0 L286.5,579.0 L288.1,574.0 L289.6,569.0 L291.1,564.0 L292.5,559.0 L293.9,554.0 L295.4,549.0 L296.8,544.0 L298.2,539.0 L299.6,534.0 L301.0,529.0 L302.4,524.0 L303.7,519.0 L305.0,514.0 L306.2,509.0 L307.2,504.0 L308.1,499.0 L308.8,494.0 L309.4,489.0 L309.9,484.0 L310.3,479.0 L310.6,474.0 L310.8,469.0 L311.0,464.0 L311.0,459.0 L311.0,454.0 L310.8,449.0 L310.5,444.0 L310.0,439.0 L309.4,434.0 L308.5,429.0 L307.4,424.0 L306.1,419.0 L304.7,414.0 L303.2,409.0 L301.7,404.0 L300.4,399.0 L299.4,394.0 L298.8,389.0 L298.3,384.0 L297.9,379.0 L297.5,374.0 L297.1,369.0 L296.7,364.0 L296.3,359.0 L295.9,354.0 L295.5,349.0 L295.1,344.0 L294.8,339.0 L294.4,334.0 L294.0,329.0 L293.6,324.0 L293.2,319.0 L292.8,314.0 L292.4,309.0 L292.0,304.0 L291.6,299.0 L291.2,294.0 L290.8,289.0 L290.4,284.0 L290.0,279.0 L289.6,274.0Z"/>
<path d="M294.8,274.0 L295.3,279.0 L295.7,284.0 L296.2,289.0 L296.6,294.0 L297.1,299.0 L297.5,304.0 L298.0,309.0 L298.4,314.0 L298.9,319.0 L299.3,324.0 L299.8,329.0 L300.2,334.0 L300.7,339.0 L301.1,344.0 L301.6,349.0 L302.0,354.0 L302.5,359.0 L302.9,364.0 L303.4,369.0 L303.8,374.0 L304.3,379.0 L304.7,384.0 L305.2,389.0 L305.9,394.0 L306.9,399.0 L308.3,404.0 L309.9,409.0 L311.4,414.0 L312.9,419.0 L314.2,424.0 L315.3,429.0 L316.2,434.0 L316.8,439.0 L317.3,444.0 L317.7,449.0 L317.8,454.0 L317.9,459.0 L317.8,464.0 L317.7,469.0 L317.5,474.0 L317.2,479.0 L316.8,484.0 L316.4,489.0 L315.8,494.0 L315.1,499.0 L314.3,504.0 L313.2,509.0 L312.1,514.0 L310.8,519.0 L309.5,524.0 L308.2,529.0 L306.8,534.0 L305.4,539.0 L304.0,544.0 L302.5,549.0 L301.0,554.0 L299.6,559.0 L298.1,564.0 L296.5,569.0 L294.9,574.0 L293.2,579.0 L291.4,584.0 L289.6,589.0 L287.8,594.0 L286.0,599.0 L284.3,604.0 L282.6,609.0 L281.0,614.0 L279.3,619.0 L277.5,624.0 L275.6,629.0 L273.6,634.0 L271.6,639.0 L269.7,644.0 L268.2,649.0 L267.7,654.0 L267.9,659.0 L268.9,659.0 L268.9,654.0 L269.7,649.0 L271.5,644.0 L273.7,639.0 L275.9,634.0 L278.0,629.0 L280.0,624.0 L282.0,619.0 L283.7,614.0 L285.5,609.0 L287.3,604.0 L289.1,599.0 L291.0,594.0 L292.9,589.0 L294.7,584.0 L296.5,579.0 L298.3,574.0 L300.0,569.0 L301.6,564.0 L303.1,559.0 L304.6,554.0 L306.1,549.0 L307.6,544.0 L309.0,539.0 L310.4,534.0 L311.7,529.0 L313.1,524.0 L314.4,519.0 L315.6,514.0 L316.8,509.0 L317.8,504.0 L318.6,499.0 L319.3,494.0 L319.9,489.0 L320.3,484.0 L320.7,479.0 L320.9,474.0 L321.1,469.0 L321.2,464.0 L321.3,459.0 L321.3,454.0 L321.1,449.0 L320.7,444.0 L320.3,439.0 L319.6,434.0 L318.7,429.0 L317.6,424.0 L316.3,419.0 L314.8,414.0 L313.2,409.0 L311.6,404.0 L310.2,399.0 L309.2,394.0 L308.4,389.0 L307.9,384.0 L307.4,379.0 L306.9,374.0 L306.5,369.0 L306.0,364.0 L305.5,359.0 L305.0,354.0 L304.6,349.0 L304.1,344.0 L303.6,339.0 L303.1,334.0 L302.7,329.0 L302.2,324.0 L301.7,319.0 L301.2,314.0 L300.7,309.0 L300.3,304.0 L299.8,299.0 L299.3,294.0 L298.8,289.0 L298.4,284.0 L297.9,279.0 L297.4,274.0Z"/>
<path d="M302.9,274.0 L303.4,279.0 L304.0,284.0 L304.5,289.0 L305.0,294.0 L305.6,299.0 L306.1,304.0 L306.6,309.0 L307.2,314.0 L307.7,319.0 L308.2,324.0 L308.8,329.0 L309.3,334.0 L309.8,339.0 L310.4,344.0 L310.9,349.0 L311.4,354.0 L312.0,359.0 L312.5,364.0 L313.0,369.0 L313.6,374.0 L314.1,379.0 L314.7,384.0 L315.2,389.0 L316.0,394.0 L317.2,399.0 L318.6,404.0 L320.3,409.0 L321.9,414.0 L323.4,419.0 L324.8,424.0 L325.9,429.0 L326.8,434.0 L327.5,439.0 L328.0,444.0 L328.3,449.0 L328.5,454.0 L328.6,459.0 L328.5,464.0 L328.4,469.0 L328.2,474.0 L328.0,479.0 L327.7,484.0 L327.2,489.0 L326.7,494.0 L326.0,499.0 L325.2,504.0 L324.3,509.0 L323.1,514.0 L321.9,519.0 L320.6,524.0 L319.4,529.0 L318.0,534.0 L316.7,539.0 L315.2,544.0 L313.7,549.0 L312.2,554.0 L310.6,559.0 L309.0,564.0 L307.3,569.0 L305.5,574.0 L303.7,579.0 L301.7,584.0 L299.7,589.0 L297.7,594.0 L295.6,599.0 L293.6,604.0 L291.6,609.0 L289.7,614.0 L287.7,619.0 L285.5,624.0 L283.1,629.0 L280.6,634.0 L278.0,639.0 L275.3,644.0 L272.9,649.0 L271.5,654.0 L271.1,659.0 L272.1,659.0 L272.8,654.0 L274.4,649.0 L277.0,644.0 L280.0,639.0 L282.9,634.0 L285.5,629.0 L288.0,624.0 L290.3,619.0 L292.4,614.0 L294.5,609.0 L296.6,604.0 L298.7,599.0 L300.8,594.0 L302.9,589.0 L305.0,584.0 L307.0,579.0 L308.9,574.0 L310.7,569.0 L312.5,564.0 L314.1,559.0 L315.7,554.0 L317.3,549.0 L318.8,544.0 L320.2,539.0 L321.6,534.0 L322.9,529.0 L324.2,524.0 L325.4,519.0 L326.6,514.0 L327.7,509.0 L328.7,504.0 L329.5,499.0 L330.1,494.0 L330.7,489.0 L331.1,484.0 L331.4,479.0 L331.6,474.0 L331.8,469.0 L331.9,464.0 L331.9,459.0 L331.9,454.0 L331.7,449.0 L331.3,444.0 L330.8,439.0 L330.1,434.0 L329.2,429.0 L328.1,424.0 L326.7,419.0 L325.2,414.0 L323.5,409.0 L321.9,404.0 L320.4,399.0 L319.2,394.0 L318.4,389.0 L317.8,384.0 L317.2,379.0 L316.7,374.0 L316.1,369.0 L315.5,364.0 L315.0,359.0 L314.4,354.0 L313.8,349.0 L313.3,344.0 L312.7,339.0 L312.2,334.0 L311.6,329.0 L311.0,324.0 L310.5,319.0 L309.9,314.0 L309.4,309.0 L308.8,304.0 L308.2,299.0 L307.7,294.0 L307.1,289.0 L306.6,284.0 L306.0,279.0 L305.4,274.0Z"/>
<path d="M311.2,274.0 L311.8,279.0 L312.4,284.0 L313.1,289.0 L313.7,294.0 L314.3,299.0 L314.9,304.0 L315.6,309.0 L316.2,314.0 L316.8,319.0 L317.4,324.0 L318.0,329.0 L318.7,334.0 L319.3,339.0 L319.9,344.0 L320.5,349.0 L321.2,354.0 L321.8,359.0 L322.4,364.0 L323.0,369.0 L323.6,374.0 L324.3,379.0 L324.9,384.0 L325.6,389.0 L326.4,394.0 L327.7,399.0 L329.2,404.0 L331.0,409.0 L332.7,414.0 L334.2,419.0 L335.6,424.0 L336.8,429.0 L337.8,434.0 L338.5,439.0 L339.0,444.0 L339.3,449.0 L339.5,454.0 L339.6,459.0 L339.6,464.0 L339.5,469.0 L339.3,474.0 L339.2,479.0 L338.9,484.0 L338.5,489.0 L338.0,494.0 L337.4,499.0 L336.6,504.0 L335.7,509.0 L334.6,514.0 L333.5,519.0 L332.2,524.0 L331.0,529.0 L329.7,534.0 L328.4,539.0 L326.9,544.0 L325.4,549.0 L323.8,554.0 L322.2,559.0 L320.4,564.0 L318.6,569.0 L316.7,574.0 L314.6,579.0 L312.5,584.0 L310.2,589.0 L307.9,594.0 L305.6,599.0 L303.3,604.0 L301.0,609.0 L298.8,614.0 L296.4,619.0 L293.8,624.0 L291.0,629.0 L287.9,634.0 L284.6,639.0 L281.1,644.0 L277.8,649.0 L275.6,654.0 L274.4,659.0 L275.4,659.0 L276.8,654.0 L279.3,649.0 L282.8,644.0 L286.6,639.0 L290.1,634.0 L293.3,629.0 L296.3,624.0 L299.0,619.0 L301.5,614.0 L303.9,609.0 L306.2,604.0 L308.6,599.0 L311.0,594.0 L313.4,589.0 L315.7,584.0 L317.9,579.0 L320.0,574.0 L322.0,569.0 L323.9,564.0 L325.6,559.0 L327.3,554.0 L328.9,549.0 L330.4,544.0 L331.9,539.0 L333.2,534.0 L334.5,529.0 L335.7,524.0 L336.9,519.0 L338.1,514.0 L339.1,509.0 L340.0,504.0 L340.7,499.0 L341.3,494.0 L341.8,489.0 L342.2,484.0 L342.5,479.0 L342.7,474.0 L342.8,469.0 L342.9,464.0 L342.9,459.0 L342.8,454.0 L342.6,449.0 L342.2,444.0 L341.7,439.0 L341.0,434.0 L340.1,429.0 L338.9,424.0 L337.4,419.0 L335.9,414.0 L334.1,409.0 L332.4,404.0 L330.8,399.0 L329.5,394.0 L328.6,389.0 L327.9,384.0 L327.3,379.0 L326.6,374.0 L326.0,369.0 L325.3,364.0 L324.7,359.0 L324.0,354.0 L323.4,349.0 L322.7,344.0 L322.1,339.0 L321.4,334.0 L320.8,329.0 L320.1,324.0 L319.5,319.0 L318.9,314.0 L318.2,309.0 L317.6,304.0 L316.9,299.0 L316.3,294.0 L315.6,289.0 L315.0,284.0 L314.3,279.0 L313.7,274.0Z"/></g>
</g>
<clipPath id="oc"><path d="M196.8,350.0 C196.7,343.3 196.7,336.3 196.8,330.0 C196.9,323.7 197.0,317.3 197.6,312.0 C198.2,306.7 199.0,302.2 200.3,298.0 C201.6,293.8 203.2,290.1 205.3,286.5 C207.4,282.9 209.9,279.8 213.0,276.5 C216.1,273.2 219.7,269.7 223.7,266.7 C227.7,263.7 232.8,260.4 237.0,258.3 C241.2,256.2 245.2,255.3 249.0,254.3 C252.8,253.3 256.5,252.8 260.0,252.4 C263.5,252.1 266.7,252.1 270.0,252.2 C273.3,252.3 276.7,253.4 280.0,252.8 C283.3,252.2 286.7,250.4 290.0,248.8 C293.3,247.2 296.7,245.0 300.0,243.2 C303.3,241.4 306.7,239.8 310.0,238.0 C313.3,236.2 317.2,234.3 320.0,232.5 C322.8,230.7 324.8,228.5 327.0,227.0 C329.2,225.5 330.5,224.2 333.0,223.3 C335.5,222.4 338.8,221.7 342.0,221.5 C345.2,221.3 348.3,221.5 352.0,222.4 C355.7,223.3 360.0,224.9 364.0,227.0 C368.0,229.1 372.3,232.2 376.0,235.0 C379.7,237.8 383.2,241.0 386.0,244.0 C388.8,247.0 391.2,250.0 393.0,253.0 C394.8,256.0 396.2,259.2 397.0,262.0 C397.8,264.8 398.2,267.0 398.0,270.0 C397.8,273.0 397.0,276.7 396.0,280.0 C395.0,283.3 393.3,286.3 392.0,290.0 C390.7,293.7 389.2,298.3 388.0,302.0 C386.8,305.7 385.7,308.3 385.0,312.0 C384.3,315.7 383.8,320.0 383.6,324.0 C383.4,328.0 383.4,332.0 383.6,336.0 C383.8,340.0 384.3,344.0 385.0,348.0 C385.7,352.0 386.8,356.0 388.0,360.0 C389.2,364.0 390.7,368.0 392.0,372.0 C393.3,376.0 394.7,380.0 396.0,384.0 C397.3,388.0 398.7,392.0 400.0,396.0 C401.3,400.0 402.8,404.0 403.6,408.0 C404.4,412.0 404.3,414.7 404.8,420.0 C405.3,425.3 406.3,433.3 406.8,440.0 C407.3,446.7 407.8,453.3 408.0,460.0 C408.2,466.7 408.4,473.3 408.2,480.0 C408.0,486.7 407.6,493.3 407.0,500.0 C406.4,506.7 405.5,513.3 404.4,520.0 C403.3,526.7 402.0,533.7 400.3,540.0 C398.6,546.3 396.0,553.2 394.3,558.0 C392.6,562.8 391.7,564.7 390.0,568.5 C388.3,572.3 386.0,577.2 384.0,581.0 C382.0,584.8 380.0,588.3 378.2,591.5 C376.4,594.7 375.2,596.9 373.3,600.0 C371.4,603.1 369.2,606.4 366.7,610.0 C364.2,613.6 361.1,618.1 358.3,621.7 C355.5,625.3 352.8,628.5 350.0,631.7 C347.2,634.9 344.5,638.0 341.7,640.8 C338.9,643.6 336.1,645.9 333.3,648.3 C330.5,650.7 327.8,652.8 325.0,655.0 C322.2,657.2 319.5,659.7 316.7,661.7 C313.9,663.7 310.8,665.4 308.0,667.0 C305.2,668.6 303.0,670.1 300.0,671.5 C297.0,672.9 293.3,674.4 290.0,675.5 C286.7,676.6 283.3,677.4 280.0,678.0 C276.7,678.6 273.0,679.1 270.0,679.3 C267.0,679.5 264.7,679.4 262.0,679.3 C259.3,679.2 256.7,678.9 254.0,678.5 C251.3,678.1 248.7,677.8 246.0,677.0 C243.3,676.2 240.7,675.2 238.0,674.0 C235.3,672.8 232.5,671.2 230.0,669.5 C227.5,667.8 225.3,666.1 223.0,664.0 C220.7,661.9 218.2,659.5 216.0,657.0 C213.8,654.5 211.8,651.8 210.0,649.0 C208.2,646.2 206.3,643.2 205.0,640.0 C203.7,636.8 203.0,633.3 202.0,630.0 C201.0,626.7 199.9,623.3 199.0,620.0 C198.1,616.7 197.4,613.3 196.8,610.0 C196.2,606.7 195.8,605.0 195.6,600.0 C195.4,595.0 195.2,586.7 195.6,580.0 C196.0,573.3 196.9,566.7 198.0,560.0 C199.1,553.3 200.5,546.7 202.0,540.0 C203.5,533.3 205.5,526.7 207.0,520.0 C208.5,513.3 210.0,506.7 211.0,500.0 C212.0,493.3 212.7,486.3 213.0,480.0 C213.3,473.7 212.8,467.3 212.7,462.0 C212.6,456.7 212.7,453.3 212.2,448.0 C211.7,442.7 211.1,436.3 209.8,430.0 C208.5,423.7 206.0,416.7 204.2,410.0 C202.4,403.3 200.4,396.7 199.2,390.0 C198.0,383.3 197.6,376.7 197.2,370.0 C196.8,363.3 196.9,356.7 196.8,350.0Z"/></clipPath>
<clipPath id="pc"><path d="M248.0,655.8 C246.0,656.0 244.3,655.9 242.0,655.5 C239.7,655.1 236.7,654.5 234.0,653.5 C231.3,652.5 228.5,651.1 226.0,649.5 C223.5,647.9 221.2,646.1 219.0,644.0 C216.8,641.9 214.7,639.3 213.0,637.0 C211.3,634.7 210.2,632.5 209.0,630.0 C207.8,627.5 207.0,625.0 206.0,622.0 C205.0,619.0 203.8,615.7 203.0,612.0 C202.2,608.3 201.5,605.3 201.0,600.0 C200.5,594.7 200.0,586.7 200.0,580.0 C200.0,573.3 200.2,566.7 201.0,560.0 C201.8,553.3 203.5,546.7 205.0,540.0 C206.5,533.3 208.5,526.7 210.0,520.0 C211.5,513.3 213.1,506.7 214.0,500.0 C214.9,493.3 215.3,486.7 215.6,480.0 C215.9,473.3 215.9,465.0 215.8,460.0 C215.7,455.0 215.6,455.0 215.0,450.0 C214.4,445.0 213.5,436.7 212.2,430.0 C210.9,423.3 208.7,416.7 207.2,410.0 C205.7,403.3 204.1,396.7 203.1,390.0 C202.1,383.3 201.8,376.7 201.4,370.0 C201.0,363.3 200.9,356.7 200.9,350.0 C200.9,343.3 201.0,336.0 201.4,330.0 C201.8,324.0 201.8,319.3 203.4,314.0 C205.0,308.7 208.0,302.8 211.0,298.0 C214.0,293.2 218.2,288.1 221.5,285.0 C224.8,281.9 227.6,280.8 231.0,279.3 C234.4,277.8 238.2,276.2 242.0,276.0 C245.8,275.8 250.5,277.1 253.5,278.0 C256.5,278.9 257.2,279.5 260.0,281.5 C262.8,283.5 266.7,286.6 270.0,290.0 C273.3,293.4 276.7,297.7 280.0,302.0 C283.3,306.3 286.7,311.0 290.0,316.0 C293.3,321.0 297.0,326.7 300.0,332.0 C303.0,337.3 305.3,342.7 308.0,348.0 C310.7,353.3 313.5,358.7 316.0,364.0 C318.5,369.3 321.2,375.7 323.0,380.0 C324.8,384.3 325.3,386.3 327.0,390.0 C328.7,393.7 331.2,397.7 333.0,402.0 C334.8,406.3 336.5,411.3 338.0,416.0 C339.5,420.7 341.0,425.0 342.0,430.0 C343.0,435.0 343.6,440.7 344.0,446.0 C344.4,451.3 344.5,456.7 344.4,462.0 C344.3,467.3 344.0,473.3 343.6,478.0 C343.2,482.7 342.6,486.0 342.0,490.0 C341.4,494.0 340.8,498.0 340.0,502.0 C339.2,506.0 338.2,510.0 337.0,514.0 C335.8,518.0 334.3,522.0 333.0,526.0 C331.7,530.0 330.5,534.0 329.0,538.0 C327.5,542.0 325.7,546.0 324.0,550.0 C322.3,554.0 320.8,558.0 319.0,562.0 C317.2,566.0 314.5,571.0 313.0,574.0 C311.5,577.0 311.5,577.3 310.0,580.0 C308.5,582.7 306.0,586.7 304.0,590.0 C302.0,593.3 300.0,596.7 298.0,600.0 C296.0,603.3 294.2,606.3 292.0,610.0 C289.8,613.7 287.3,618.5 285.0,622.0 C282.7,625.5 280.0,628.3 278.0,631.0 C276.0,633.7 274.9,635.7 273.0,638.0 C271.1,640.3 268.8,642.8 266.5,645.0 C264.2,647.2 261.6,649.4 259.5,651.0 C257.4,652.6 255.9,653.7 254.0,654.5 C252.1,655.3 250.0,655.6 248.0,655.8Z"/></clipPath>
<linearGradient id="tdk" x1="0" y1="277" x2="0" y2="400" gradientUnits="userSpaceOnUse"><stop offset="0.05" stop-color="#a8627a" stop-opacity="0"/><stop offset="0.3" stop-color="#ae6c72" stop-opacity="0.4"/><stop offset="0.7" stop-color="#964a52" stop-opacity="0.7"/><stop offset="1" stop-color="#7c343e" stop-opacity="0.9"/></linearGradient>
<linearGradient id="tlt" x1="0" y1="277" x2="0" y2="400" gradientUnits="userSpaceOnUse"><stop offset="0" stop-color="#f9e2e3" stop-opacity="0.3"/><stop offset="0.5" stop-color="#f5d0d2" stop-opacity="0.6"/><stop offset="1" stop-color="#f9dede" stop-opacity="0.85"/></linearGradient>
<linearGradient id="tmg" x1="0" y1="380" x2="0" y2="400" gradientUnits="userSpaceOnUse"><stop offset="0" stop-color="#fff"/><stop offset="1" stop-color="#000"/></linearGradient>
<linearGradient id="bmg" x1="0" y1="380" x2="0" y2="400" gradientUnits="userSpaceOnUse"><stop offset="0" stop-color="#000"/><stop offset="1" stop-color="#fff"/></linearGradient>
<mask id="topm" maskUnits="userSpaceOnUse" x="180" y="260" width="200" height="420"><rect x="180" y="260" width="200" height="420" fill="url(#tmg)"/></mask>
<mask id="botm" maskUnits="userSpaceOnUse" x="180" y="260" width="200" height="420"><rect x="180" y="260" width="200" height="420" fill="url(#bmg)"/></mask>
<clipPath id="topc"><rect x="190" y="270" width="170" height="118"/></clipPath>
<clipPath id="botc"><rect x="190" y="388" width="170" height="280"/></clipPath>
<filter id="b1" x="-5%" y="-5%" width="110%" height="110%"><feGaussianBlur stdDeviation="0.65"/></filter>
<filter id="b2" x="-10%" y="-10%" width="120%" height="120%"><feGaussianBlur stdDeviation="1.6"/></filter>
<filter id="b8" x="-50%" y="-20%" width="200%" height="140%"><feGaussianBlur stdDeviation="8"/></filter>
<filter id="b3" x="-20%" y="-20%" width="140%" height="140%"><feGaussianBlur stdDeviation="3"/></filter>
</defs>
<rect width="600" height="900" fill="#fff"/>
<ellipse cx="300" cy="683" rx="112" ry="8" fill="url(#shadow)"/>
<path d="M196.8,350.0 C196.7,343.3 196.7,336.3 196.8,330.0 C196.9,323.7 197.0,317.3 197.6,312.0 C198.2,306.7 199.0,302.2 200.3,298.0 C201.6,293.8 203.2,290.1 205.3,286.5 C207.4,282.9 209.9,279.8 213.0,276.5 C216.1,273.2 219.7,269.7 223.7,266.7 C227.7,263.7 232.8,260.4 237.0,258.3 C241.2,256.2 245.2,255.3 249.0,254.3 C252.8,253.3 256.5,252.8 260.0,252.4 C263.5,252.1 266.7,252.1 270.0,252.2 C273.3,252.3 276.7,253.4 280.0,252.8 C283.3,252.2 286.7,250.4 290.0,248.8 C293.3,247.2 296.7,245.0 300.0,243.2 C303.3,241.4 306.7,239.8 310.0,238.0 C313.3,236.2 317.2,234.3 320.0,232.5 C322.8,230.7 324.8,228.5 327.0,227.0 C329.2,225.5 330.5,224.2 333.0,223.3 C335.5,222.4 338.8,221.7 342.0,221.5 C345.2,221.3 348.3,221.5 352.0,222.4 C355.7,223.3 360.0,224.9 364.0,227.0 C368.0,229.1 372.3,232.2 376.0,235.0 C379.7,237.8 383.2,241.0 386.0,244.0 C388.8,247.0 391.2,250.0 393.0,253.0 C394.8,256.0 396.2,259.2 397.0,262.0 C397.8,264.8 398.2,267.0 398.0,270.0 C397.8,273.0 397.0,276.7 396.0,280.0 C395.0,283.3 393.3,286.3 392.0,290.0 C390.7,293.7 389.2,298.3 388.0,302.0 C386.8,305.7 385.7,308.3 385.0,312.0 C384.3,315.7 383.8,320.0 383.6,324.0 C383.4,328.0 383.4,332.0 383.6,336.0 C383.8,340.0 384.3,344.0 385.0,348.0 C385.7,352.0 386.8,356.0 388.0,360.0 C389.2,364.0 390.7,368.0 392.0,372.0 C393.3,376.0 394.7,380.0 396.0,384.0 C397.3,388.0 398.7,392.0 400.0,396.0 C401.3,400.0 402.8,404.0 403.6,408.0 C404.4,412.0 404.3,414.7 404.8,420.0 C405.3,425.3 406.3,433.3 406.8,440.0 C407.3,446.7 407.8,453.3 408.0,460.0 C408.2,466.7 408.4,473.3 408.2,480.0 C408.0,486.7 407.6,493.3 407.0,500.0 C406.4,506.7 405.5,513.3 404.4,520.0 C403.3,526.7 402.0,533.7 400.3,540.0 C398.6,546.3 396.0,553.2 394.3,558.0 C392.6,562.8 391.7,564.7 390.0,568.5 C388.3,572.3 386.0,577.2 384.0,581.0 C382.0,584.8 380.0,588.3 378.2,591.5 C376.4,594.7 375.2,596.9 373.3,600.0 C371.4,603.1 369.2,606.4 366.7,610.0 C364.2,613.6 361.1,618.1 358.3,621.7 C355.5,625.3 352.8,628.5 350.0,631.7 C347.2,634.9 344.5,638.0 341.7,640.8 C338.9,643.6 336.1,645.9 333.3,648.3 C330.5,650.7 327.8,652.8 325.0,655.0 C322.2,657.2 319.5,659.7 316.7,661.7 C313.9,663.7 310.8,665.4 308.0,667.0 C305.2,668.6 303.0,670.1 300.0,671.5 C297.0,672.9 293.3,674.4 290.0,675.5 C286.7,676.6 283.3,677.4 280.0,678.0 C276.7,678.6 273.0,679.1 270.0,679.3 C267.0,679.5 264.7,679.4 262.0,679.3 C259.3,679.2 256.7,678.9 254.0,678.5 C251.3,678.1 248.7,677.8 246.0,677.0 C243.3,676.2 240.7,675.2 238.0,674.0 C235.3,672.8 232.5,671.2 230.0,669.5 C227.5,667.8 225.3,666.1 223.0,664.0 C220.7,661.9 218.2,659.5 216.0,657.0 C213.8,654.5 211.8,651.8 210.0,649.0 C208.2,646.2 206.3,643.2 205.0,640.0 C203.7,636.8 203.0,633.3 202.0,630.0 C201.0,626.7 199.9,623.3 199.0,620.0 C198.1,616.7 197.4,613.3 196.8,610.0 C196.2,606.7 195.8,605.0 195.6,600.0 C195.4,595.0 195.2,586.7 195.6,580.0 C196.0,573.3 196.9,566.7 198.0,560.0 C199.1,553.3 200.5,546.7 202.0,540.0 C203.5,533.3 205.5,526.7 207.0,520.0 C208.5,513.3 210.0,506.7 211.0,500.0 C212.0,493.3 212.7,486.3 213.0,480.0 C213.3,473.7 212.8,467.3 212.7,462.0 C212.6,456.7 212.7,453.3 212.2,448.0 C211.7,442.7 211.1,436.3 209.8,430.0 C208.5,423.7 206.0,416.7 204.2,410.0 C202.4,403.3 200.4,396.7 199.2,390.0 C198.0,383.3 197.6,376.7 197.2,370.0 C196.8,363.3 196.9,356.7 196.8,350.0Z" fill="url(#pg)"/>
<g clip-path="url(#oc)"><path d="M248.0,655.8 C246.0,656.0 244.3,655.9 242.0,655.5 C239.7,655.1 236.7,654.5 234.0,653.5 C231.3,652.5 228.5,651.1 226.0,649.5 C223.5,647.9 221.2,646.1 219.0,644.0 C216.8,641.9 214.7,639.3 213.0,637.0 C211.3,634.7 210.2,632.5 209.0,630.0 C207.8,627.5 207.0,625.0 206.0,622.0 C205.0,619.0 203.8,615.7 203.0,612.0 C202.2,608.3 201.5,605.3 201.0,600.0 C200.5,594.7 200.0,586.7 200.0,580.0 C200.0,573.3 200.2,566.7 201.0,560.0 C201.8,553.3 203.5,546.7 205.0,540.0 C206.5,533.3 208.5,526.7 210.0,520.0 C211.5,513.3 213.1,506.7 214.0,500.0 C214.9,493.3 215.3,486.7 215.6,480.0 C215.9,473.3 215.9,465.0 215.8,460.0 C215.7,455.0 215.6,455.0 215.0,450.0 C214.4,445.0 213.5,436.7 212.2,430.0 C210.9,423.3 208.7,416.7 207.2,410.0 C205.7,403.3 204.1,396.7 203.1,390.0 C202.1,383.3 201.8,376.7 201.4,370.0 C201.0,363.3 200.9,356.7 200.9,350.0 C200.9,343.3 201.0,336.0 201.4,330.0 C201.8,324.0 201.8,319.3 203.4,314.0 C205.0,308.7 208.0,302.8 211.0,298.0 C214.0,293.2 218.2,288.1 221.5,285.0 C224.8,281.9 227.6,280.8 231.0,279.3 C234.4,277.8 238.2,276.2 242.0,276.0 C245.8,275.8 250.5,277.1 253.5,278.0 C256.5,278.9 257.2,279.5 260.0,281.5 C262.8,283.5 266.7,286.6 270.0,290.0 C273.3,293.4 276.7,297.7 280.0,302.0 C283.3,306.3 286.7,311.0 290.0,316.0 C293.3,321.0 297.0,326.7 300.0,332.0 C303.0,337.3 305.3,342.7 308.0,348.0 C310.7,353.3 313.5,358.7 316.0,364.0 C318.5,369.3 321.2,375.7 323.0,380.0 C324.8,384.3 325.3,386.3 327.0,390.0 C328.7,393.7 331.2,397.7 333.0,402.0 C334.8,406.3 336.5,411.3 338.0,416.0 C339.5,420.7 341.0,425.0 342.0,430.0 C343.0,435.0 343.6,440.7 344.0,446.0 C344.4,451.3 344.5,456.7 344.4,462.0 C344.3,467.3 344.0,473.3 343.6,478.0 C343.2,482.7 342.6,486.0 342.0,490.0 C341.4,494.0 340.8,498.0 340.0,502.0 C339.2,506.0 338.2,510.0 337.0,514.0 C335.8,518.0 334.3,522.0 333.0,526.0 C331.7,530.0 330.5,534.0 329.0,538.0 C327.5,542.0 325.7,546.0 324.0,550.0 C322.3,554.0 320.8,558.0 319.0,562.0 C317.2,566.0 314.5,571.0 313.0,574.0 C311.5,577.0 311.5,577.3 310.0,580.0 C308.5,582.7 306.0,586.7 304.0,590.0 C302.0,593.3 300.0,596.7 298.0,600.0 C296.0,603.3 294.2,606.3 292.0,610.0 C289.8,613.7 287.3,618.5 285.0,622.0 C282.7,625.5 280.0,628.3 278.0,631.0 C276.0,633.7 274.9,635.7 273.0,638.0 C271.1,640.3 268.8,642.8 266.5,645.0 C264.2,647.2 261.6,649.4 259.5,651.0 C257.4,652.6 255.9,653.7 254.0,654.5 C252.1,655.3 250.0,655.6 248.0,655.8Z" fill="none" stroke="#b1a5d2" stroke-opacity="0.35" stroke-width="14" filter="url(#b3)"/></g>
<g clip-path="url(#pc)">
<path d="M248.0,655.8 C246.0,656.0 244.3,655.9 242.0,655.5 C239.7,655.1 236.7,654.5 234.0,653.5 C231.3,652.5 228.5,651.1 226.0,649.5 C223.5,647.9 221.2,646.1 219.0,644.0 C216.8,641.9 214.7,639.3 213.0,637.0 C211.3,634.7 210.2,632.5 209.0,630.0 C207.8,627.5 207.0,625.0 206.0,622.0 C205.0,619.0 203.8,615.7 203.0,612.0 C202.2,608.3 201.5,605.3 201.0,600.0 C200.5,594.7 200.0,586.7 200.0,580.0 C200.0,573.3 200.2,566.7 201.0,560.0 C201.8,553.3 203.5,546.7 205.0,540.0 C206.5,533.3 208.5,526.7 210.0,520.0 C211.5,513.3 213.1,506.7 214.0,500.0 C214.9,493.3 215.3,486.7 215.6,480.0 C215.9,473.3 215.9,465.0 215.8,460.0 C215.7,455.0 215.6,455.0 215.0,450.0 C214.4,445.0 213.5,436.7 212.2,430.0 C210.9,423.3 208.7,416.7 207.2,410.0 C205.7,403.3 204.1,396.7 203.1,390.0 C202.1,383.3 201.8,376.7 201.4,370.0 C201.0,363.3 200.9,356.7 200.9,350.0 C200.9,343.3 201.0,336.0 201.4,330.0 C201.8,324.0 201.8,319.3 203.4,314.0 C205.0,308.7 208.0,302.8 211.0,298.0 C214.0,293.2 218.2,288.1 221.5,285.0 C224.8,281.9 227.6,280.8 231.0,279.3 C234.4,277.8 238.2,276.2 242.0,276.0 C245.8,275.8 250.5,277.1 253.5,278.0 C256.5,278.9 257.2,279.5 260.0,281.5 C262.8,283.5 266.7,286.6 270.0,290.0 C273.3,293.4 276.7,297.7 280.0,302.0 C283.3,306.3 286.7,311.0 290.0,316.0 C293.3,321.0 297.0,326.7 300.0,332.0 C303.0,337.3 305.3,342.7 308.0,348.0 C310.7,353.3 313.5,358.7 316.0,364.0 C318.5,369.3 321.2,375.7 323.0,380.0 C324.8,384.3 325.3,386.3 327.0,390.0 C328.7,393.7 331.2,397.7 333.0,402.0 C334.8,406.3 336.5,411.3 338.0,416.0 C339.5,420.7 341.0,425.0 342.0,430.0 C343.0,435.0 343.6,440.7 344.0,446.0 C344.4,451.3 344.5,456.7 344.4,462.0 C344.3,467.3 344.0,473.3 343.6,478.0 C343.2,482.7 342.6,486.0 342.0,490.0 C341.4,494.0 340.8,498.0 340.0,502.0 C339.2,506.0 338.2,510.0 337.0,514.0 C335.8,518.0 334.3,522.0 333.0,526.0 C331.7,530.0 330.5,534.0 329.0,538.0 C327.5,542.0 325.7,546.0 324.0,550.0 C322.3,554.0 320.8,558.0 319.0,562.0 C317.2,566.0 314.5,571.0 313.0,574.0 C311.5,577.0 311.5,577.3 310.0,580.0 C308.5,582.7 306.0,586.7 304.0,590.0 C302.0,593.3 300.0,596.7 298.0,600.0 C296.0,603.3 294.2,606.3 292.0,610.0 C289.8,613.7 287.3,618.5 285.0,622.0 C282.7,625.5 280.0,628.3 278.0,631.0 C276.0,633.7 274.9,635.7 273.0,638.0 C271.1,640.3 268.8,642.8 266.5,645.0 C264.2,647.2 261.6,649.4 259.5,651.0 C257.4,652.6 255.9,653.7 254.0,654.5 C252.1,655.3 250.0,655.6 248.0,655.8Z" fill="url(#pinkv)"/>
<g mask="url(#topm)"><g filter="url(#b2)">
<g fill="url(#tdk)"><path d="M213.3,272.0 L212.6,280.0 L211.9,288.0 L211.2,296.0 L210.5,304.0 L209.8,312.0 L209.2,320.0 L208.5,328.0 L207.8,336.0 L207.1,344.0 L206.4,352.0 L205.7,360.0 L205.1,368.0 L204.4,376.0 L203.7,384.0 L203.0,392.0 L208.7,392.0 L209.3,384.0 L209.9,376.0 L210.5,368.0 L211.1,360.0 L211.7,352.0 L212.3,344.0 L212.9,336.0 L213.5,328.0 L214.1,320.0 L214.7,312.0 L215.3,304.0 L215.9,296.0 L216.5,288.0 L217.1,280.0 L217.7,272.0Z"/>
<path d="M223.8,272.0 L223.3,280.0 L222.8,288.0 L222.3,296.0 L221.9,304.0 L221.4,312.0 L220.9,320.0 L220.4,328.0 L219.9,336.0 L219.4,344.0 L218.9,352.0 L218.4,360.0 L218.0,368.0 L217.5,376.0 L217.0,384.0 L216.5,392.0 L222.2,392.0 L222.6,384.0 L223.0,376.0 L223.4,368.0 L223.8,360.0 L224.2,352.0 L224.6,344.0 L225.0,336.0 L225.4,328.0 L225.8,320.0 L226.2,312.0 L226.6,304.0 L227.0,296.0 L227.4,288.0 L227.8,280.0 L228.2,272.0Z"/>
<path d="M234.4,272.0 L234.1,280.0 L233.8,288.0 L233.5,296.0 L233.2,304.0 L232.9,312.0 L232.6,320.0 L232.3,328.0 L232.0,336.0 L231.7,344.0 L231.5,352.0 L231.2,360.0 L230.9,368.0 L230.6,376.0 L230.3,384.0 L230.0,392.0 L235.7,392.0 L235.9,384.0 L236.1,376.0 L236.3,368.0 L236.5,360.0 L236.7,352.0 L236.9,344.0 L237.1,336.0 L237.3,328.0 L237.5,320.0 L237.8,312.0 L238.0,304.0 L238.2,296.0 L238.4,288.0 L238.6,280.0 L238.8,272.0Z"/>
<path d="M244.9,272.0 L244.8,280.0 L244.7,288.0 L244.6,296.0 L244.5,304.0 L244.4,312.0 L244.4,320.0 L244.3,328.0 L244.2,336.0 L244.1,344.0 L244.0,352.0 L243.9,360.0 L243.8,368.0 L243.7,376.0 L243.6,384.0 L243.5,392.0 L249.2,392.0 L249.2,384.0 L249.2,376.0 L249.2,368.0 L249.2,360.0 L249.2,352.0 L249.2,344.0 L249.3,336.0 L249.3,328.0 L249.3,320.0 L249.3,312.0 L249.3,304.0 L249.3,296.0 L249.3,288.0 L249.3,280.0 L249.4,272.0Z"/>
<path d="M255.5,272.0 L255.6,280.0 L255.7,288.0 L255.8,296.0 L255.9,304.0 L256.0,312.0 L256.1,320.0 L256.2,328.0 L256.3,336.0 L256.4,344.0 L256.5,352.0 L256.6,360.0 L256.7,368.0 L256.8,376.0 L256.9,384.0 L257.0,392.0 L262.7,392.0 L262.5,384.0 L262.3,376.0 L262.1,368.0 L261.9,360.0 L261.7,352.0 L261.6,344.0 L261.4,336.0 L261.2,328.0 L261.0,320.0 L260.8,312.0 L260.6,304.0 L260.5,296.0 L260.3,288.0 L260.1,280.0 L259.9,272.0Z"/>
<path d="M266.0,272.0 L266.3,280.0 L266.6,288.0 L266.9,296.0 L267.2,304.0 L267.5,312.0 L267.8,320.0 L268.1,328.0 L268.4,336.0 L268.7,344.0 L269.0,352.0 L269.3,360.0 L269.6,368.0 L269.9,376.0 L270.2,384.0 L270.5,392.0 L276.2,392.0 L275.8,384.0 L275.4,376.0 L275.0,368.0 L274.6,360.0 L274.3,352.0 L273.9,344.0 L273.5,336.0 L273.1,328.0 L272.7,320.0 L272.4,312.0 L272.0,304.0 L271.6,296.0 L271.2,288.0 L270.8,280.0 L270.5,272.0Z"/>
<path d="M276.6,272.0 L277.1,280.0 L277.6,288.0 L278.1,296.0 L278.6,304.0 L279.1,312.0 L279.5,320.0 L280.0,328.0 L280.5,336.0 L281.0,344.0 L281.5,352.0 L282.0,360.0 L282.5,368.0 L283.0,376.0 L283.5,384.0 L284.0,392.0 L289.7,392.0 L289.1,384.0 L288.5,376.0 L287.9,368.0 L287.4,360.0 L286.8,352.0 L286.2,344.0 L285.6,336.0 L285.1,328.0 L284.5,320.0 L283.9,312.0 L283.3,304.0 L282.7,296.0 L282.2,288.0 L281.6,280.0 L281.0,272.0Z"/>
<path d="M287.1,272.0 L287.8,280.0 L288.5,288.0 L289.2,296.0 L289.9,304.0 L290.6,312.0 L291.3,320.0 L292.0,328.0 L292.7,336.0 L293.4,344.0 L294.0,352.0 L294.7,360.0 L295.4,368.0 L296.1,376.0 L296.8,384.0 L297.5,392.0 L303.2,392.0 L302.4,384.0 L301.6,376.0 L300.8,368.0 L300.1,360.0 L299.3,352.0 L298.5,344.0 L297.8,336.0 L297.0,328.0 L296.2,320.0 L295.4,312.0 L294.7,304.0 L293.9,296.0 L293.1,288.0 L292.3,280.0 L291.6,272.0Z"/>
<path d="M297.7,272.0 L298.6,280.0 L299.5,288.0 L300.4,296.0 L301.2,304.0 L302.1,312.0 L303.0,320.0 L303.9,328.0 L304.8,336.0 L305.7,344.0 L306.6,352.0 L307.5,360.0 L308.3,368.0 L309.2,376.0 L310.1,384.0 L311.0,392.0 L316.7,392.0 L315.7,384.0 L314.7,376.0 L313.8,368.0 L312.8,360.0 L311.8,352.0 L310.9,344.0 L309.9,336.0 L308.9,328.0 L307.9,320.0 L307.0,312.0 L306.0,304.0 L305.0,296.0 L304.1,288.0 L303.1,280.0 L302.1,272.0Z"/>
<path d="M308.2,272.0 L309.3,280.0 L310.4,288.0 L311.5,296.0 L312.6,304.0 L313.7,312.0 L314.7,320.0 L315.8,328.0 L316.9,336.0 L318.0,344.0 L319.1,352.0 L320.2,360.0 L321.2,368.0 L322.3,376.0 L323.4,384.0 L324.5,392.0 L330.2,392.0 L329.0,384.0 L327.8,376.0 L326.7,368.0 L325.5,360.0 L324.3,352.0 L323.2,344.0 L322.0,336.0 L320.8,328.0 L319.7,320.0 L318.5,312.0 L317.3,304.0 L316.2,296.0 L315.0,288.0 L313.8,280.0 L312.7,272.0Z"/>
<path d="M318.8,272.0 L320.1,280.0 L321.4,288.0 L322.6,296.0 L323.9,304.0 L325.2,312.0 L326.5,320.0 L327.8,328.0 L329.0,336.0 L330.3,344.0 L331.6,352.0 L332.9,360.0 L334.2,368.0 L335.4,376.0 L336.7,384.0 L338.0,392.0 L343.7,392.0 L342.3,384.0 L340.9,376.0 L339.6,368.0 L338.2,360.0 L336.9,352.0 L335.5,344.0 L334.1,336.0 L332.8,328.0 L331.4,320.0 L330.0,312.0 L328.7,304.0 L327.3,296.0 L326.0,288.0 L324.6,280.0 L323.2,272.0Z"/></g>
<g fill="url(#tlt)"><path d="M219.1,272.0 L218.5,280.0 L217.9,288.0 L217.3,296.0 L216.8,304.0 L216.2,312.0 L215.6,320.0 L215.0,328.0 L214.5,336.0 L213.9,344.0 L213.3,352.0 L212.7,360.0 L212.2,368.0 L211.6,376.0 L211.0,384.0 L210.4,392.0 L215.2,392.0 L215.7,384.0 L216.2,376.0 L216.7,368.0 L217.2,360.0 L217.7,352.0 L218.2,344.0 L218.7,336.0 L219.2,328.0 L219.7,320.0 L220.2,312.0 L220.7,304.0 L221.2,296.0 L221.7,288.0 L222.2,280.0 L222.8,272.0Z"/>
<path d="M229.6,272.0 L229.2,280.0 L228.9,288.0 L228.5,296.0 L228.1,304.0 L227.7,312.0 L227.3,320.0 L227.0,328.0 L226.6,336.0 L226.2,344.0 L225.8,352.0 L225.4,360.0 L225.1,368.0 L224.7,376.0 L224.3,384.0 L223.9,392.0 L228.7,392.0 L229.0,384.0 L229.3,376.0 L229.6,368.0 L229.9,360.0 L230.2,352.0 L230.5,344.0 L230.8,336.0 L231.1,328.0 L231.4,320.0 L231.8,312.0 L232.1,304.0 L232.4,296.0 L232.7,288.0 L233.0,280.0 L233.3,272.0Z"/>
<path d="M240.2,272.0 L240.0,280.0 L239.8,288.0 L239.6,296.0 L239.4,304.0 L239.3,312.0 L239.1,320.0 L238.9,328.0 L238.7,336.0 L238.5,344.0 L238.3,352.0 L238.2,360.0 L238.0,368.0 L237.8,376.0 L237.6,384.0 L237.4,392.0 L242.2,392.0 L242.3,384.0 L242.4,376.0 L242.5,368.0 L242.6,360.0 L242.7,352.0 L242.8,344.0 L242.9,336.0 L243.1,328.0 L243.2,320.0 L243.3,312.0 L243.4,304.0 L243.5,296.0 L243.6,288.0 L243.7,280.0 L243.9,272.0Z"/>
<path d="M250.7,272.0 L250.7,280.0 L250.8,288.0 L250.8,296.0 L250.8,304.0 L250.8,312.0 L250.8,320.0 L250.8,328.0 L250.8,336.0 L250.8,344.0 L250.9,352.0 L250.9,360.0 L250.9,368.0 L250.9,376.0 L250.9,384.0 L250.9,392.0 L255.7,392.0 L255.6,384.0 L255.5,376.0 L255.4,368.0 L255.3,360.0 L255.2,352.0 L255.2,344.0 L255.1,336.0 L255.0,328.0 L254.9,320.0 L254.8,312.0 L254.7,304.0 L254.7,296.0 L254.6,288.0 L254.5,280.0 L254.4,272.0Z"/>
<path d="M261.3,272.0 L261.5,280.0 L261.7,288.0 L261.9,296.0 L262.1,304.0 L262.3,312.0 L262.5,320.0 L262.7,328.0 L263.0,336.0 L263.2,344.0 L263.4,352.0 L263.6,360.0 L263.8,368.0 L264.0,376.0 L264.2,384.0 L264.4,392.0 L269.1,392.0 L268.9,384.0 L268.6,376.0 L268.3,368.0 L268.0,360.0 L267.8,352.0 L267.5,344.0 L267.2,336.0 L266.9,328.0 L266.6,320.0 L266.4,312.0 L266.1,304.0 L265.8,296.0 L265.5,288.0 L265.3,280.0 L265.0,272.0Z"/>
<path d="M271.8,272.0 L272.2,280.0 L272.6,288.0 L273.1,296.0 L273.5,304.0 L273.9,312.0 L274.3,320.0 L274.7,328.0 L275.1,336.0 L275.5,344.0 L275.9,352.0 L276.3,360.0 L276.7,368.0 L277.1,376.0 L277.5,384.0 L277.9,392.0 L282.6,392.0 L282.2,384.0 L281.7,376.0 L281.2,368.0 L280.8,360.0 L280.3,352.0 L279.8,344.0 L279.3,336.0 L278.9,328.0 L278.4,320.0 L277.9,312.0 L277.4,304.0 L277.0,296.0 L276.5,288.0 L276.0,280.0 L275.5,272.0Z"/>
<path d="M282.4,272.0 L283.0,280.0 L283.6,288.0 L284.2,296.0 L284.8,304.0 L285.4,312.0 L286.0,320.0 L286.6,328.0 L287.2,336.0 L287.8,344.0 L288.4,352.0 L289.0,360.0 L289.6,368.0 L290.2,376.0 L290.8,384.0 L291.4,392.0 L296.1,392.0 L295.5,384.0 L294.8,376.0 L294.1,368.0 L293.5,360.0 L292.8,352.0 L292.1,344.0 L291.5,336.0 L290.8,328.0 L290.1,320.0 L289.4,312.0 L288.8,304.0 L288.1,296.0 L287.4,288.0 L286.8,280.0 L286.1,272.0Z"/>
<path d="M292.9,272.0 L293.7,280.0 L294.5,288.0 L295.3,296.0 L296.1,304.0 L296.9,312.0 L297.7,320.0 L298.5,328.0 L299.3,336.0 L300.1,344.0 L300.9,352.0 L301.7,360.0 L302.5,368.0 L303.3,376.0 L304.1,384.0 L304.9,392.0 L309.6,392.0 L308.8,384.0 L307.9,376.0 L307.0,368.0 L306.2,360.0 L305.3,352.0 L304.4,344.0 L303.6,336.0 L302.7,328.0 L301.8,320.0 L301.0,312.0 L300.1,304.0 L299.2,296.0 L298.4,288.0 L297.5,280.0 L296.6,272.0Z"/>
<path d="M303.5,272.0 L304.5,280.0 L305.5,288.0 L306.5,296.0 L307.5,304.0 L308.5,312.0 L309.5,320.0 L310.5,328.0 L311.5,336.0 L312.5,344.0 L313.4,352.0 L314.4,360.0 L315.4,368.0 L316.4,376.0 L317.4,384.0 L318.4,392.0 L323.1,392.0 L322.1,384.0 L321.0,376.0 L320.0,368.0 L318.9,360.0 L317.8,352.0 L316.8,344.0 L315.7,336.0 L314.6,328.0 L313.6,320.0 L312.5,312.0 L311.4,304.0 L310.4,296.0 L309.3,288.0 L308.3,280.0 L307.2,272.0Z"/>
<path d="M314.1,272.0 L315.2,280.0 L316.4,288.0 L317.6,296.0 L318.8,304.0 L320.0,312.0 L321.2,320.0 L322.4,328.0 L323.6,336.0 L324.8,344.0 L326.0,352.0 L327.2,360.0 L328.4,368.0 L329.5,376.0 L330.7,384.0 L331.9,392.0 L336.6,392.0 L335.4,384.0 L334.1,376.0 L332.9,368.0 L331.6,360.0 L330.3,352.0 L329.1,344.0 L327.8,336.0 L326.6,328.0 L325.3,320.0 L324.0,312.0 L322.8,304.0 L321.5,296.0 L320.3,288.0 L319.0,280.0 L317.7,272.0Z"/>
<path d="M324.6,272.0 L326.0,280.0 L327.4,288.0 L328.8,296.0 L330.2,304.0 L331.5,312.0 L332.9,320.0 L334.3,328.0 L335.7,336.0 L337.1,344.0 L338.5,352.0 L339.9,360.0 L341.3,368.0 L342.6,376.0 L344.0,384.0 L345.4,392.0 L350.1,392.0 L348.7,384.0 L347.2,376.0 L345.8,368.0 L344.3,360.0 L342.9,352.0 L341.4,344.0 L340.0,336.0 L338.5,328.0 L337.0,320.0 L335.6,312.0 L334.1,304.0 L332.7,296.0 L331.2,288.0 L329.8,280.0 L328.3,272.0Z"/></g>
</g></g>
<g mask="url(#botm)"><use href="#rg" filter="url(#b1)"/></g>
<path d="M284.0,302.0 C285.7,304.3 290.7,311.0 294.0,316.0 C297.3,321.0 301.0,326.7 304.0,332.0 C307.0,337.3 309.3,342.7 312.0,348.0 C314.7,353.3 317.5,358.7 320.0,364.0 C322.5,369.3 325.2,375.7 327.0,380.0 C328.8,384.3 329.3,386.3 331.0,390.0 C332.7,393.7 335.2,397.7 337.0,402.0 C338.8,406.3 340.5,411.3 342.0,416.0 C343.5,420.7 345.0,425.0 346.0,430.0 C347.0,435.0 347.6,440.7 348.0,446.0 C348.4,451.3 348.5,456.7 348.4,462.0 C348.3,467.3 348.0,473.3 347.6,478.0 C347.2,482.7 346.6,486.0 346.0,490.0 C345.4,494.0 344.8,498.0 344.0,502.0 C343.2,506.0 342.2,510.0 341.0,514.0 C339.8,518.0 337.7,524.0 337.0,526.0" fill="none" stroke="#702a42" stroke-opacity="0.22" stroke-width="40" filter="url(#b8)"/>
<ellipse cx="230" cy="300" rx="30" ry="24" fill="#fdecec" fill-opacity="0.8" filter="url(#b8)"/>
<ellipse cx="311" cy="388" rx="13" ry="42" transform="rotate(-24 311 388)" fill="#541628" fill-opacity="0.5" filter="url(#b3)"/>
<path d="M282.0,302.0 C283.7,304.3 288.7,311.0 292.0,316.0 C295.3,321.0 299.0,326.7 302.0,332.0 C305.0,337.3 307.3,342.7 310.0,348.0 C312.7,353.3 315.5,358.7 318.0,364.0 C320.5,369.3 323.2,375.7 325.0,380.0 C326.8,384.3 327.3,386.3 329.0,390.0 C330.7,393.7 333.2,397.7 335.0,402.0 C336.8,406.3 338.5,411.3 340.0,416.0 C341.5,420.7 343.3,427.7 344.0,430.0" fill="none" stroke="#7a3452" stroke-opacity="0.35" stroke-width="34" filter="url(#b8)"/>
<path d="M230.2,430.0 C230.7,433.3 232.4,445.0 233.0,450.0 C233.6,455.0 233.7,455.0 233.8,460.0 C233.9,465.0 233.9,473.3 233.6,480.0 C233.3,486.7 232.9,493.3 232.0,500.0 C231.1,506.7 229.5,513.3 228.0,520.0 C226.5,526.7 224.5,533.3 223.0,540.0 C221.5,546.7 219.8,553.3 219.0,560.0 C218.2,566.7 218.0,573.3 218.0,580.0 C218.0,586.7 218.5,594.7 219.0,600.0 C219.5,605.3 220.2,608.3 221.0,612.0 C221.8,615.7 223.5,620.3 224.0,622.0" fill="none" stroke="#ffffff" stroke-opacity="0.3" stroke-width="40" filter="url(#b8)"/>
<path d="M270.0,290.0 C271.7,292.0 276.7,297.7 280.0,302.0 C283.3,306.3 286.7,311.0 290.0,316.0 C293.3,321.0 297.0,326.7 300.0,332.0 C303.0,337.3 305.3,342.7 308.0,348.0 C310.7,353.3 313.5,358.7 316.0,364.0 C318.5,369.3 321.2,375.7 323.0,380.0 C324.8,384.3 325.3,386.3 327.0,390.0 C328.7,393.7 331.2,397.7 333.0,402.0 C334.8,406.3 336.5,411.3 338.0,416.0 C339.5,420.7 341.0,425.0 342.0,430.0 C343.0,435.0 343.6,440.7 344.0,446.0 C344.4,451.3 344.5,456.7 344.4,462.0 C344.3,467.3 344.0,473.3 343.6,478.0 C343.2,482.7 342.6,486.0 342.0,490.0 C341.4,494.0 340.8,498.0 340.0,502.0 C339.2,506.0 338.2,510.0 337.0,514.0 C335.8,518.0 334.3,522.0 333.0,526.0 C331.7,530.0 330.5,534.0 329.0,538.0 C327.5,542.0 325.7,546.0 324.0,550.0 C322.3,554.0 320.8,558.0 319.0,562.0 C317.2,566.0 314.0,572.0 313.0,574.0" fill="none" stroke="url(#rimg)" stroke-width="3" filter="url(#b1)"/>
<path d="M207.2,410.0 C206.5,406.7 204.1,396.7 203.1,390.0 C202.1,383.3 201.8,376.7 201.4,370.0 C201.0,363.3 200.9,356.7 200.9,350.0 C200.9,343.3 201.0,336.0 201.4,330.0 C201.8,324.0 201.8,319.3 203.4,314.0 C205.0,308.7 208.0,302.8 211.0,298.0 C214.0,293.2 218.2,288.1 221.5,285.0 C224.8,281.9 227.6,280.8 231.0,279.3 C234.4,277.8 238.2,276.2 242.0,276.0 C245.8,275.8 250.5,277.1 253.5,278.0 C256.5,278.9 257.2,279.5 260.0,281.5 C262.8,283.5 268.3,288.6 270.0,290.0" fill="none" stroke="#f9e3e8" stroke-opacity="0.85" stroke-width="5" filter="url(#b2)"/>
</g>
<path d="M248.0,655.8 C246.0,656.0 244.3,655.9 242.0,655.5 C239.7,655.1 236.7,654.5 234.0,653.5 C231.3,652.5 228.5,651.1 226.0,649.5 C223.5,647.9 221.2,646.1 219.0,644.0 C216.8,641.9 214.7,639.3 213.0,637.0 C211.3,634.7 210.2,632.5 209.0,630.0 C207.8,627.5 207.0,625.0 206.0,622.0 C205.0,619.0 203.8,615.7 203.0,612.0 C202.2,608.3 201.5,605.3 201.0,600.0 C200.5,594.7 200.0,586.7 200.0,580.0 C200.0,573.3 200.2,566.7 201.0,560.0 C201.8,553.3 203.5,546.7 205.0,540.0 C206.5,533.3 208.5,526.7 210.0,520.0 C211.5,513.3 213.1,506.7 214.0,500.0 C214.9,493.3 215.3,486.7 215.6,480.0 C215.9,473.3 215.9,465.0 215.8,460.0 C215.7,455.0 215.6,455.0 215.0,450.0 C214.4,445.0 213.5,436.7 212.2,430.0 C210.9,423.3 208.7,416.7 207.2,410.0 C205.7,403.3 204.1,396.7 203.1,390.0 C202.1,383.3 201.8,376.7 201.4,370.0 C201.0,363.3 200.9,356.7 200.9,350.0 C200.9,343.3 201.0,336.0 201.4,330.0 C201.8,324.0 201.8,319.3 203.4,314.0 C205.0,308.7 208.0,302.8 211.0,298.0 C214.0,293.2 218.2,288.1 221.5,285.0 C224.8,281.9 227.6,280.8 231.0,279.3 C234.4,277.8 238.2,276.2 242.0,276.0 C245.8,275.8 250.5,277.1 253.5,278.0 C256.5,278.9 257.2,279.5 260.0,281.5 C262.8,283.5 266.7,286.6 270.0,290.0 C273.3,293.4 276.7,297.7 280.0,302.0 C283.3,306.3 286.7,311.0 290.0,316.0 C293.3,321.0 297.0,326.7 300.0,332.0 C303.0,337.3 305.3,342.7 308.0,348.0 C310.7,353.3 313.5,358.7 316.0,364.0 C318.5,369.3 321.2,375.7 323.0,380.0 C324.8,384.3 325.3,386.3 327.0,390.0 C328.7,393.7 331.2,397.7 333.0,402.0 C334.8,406.3 336.5,411.3 338.0,416.0 C339.5,420.7 341.0,425.0 342.0,430.0 C343.0,435.0 343.6,440.7 344.0,446.0 C344.4,451.3 344.5,456.7 344.4,462.0 C344.3,467.3 344.0,473.3 343.6,478.0 C343.2,482.7 342.6,486.0 342.0,490.0 C341.4,494.0 340.8,498.0 340.0,502.0 C339.2,506.0 338.2,510.0 337.0,514.0 C335.8,518.0 334.3,522.0 333.0,526.0 C331.7,530.0 330.5,534.0 329.0,538.0 C327.5,542.0 325.7,546.0 324.0,550.0 C322.3,554.0 320.8,558.0 319.0,562.0 C317.2,566.0 314.5,571.0 313.0,574.0 C311.5,577.0 311.5,577.3 310.0,580.0 C308.5,582.7 306.0,586.7 304.0,590.0 C302.0,593.3 300.0,596.7 298.0,600.0 C296.0,603.3 294.2,606.3 292.0,610.0 C289.8,613.7 287.3,618.5 285.0,622.0 C282.7,625.5 280.0,628.3 278.0,631.0 C276.0,633.7 274.9,635.7 273.0,638.0 C271.1,640.3 268.8,642.8 266.5,645.0 C264.2,647.2 261.6,649.4 259.5,651.0 C257.4,652.6 255.9,653.7 254.0,654.5 C252.1,655.3 250.0,655.6 248.0,655.8Z" fill="none" stroke="#8a4a60" stroke-opacity="0.45" stroke-width="1"/>
<!-- engraved marks -->
<g fill="none" stroke="#6f5f9c" stroke-opacity="0.55" stroke-width="0.9" stroke-linecap="round" stroke-linejoin="round">
<path d="M233.5,662.5l2.5,2.5M237.5,667l3.5,2.5M240,671l2.5,1.5M244,663.5l-3.5,6.5 8,3.5M244,663.5l4,1.5 6.5,9 -2,0.5M250.5,664.5l4,6"/>
<path d="M269,675.5l9.5,-3.2M271.5,672l6.5,-2.2M277.5,669.5l1.2,3.2M282,668.2l8.5,-3 1.2,3.4 -8.5,3zM283,671l8,-2.8M293.5,664l7,-2.2M294.8,667.6l6.8,-2.2M293.5,664l1.3,3.6"/>
</g>
<!-- LELO badge -->
<g transform="translate(223.2 384.4) skewX(11)">
<rect x="-1.5" y="-1.5" width="72" height="29" rx="3" fill="#7a3046" fill-opacity="0.4" filter="url(#b1)"/>
<rect x="0" y="0" width="67.5" height="24.2" rx="2" fill="#dfaaa8" stroke="#b97a82" stroke-width="0.7"/>
<rect x="0.8" y="0.5" width="66" height="2.2" rx="1" fill="#f9e0df"/>
<rect x="1" y="21.6" width="65.5" height="2.2" rx="1" fill="#c8888c"/>
<rect x="2.6" y="3.2" width="62.2" height="17.6" rx="1.2" fill="#e6b4b2" stroke="#f5d8d7" stroke-width="0.9"/>
<text x="4.3" y="17.9" font-size="18" textLength="58.6" lengthAdjust="spacing" style="font-weight:normal;fill:#efc6c4;stroke:#8f3942;stroke-width:0.75">LELO</text>
</g>
<!-- callout lines -->
<g stroke="#2a2a2a" stroke-width="1.25" stroke-dasharray="2.8,1.8" fill="none">
<path d="M191.5,258.5H272"/>
<path d="M382.5,220.3V276"/>
<path d="M369.8,372.5H435.3V400.5"/>
<path d="M314.5,639V704.8"/>
</g>
<circle cx="171.6" cy="258.5" r="11.8" fill="#fff" stroke="#111" stroke-width="1.45"/><text x="171.6" y="264.2" text-anchor="middle" font-size="16" stroke="#111" stroke-width="0.3" textLength="7.5" lengthAdjust="spacingAndGlyphs">1</text>
<circle cx="382.7" cy="202.1" r="11.8" fill="#fff" stroke="#111" stroke-width="1.45"/><text x="382.7" y="207.8" text-anchor="middle" font-size="16" stroke="#111" stroke-width="0.3" textLength="9.6" lengthAdjust="spacingAndGlyphs">2</text>
<circle cx="435.1" cy="420.6" r="12.8" fill="#fff" stroke="#111" stroke-width="1.45"/><text x="435.1" y="426.3" text-anchor="middle" font-size="16" stroke="#111" stroke-width="0.3" textLength="9.6" lengthAdjust="spacingAndGlyphs">3</text>
<circle cx="315.2" cy="726.0" r="12.5" fill="#fff" stroke="#111" stroke-width="1.45"/><text x="315.2" y="731.7" text-anchor="middle" font-size="16" stroke="#111" stroke-width="0.3" textLength="9.6" lengthAdjust="spacingAndGlyphs">4</text>
<g font-size="17" stroke="#111" stroke-width="0.35">
<text x="138.3" y="261.9" textLength="100.2" lengthAdjust="spacingAndGlyphs" text-anchor="end">UNE VASTE</text>
<text x="138.3" y="282.1" textLength="99.3" lengthAdjust="spacingAndGlyphs" text-anchor="end">GAMME DE</text>
<text x="138.3" y="302.3" textLength="121.2" lengthAdjust="spacingAndGlyphs" text-anchor="end">MODES ET DE</text>
<text x="138.3" y="322.5" textLength="108.8" lengthAdjust="spacingAndGlyphs" text-anchor="end">VIBRATIONS</text>
<text x="406.8" y="197.4" textLength="164.4" lengthAdjust="spacingAndGlyphs" text-anchor="start">STIMULATION PAR</text>
<text x="406.8" y="217.5" textLength="162.2" lengthAdjust="spacingAndGlyphs" text-anchor="start">ONDES SONIQUES</text>
<text x="421.8" y="457.8" textLength="110.5" lengthAdjust="spacingAndGlyphs" text-anchor="start">TRANSITION</text>
<text x="422.2" y="478.9" textLength="125.5" lengthAdjust="spacingAndGlyphs" text-anchor="start">FLUIDE ENTRE</text>
<text x="422.2" y="499.7" textLength="148.0" lengthAdjust="spacingAndGlyphs" text-anchor="start">LES DIFFÉRENTS</text>
<text x="422.2" y="520.7" textLength="65.5" lengthAdjust="spacingAndGlyphs" text-anchor="start">MODES</text>
<text x="290.3" y="731.9" textLength="98.4" lengthAdjust="spacingAndGlyphs" text-anchor="end">CONNECTÉ</text>
<text x="290.0" y="752.5" textLength="98.0" lengthAdjust="spacingAndGlyphs" text-anchor="end">VIA L’APPLI</text>
</g>
</svg>
</body></html>
